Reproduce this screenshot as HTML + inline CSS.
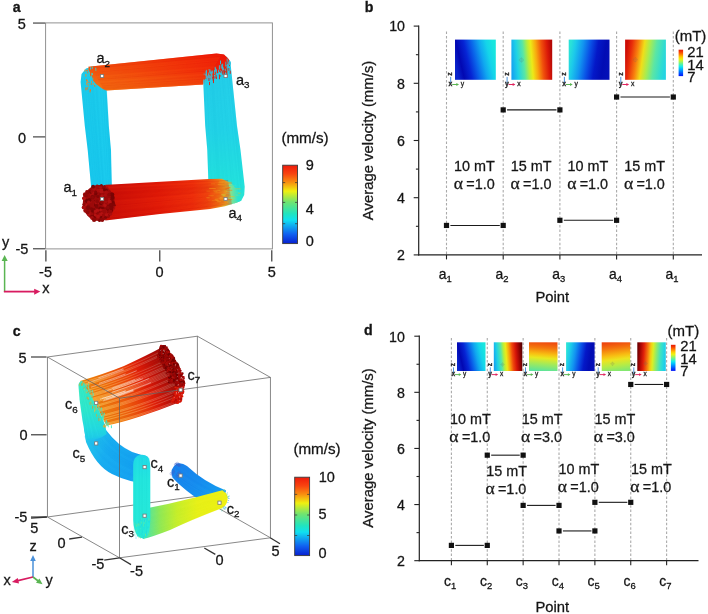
<!DOCTYPE html>
<html><head><meta charset="utf-8"><title>figure</title>
<style>
html,body{margin:0;padding:0;background:#fff;}
body{width:708px;height:614px;overflow:hidden;font-family:"Liberation Sans",sans-serif;}
svg{display:block;will-change:transform;}
svg text{font-family:"Liberation Sans",sans-serif;stroke:#141414;stroke-width:0.28px;}
</style></head><body>
<svg width="708" height="614" viewBox="0 0 708 614">
<defs><linearGradient id="g1" x1="0" y1="0" x2="0" y2="1" gradientUnits="objectBoundingBox"><stop offset="0.000" stop-color="#1ccaea"/><stop offset="1.000" stop-color="#18c6ec"/></linearGradient><linearGradient id="g2" x1="0" y1="0" x2="0" y2="1" gradientUnits="objectBoundingBox"><stop offset="0.000" stop-color="#24c8e8"/><stop offset="0.500" stop-color="#22d0e6"/><stop offset="0.850" stop-color="#22e0da"/><stop offset="1.000" stop-color="#2ae4d2"/></linearGradient><linearGradient id="g3" x1="89" y1="0" x2="228" y2="0" gradientUnits="userSpaceOnUse"><stop offset="0.000" stop-color="#f07414"/><stop offset="0.300" stop-color="#f05c0e"/><stop offset="0.600" stop-color="#f03c0a"/><stop offset="0.850" stop-color="#ee1e08"/><stop offset="1.000" stop-color="#e81408"/></linearGradient><linearGradient id="g4" x1="0" y1="0" x2="0" y2="1" gradientUnits="objectBoundingBox"><stop offset="0.000" stop-color="#ee1206"/><stop offset="0.450" stop-color="#f02808"/><stop offset="1.000" stop-color="#f68416"/></linearGradient><linearGradient id="g5" x1="89" y1="0" x2="228" y2="0" gradientUnits="userSpaceOnUse"><stop offset="0.000" stop-color="#666"/><stop offset="0.500" stop-color="#777"/><stop offset="1.000" stop-color="#888"/></linearGradient><mask id="mtop"><rect x="80" y="45" width="160" height="60" fill="url(#g5)"/></mask><linearGradient id="g6" x1="105" y1="0" x2="238" y2="0" gradientUnits="userSpaceOnUse"><stop offset="0.000" stop-color="#c00e08"/><stop offset="0.120" stop-color="#cc1008"/><stop offset="0.400" stop-color="#e01a08"/><stop offset="0.660" stop-color="#ee300c"/><stop offset="0.770" stop-color="#f04a10"/><stop offset="0.850" stop-color="#f07c16"/><stop offset="0.905" stop-color="#e4b82c"/><stop offset="0.950" stop-color="#80e090"/><stop offset="1.000" stop-color="#2ae4d2"/></linearGradient><linearGradient id="g7" x1="0" y1="0" x2="0" y2="1" gradientUnits="objectBoundingBox"><stop offset="0.000" stop-color="#ee1a0a"/><stop offset="0.110" stop-color="#f84410"/><stop offset="0.220" stop-color="#f89010"/><stop offset="0.330" stop-color="#f0f010"/><stop offset="0.470" stop-color="#70e470"/><stop offset="0.620" stop-color="#20e4c0"/><stop offset="0.700" stop-color="#10e0f0"/><stop offset="0.760" stop-color="#10b4f0"/><stop offset="0.880" stop-color="#1060f0"/><stop offset="1.000" stop-color="#0820d0"/></linearGradient><linearGradient id="g8" x1="0" y1="0.615" x2="1" y2="0.385" gradientUnits="objectBoundingBox"><stop offset="0.000" stop-color="#0a24cc"/><stop offset="0.140" stop-color="#0208b2"/><stop offset="0.320" stop-color="#0624d4"/><stop offset="0.500" stop-color="#0a64ea"/><stop offset="0.680" stop-color="#10a8f0"/><stop offset="0.840" stop-color="#14d4ea"/><stop offset="1.000" stop-color="#18e6de"/></linearGradient><linearGradient id="g9" x1="0" y1="0.54" x2="1" y2="0.46" gradientUnits="objectBoundingBox"><stop offset="0.000" stop-color="#16a4f0"/><stop offset="0.140" stop-color="#1ed2e6"/><stop offset="0.300" stop-color="#58e6a6"/><stop offset="0.420" stop-color="#b8ee3c"/><stop offset="0.500" stop-color="#ecea18"/><stop offset="0.620" stop-color="#f8a80e"/><stop offset="0.760" stop-color="#f0500c"/><stop offset="0.900" stop-color="#da1808"/><stop offset="1.000" stop-color="#b40806"/></linearGradient><linearGradient id="g10" x1="0" y1="0.42" x2="1" y2="0.58" gradientUnits="objectBoundingBox"><stop offset="0.000" stop-color="#2ae2d8"/><stop offset="0.120" stop-color="#1ccaea"/><stop offset="0.300" stop-color="#1294f0"/><stop offset="0.480" stop-color="#0a50e6"/><stop offset="0.660" stop-color="#0418c8"/><stop offset="0.850" stop-color="#020cb4"/><stop offset="1.000" stop-color="#0410b8"/></linearGradient><linearGradient id="g11" x1="0" y1="0.43" x2="1" y2="0.57" gradientUnits="objectBoundingBox"><stop offset="0.000" stop-color="#cc0c06"/><stop offset="0.120" stop-color="#e82c0a"/><stop offset="0.280" stop-color="#f8800e"/><stop offset="0.420" stop-color="#f0de18"/><stop offset="0.560" stop-color="#a8ec50"/><stop offset="0.720" stop-color="#5ce6a4"/><stop offset="0.900" stop-color="#30dcd0"/><stop offset="1.000" stop-color="#24d4e2"/></linearGradient><linearGradient id="g12" x1="0" y1="1" x2="0" y2="0" gradientUnits="objectBoundingBox"><stop offset="0.000" stop-color="#0012f7"/><stop offset="0.091" stop-color="#0047ff"/><stop offset="0.182" stop-color="#0082ff"/><stop offset="0.273" stop-color="#00bdff"/><stop offset="0.364" stop-color="#16ebe9"/><stop offset="0.455" stop-color="#5af3a2"/><stop offset="0.545" stop-color="#a5f557"/><stop offset="0.636" stop-color="#eef211"/><stop offset="0.727" stop-color="#ffca00"/><stop offset="0.818" stop-color="#ff8200"/><stop offset="0.909" stop-color="#f74203"/><stop offset="1.000" stop-color="#e41805"/></linearGradient><linearGradient id="g13" x1="172" y1="465" x2="224" y2="500" gradientUnits="userSpaceOnUse"><stop offset="0.000" stop-color="#1a7eea"/><stop offset="0.500" stop-color="#168cee"/><stop offset="1.000" stop-color="#14a4f0"/></linearGradient><linearGradient id="g14" x1="222" y1="0" x2="140" y2="0" gradientUnits="userSpaceOnUse"><stop offset="0.000" stop-color="#eef012"/><stop offset="0.300" stop-color="#e8f018"/><stop offset="0.550" stop-color="#c4ee2c"/><stop offset="0.750" stop-color="#8ce858"/><stop offset="0.900" stop-color="#50e4a0"/><stop offset="1.000" stop-color="#2ae4d4"/></linearGradient><linearGradient id="g15" x1="85" y1="440" x2="148" y2="470" gradientUnits="userSpaceOnUse"><stop offset="0.000" stop-color="#24c8ea"/><stop offset="0.350" stop-color="#18acf0"/><stop offset="0.800" stop-color="#14a0f0"/><stop offset="1.000" stop-color="#1cb4ee"/></linearGradient><linearGradient id="g16" x1="0" y1="0" x2="0" y2="1" gradientUnits="objectBoundingBox"><stop offset="0.000" stop-color="#20d6e8"/><stop offset="0.300" stop-color="#22e4dc"/><stop offset="1.000" stop-color="#26e8d4"/></linearGradient><linearGradient id="g17" x1="80" y1="418" x2="188" y2="366" gradientUnits="userSpaceOnUse"><stop offset="0.000" stop-color="#f4b01c"/><stop offset="0.120" stop-color="#f29c16"/><stop offset="0.260" stop-color="#f08410"/><stop offset="0.400" stop-color="#f0640e"/><stop offset="0.520" stop-color="#ea3e0a"/><stop offset="0.620" stop-color="#de1a08"/><stop offset="0.720" stop-color="#bc0e08"/><stop offset="0.810" stop-color="#9e0a08"/><stop offset="0.900" stop-color="#860606"/><stop offset="1.000" stop-color="#740404"/></linearGradient><linearGradient id="g18" x1="0" y1="0" x2="0" y2="1" gradientUnits="objectBoundingBox"><stop offset="0.000" stop-color="#3cecc0"/><stop offset="0.500" stop-color="#2ee6cc"/><stop offset="0.800" stop-color="#22d8e2"/><stop offset="1.000" stop-color="#1cc4ec"/></linearGradient><linearGradient id="g19" x1="0" y1="0" x2="0" y2="1" gradientUnits="objectBoundingBox"><stop offset="0.000" stop-color="#ee1a0a"/><stop offset="0.110" stop-color="#f84410"/><stop offset="0.220" stop-color="#f89010"/><stop offset="0.330" stop-color="#f0f010"/><stop offset="0.470" stop-color="#70e470"/><stop offset="0.620" stop-color="#20e4c0"/><stop offset="0.700" stop-color="#10e0f0"/><stop offset="0.760" stop-color="#10b4f0"/><stop offset="0.880" stop-color="#1060f0"/><stop offset="1.000" stop-color="#0820d0"/></linearGradient><linearGradient id="g20" x1="0" y1="0.615" x2="1" y2="0.385" gradientUnits="objectBoundingBox"><stop offset="0.000" stop-color="#0a24cc"/><stop offset="0.140" stop-color="#0208b2"/><stop offset="0.320" stop-color="#0624d4"/><stop offset="0.500" stop-color="#0a64ea"/><stop offset="0.680" stop-color="#10a8f0"/><stop offset="0.840" stop-color="#14d4ea"/><stop offset="1.000" stop-color="#18e6de"/></linearGradient><linearGradient id="g21" x1="0" y1="0.54" x2="1" y2="0.46" gradientUnits="objectBoundingBox"><stop offset="0.000" stop-color="#16a4f0"/><stop offset="0.120" stop-color="#1ed2e6"/><stop offset="0.260" stop-color="#58e6a6"/><stop offset="0.360" stop-color="#b8ee3c"/><stop offset="0.440" stop-color="#ecea18"/><stop offset="0.550" stop-color="#f8a00e"/><stop offset="0.660" stop-color="#f0480c"/><stop offset="0.780" stop-color="#d41408"/><stop offset="0.900" stop-color="#980404"/><stop offset="1.000" stop-color="#5c0000"/></linearGradient><linearGradient id="g22" x1="0.54" y1="0" x2="0.46" y2="1" gradientUnits="objectBoundingBox"><stop offset="0.000" stop-color="#ee4a0e"/><stop offset="0.200" stop-color="#f4780e"/><stop offset="0.420" stop-color="#f8c012"/><stop offset="0.550" stop-color="#e8e820"/><stop offset="0.750" stop-color="#a4ea58"/><stop offset="1.000" stop-color="#5ce49c"/></linearGradient><linearGradient id="g23" x1="0" y1="0.42" x2="1" y2="0.58" gradientUnits="objectBoundingBox"><stop offset="0.000" stop-color="#2ae2d8"/><stop offset="0.120" stop-color="#1ccaea"/><stop offset="0.300" stop-color="#1294f0"/><stop offset="0.480" stop-color="#0a50e6"/><stop offset="0.660" stop-color="#0418c8"/><stop offset="0.850" stop-color="#020cb4"/><stop offset="1.000" stop-color="#0410b8"/></linearGradient><linearGradient id="g24" x1="0.44" y1="0" x2="0.56" y2="1" gradientUnits="objectBoundingBox"><stop offset="0.000" stop-color="#ee460e"/><stop offset="0.200" stop-color="#f4740e"/><stop offset="0.450" stop-color="#f8bc12"/><stop offset="0.600" stop-color="#ece420"/><stop offset="0.800" stop-color="#b8ec44"/><stop offset="1.000" stop-color="#84e870"/></linearGradient><linearGradient id="g25" x1="0" y1="0.47" x2="1" y2="0.53" gradientUnits="objectBoundingBox"><stop offset="0.000" stop-color="#6c0000"/><stop offset="0.100" stop-color="#a80604"/><stop offset="0.220" stop-color="#e0200a"/><stop offset="0.360" stop-color="#f6780e"/><stop offset="0.460" stop-color="#f6c812"/><stop offset="0.540" stop-color="#dcee24"/><stop offset="0.660" stop-color="#90ea6c"/><stop offset="0.800" stop-color="#44e2bc"/><stop offset="0.920" stop-color="#24d6e2"/><stop offset="1.000" stop-color="#1ec8ec"/></linearGradient><linearGradient id="g26" x1="0" y1="1" x2="0" y2="0" gradientUnits="objectBoundingBox"><stop offset="0.000" stop-color="#0012f7"/><stop offset="0.091" stop-color="#0047ff"/><stop offset="0.182" stop-color="#0082ff"/><stop offset="0.273" stop-color="#00bdff"/><stop offset="0.364" stop-color="#16ebe9"/><stop offset="0.455" stop-color="#5af3a2"/><stop offset="0.545" stop-color="#a5f557"/><stop offset="0.636" stop-color="#eef211"/><stop offset="0.727" stop-color="#ffca00"/><stop offset="0.818" stop-color="#ff8200"/><stop offset="0.909" stop-color="#f74203"/><stop offset="1.000" stop-color="#e41805"/></linearGradient></defs>
<rect width="708" height="614" fill="#fff"/>
<g id="panelA">
<rect x="45.6" y="22.9" width="226.8" height="226" fill="none" stroke="#8c8c8c" stroke-width="0.95"/>
<line x1="33.00" y1="23.05" x2="45.20" y2="23.05" stroke="#2a2a2a" stroke-width="1.05" />
<line x1="33.00" y1="136.90" x2="45.20" y2="136.90" stroke="#2a2a2a" stroke-width="1.05" />
<line x1="33.00" y1="248.80" x2="45.20" y2="248.80" stroke="#2a2a2a" stroke-width="1.05" />
<line x1="45.90" y1="250.20" x2="45.90" y2="261.50" stroke="#262626" stroke-width="1.1" />
<line x1="159.80" y1="250.20" x2="159.80" y2="261.50" stroke="#262626" stroke-width="1.1" />
<line x1="271.80" y1="250.20" x2="271.80" y2="261.50" stroke="#262626" stroke-width="1.1" />
<text x="21.80" y="29.39" font-size="14.5" text-anchor="middle" fill="#141414" >5</text>
<text x="22.10" y="142.69" font-size="14.5" text-anchor="middle" fill="#141414" >0</text>
<text x="21.90" y="253.79" font-size="14.5" text-anchor="middle" fill="#141414" >-5</text>
<text x="45.50" y="276.79" font-size="14.5" text-anchor="middle" fill="#141414" >-5</text>
<text x="159.60" y="276.79" font-size="14.5" text-anchor="middle" fill="#141414" >0</text>
<text x="271.80" y="276.79" font-size="14.5" text-anchor="middle" fill="#141414" >5</text>
<text x="16.70" y="11.98" font-size="14.2" text-anchor="middle" font-weight="bold" fill="#141414" >a</text>
<polygon points="80.6,82.0 81.5,74.0 86.0,68.5 95.0,66.0 106.0,70.0 106.7,90.8 108.8,126.0 111.0,150.0 111.8,186.0 91.2,188.0 87.7,150.0 84.8,126.0" fill="url(#g1)" />
<line x1="81.5" y1="78.0" x2="91.9" y2="188.0" stroke="#18c9eb" stroke-width="0.6" opacity="0.28"/>
<line x1="82.5" y1="78.0" x2="92.7" y2="188.0" stroke="#13c3e7" stroke-width="0.6" opacity="0.28"/>
<line x1="83.5" y1="78.0" x2="93.5" y2="188.0" stroke="#22d4f2" stroke-width="0.6" opacity="0.28"/>
<line x1="84.4" y1="78.0" x2="94.3" y2="188.0" stroke="#11c0e5" stroke-width="0.6" opacity="0.28"/>
<line x1="85.4" y1="78.0" x2="95.1" y2="188.0" stroke="#1fd0ef" stroke-width="0.6" opacity="0.28"/>
<line x1="86.4" y1="78.0" x2="95.9" y2="188.0" stroke="#19caec" stroke-width="0.6" opacity="0.28"/>
<line x1="87.4" y1="78.0" x2="96.7" y2="188.0" stroke="#10c0e5" stroke-width="0.6" opacity="0.28"/>
<line x1="88.4" y1="78.0" x2="97.5" y2="188.0" stroke="#1ecfef" stroke-width="0.6" opacity="0.28"/>
<line x1="89.3" y1="78.0" x2="98.3" y2="188.0" stroke="#10bfe4" stroke-width="0.6" opacity="0.28"/>
<line x1="90.3" y1="78.0" x2="99.1" y2="188.0" stroke="#1ccded" stroke-width="0.6" opacity="0.28"/>
<line x1="91.3" y1="78.0" x2="99.9" y2="188.0" stroke="#11c0e5" stroke-width="0.6" opacity="0.28"/>
<line x1="92.3" y1="78.0" x2="100.7" y2="188.0" stroke="#11c1e5" stroke-width="0.6" opacity="0.28"/>
<line x1="93.3" y1="78.0" x2="101.5" y2="188.0" stroke="#1bcced" stroke-width="0.6" opacity="0.28"/>
<line x1="94.2" y1="78.0" x2="102.2" y2="188.0" stroke="#27daf6" stroke-width="0.6" opacity="0.28"/>
<line x1="95.2" y1="78.0" x2="103.0" y2="188.0" stroke="#12c2e6" stroke-width="0.6" opacity="0.28"/>
<line x1="96.2" y1="78.0" x2="103.8" y2="188.0" stroke="#15c5e8" stroke-width="0.6" opacity="0.28"/>
<line x1="97.2" y1="78.0" x2="104.6" y2="188.0" stroke="#21d3f1" stroke-width="0.6" opacity="0.28"/>
<line x1="98.2" y1="78.0" x2="105.4" y2="188.0" stroke="#2bdff8" stroke-width="0.6" opacity="0.28"/>
<line x1="99.1" y1="78.0" x2="106.2" y2="188.0" stroke="#20d2f0" stroke-width="0.6" opacity="0.28"/>
<line x1="100.1" y1="78.0" x2="107.0" y2="188.0" stroke="#1acbec" stroke-width="0.6" opacity="0.28"/>
<line x1="101.1" y1="78.0" x2="107.8" y2="188.0" stroke="#2ce0f9" stroke-width="0.6" opacity="0.28"/>
<line x1="102.1" y1="78.0" x2="108.6" y2="188.0" stroke="#10bfe5" stroke-width="0.6" opacity="0.28"/>
<line x1="103.1" y1="78.0" x2="109.4" y2="188.0" stroke="#28dcf6" stroke-width="0.6" opacity="0.28"/>
<line x1="104.0" y1="78.0" x2="110.2" y2="188.0" stroke="#17c8ea" stroke-width="0.6" opacity="0.28"/>
<line x1="105.0" y1="78.0" x2="111.0" y2="188.0" stroke="#13c3e7" stroke-width="0.6" opacity="0.28"/>
<line x1="106.0" y1="78.0" x2="111.8" y2="188.0" stroke="#12c2e6" stroke-width="0.6" opacity="0.28"/>
<polygon points="203.1,79.5 203.1,66.0 212.0,57.0 222.0,54.5 227.0,57.0 230.6,64.0 237.0,126.0 240.5,150.0 244.7,186.7 244.2,195.0 241.2,200.8 234.9,203.2 222.0,201.0 208.7,190.0 207.3,150.0 205.2,126.0" fill="url(#g2)" />
<line x1="204.0" y1="66.0" x2="209.6" y2="199.9" stroke="#1bd1e5" stroke-width="0.6" opacity="0.28"/>
<line x1="204.9" y1="66.0" x2="210.9" y2="199.6" stroke="#2ae3f2" stroke-width="0.6" opacity="0.28"/>
<line x1="205.9" y1="66.0" x2="212.2" y2="199.3" stroke="#17cce2" stroke-width="0.6" opacity="0.28"/>
<line x1="206.9" y1="66.0" x2="213.4" y2="199.0" stroke="#23daec" stroke-width="0.6" opacity="0.28"/>
<line x1="207.8" y1="66.0" x2="214.7" y2="198.7" stroke="#25dded" stroke-width="0.6" opacity="0.28"/>
<line x1="208.8" y1="66.0" x2="216.0" y2="198.4" stroke="#1dd3e7" stroke-width="0.6" opacity="0.28"/>
<line x1="209.8" y1="66.0" x2="217.2" y2="198.1" stroke="#22d9eb" stroke-width="0.6" opacity="0.28"/>
<line x1="210.7" y1="66.0" x2="218.5" y2="197.9" stroke="#13c8df" stroke-width="0.6" opacity="0.28"/>
<line x1="211.7" y1="66.0" x2="219.8" y2="197.6" stroke="#13c8df" stroke-width="0.6" opacity="0.28"/>
<line x1="212.7" y1="66.0" x2="221.0" y2="197.3" stroke="#18cde3" stroke-width="0.6" opacity="0.28"/>
<line x1="213.6" y1="66.0" x2="222.3" y2="197.0" stroke="#26deef" stroke-width="0.6" opacity="0.28"/>
<line x1="214.6" y1="66.0" x2="223.6" y2="196.7" stroke="#1ed5e8" stroke-width="0.6" opacity="0.28"/>
<line x1="215.6" y1="66.0" x2="224.8" y2="196.4" stroke="#1bd1e5" stroke-width="0.6" opacity="0.28"/>
<line x1="216.5" y1="66.0" x2="226.1" y2="196.1" stroke="#23dbec" stroke-width="0.6" opacity="0.28"/>
<line x1="217.5" y1="66.0" x2="227.4" y2="195.9" stroke="#1fd6e9" stroke-width="0.6" opacity="0.28"/>
<line x1="218.4" y1="66.0" x2="228.7" y2="195.6" stroke="#1ad0e5" stroke-width="0.6" opacity="0.28"/>
<line x1="219.4" y1="66.0" x2="229.9" y2="195.3" stroke="#29e2f1" stroke-width="0.6" opacity="0.28"/>
<line x1="220.4" y1="66.0" x2="231.2" y2="195.0" stroke="#26dfef" stroke-width="0.6" opacity="0.28"/>
<line x1="221.3" y1="66.0" x2="232.5" y2="194.7" stroke="#19cee4" stroke-width="0.6" opacity="0.28"/>
<line x1="222.3" y1="66.0" x2="233.7" y2="194.4" stroke="#23daec" stroke-width="0.6" opacity="0.28"/>
<line x1="223.3" y1="66.0" x2="235.0" y2="194.1" stroke="#21d8eb" stroke-width="0.6" opacity="0.28"/>
<line x1="224.2" y1="66.0" x2="236.3" y2="193.9" stroke="#2ce5f3" stroke-width="0.6" opacity="0.28"/>
<line x1="225.2" y1="66.0" x2="237.5" y2="193.6" stroke="#27e0f0" stroke-width="0.6" opacity="0.28"/>
<line x1="226.2" y1="66.0" x2="238.8" y2="193.3" stroke="#1ad0e5" stroke-width="0.6" opacity="0.28"/>
<line x1="227.1" y1="66.0" x2="240.1" y2="193.0" stroke="#2fe9f6" stroke-width="0.6" opacity="0.28"/>
<line x1="228.1" y1="66.0" x2="241.3" y2="192.7" stroke="#15cae0" stroke-width="0.6" opacity="0.28"/>
<line x1="229.1" y1="66.0" x2="242.6" y2="192.4" stroke="#1ed5e8" stroke-width="0.6" opacity="0.28"/>
<line x1="230.0" y1="66.0" x2="243.9" y2="192.1" stroke="#28e1f0" stroke-width="0.6" opacity="0.28"/>
<polygon points="88.4,66.7 216.5,53.4 224.0,54.6 228.6,59.0 230.0,65.8 224.0,69.5 214.0,75.0 203.1,80.5 203.1,84.6 106.7,90.4 102.0,88.6 95.5,83.5 90.4,77.0" fill="url(#g3)" />
<polygon points="88.4,66.7 216.5,53.4 224.0,54.6 228.6,59.0 230.0,65.8 224.0,69.5 214.0,75.0 203.1,80.5 203.1,84.6 106.7,90.4 102.0,88.6 95.5,83.5 90.4,77.0" fill="url(#g4)" mask="url(#mtop)"/>
<line x1="91.2" y1="66.8" x2="221.7" y2="54.3" stroke="#e53107" stroke-width="0.6" opacity="0.35"/>
<line x1="91.7" y1="67.6" x2="221.1" y2="55.3" stroke="#ef450c" stroke-width="0.6" opacity="0.35"/>
<line x1="92.1" y1="68.4" x2="220.5" y2="56.4" stroke="#e22a05" stroke-width="0.6" opacity="0.35"/>
<line x1="92.5" y1="69.2" x2="219.8" y2="57.4" stroke="#f5500f" stroke-width="0.6" opacity="0.35"/>
<line x1="93.0" y1="70.0" x2="219.2" y2="58.4" stroke="#f75510" stroke-width="0.6" opacity="0.35"/>
<line x1="93.4" y1="70.8" x2="218.6" y2="59.4" stroke="#f24a0d" stroke-width="0.6" opacity="0.35"/>
<line x1="93.8" y1="71.6" x2="218.0" y2="60.5" stroke="#fb5c12" stroke-width="0.6" opacity="0.35"/>
<line x1="94.2" y1="72.4" x2="217.4" y2="61.5" stroke="#ea3a09" stroke-width="0.6" opacity="0.35"/>
<line x1="94.7" y1="73.2" x2="216.8" y2="62.5" stroke="#f5510f" stroke-width="0.6" opacity="0.35"/>
<line x1="95.1" y1="74.0" x2="216.1" y2="63.5" stroke="#f24b0d" stroke-width="0.6" opacity="0.35"/>
<line x1="95.5" y1="74.8" x2="215.5" y2="64.5" stroke="#f24a0d" stroke-width="0.6" opacity="0.35"/>
<line x1="96.0" y1="75.6" x2="214.9" y2="65.6" stroke="#ee430b" stroke-width="0.6" opacity="0.35"/>
<line x1="96.4" y1="76.4" x2="214.3" y2="66.6" stroke="#fa5a11" stroke-width="0.6" opacity="0.35"/>
<line x1="96.8" y1="77.2" x2="213.7" y2="67.6" stroke="#fd6013" stroke-width="0.6" opacity="0.35"/>
<line x1="97.3" y1="78.0" x2="213.1" y2="68.6" stroke="#ef440c" stroke-width="0.6" opacity="0.35"/>
<line x1="97.7" y1="78.8" x2="212.4" y2="69.7" stroke="#f44f0e" stroke-width="0.6" opacity="0.35"/>
<line x1="98.2" y1="79.6" x2="211.8" y2="70.7" stroke="#e22b05" stroke-width="0.6" opacity="0.35"/>
<line x1="98.6" y1="80.4" x2="211.2" y2="71.7" stroke="#f6520f" stroke-width="0.6" opacity="0.35"/>
<line x1="99.0" y1="81.2" x2="210.6" y2="72.7" stroke="#f44e0e" stroke-width="0.6" opacity="0.35"/>
<line x1="99.5" y1="82.0" x2="210.0" y2="73.8" stroke="#fe6313" stroke-width="0.6" opacity="0.35"/>
<line x1="99.9" y1="82.8" x2="209.4" y2="74.8" stroke="#f95911" stroke-width="0.6" opacity="0.35"/>
<line x1="100.3" y1="83.6" x2="208.7" y2="75.8" stroke="#e93909" stroke-width="0.6" opacity="0.35"/>
<line x1="100.8" y1="84.4" x2="208.1" y2="76.8" stroke="#ec3f0a" stroke-width="0.6" opacity="0.35"/>
<line x1="101.2" y1="85.2" x2="207.5" y2="77.8" stroke="#f5500f" stroke-width="0.6" opacity="0.35"/>
<line x1="101.6" y1="86.0" x2="206.9" y2="78.9" stroke="#e12905" stroke-width="0.6" opacity="0.35"/>
<line x1="102.0" y1="86.8" x2="206.3" y2="79.9" stroke="#ee430b" stroke-width="0.6" opacity="0.35"/>
<line x1="102.5" y1="87.6" x2="205.7" y2="80.9" stroke="#e63207" stroke-width="0.6" opacity="0.35"/>
<line x1="102.9" y1="88.4" x2="205.0" y2="81.9" stroke="#e42f06" stroke-width="0.6" opacity="0.35"/>
<line x1="103.3" y1="89.2" x2="204.4" y2="83.0" stroke="#e22b05" stroke-width="0.6" opacity="0.35"/>
<line x1="103.8" y1="90.0" x2="203.8" y2="84.0" stroke="#f85610" stroke-width="0.6" opacity="0.35"/>
<rect x="86.0" y="70.2" width="0.9" height="1.0" fill="#f0781a"/>
<rect x="90.9" y="77.6" width="0.9" height="1.1" fill="#22cbe6"/>
<rect x="87.2" y="69.9" width="0.9" height="1.2" fill="#f0781a"/>
<rect x="95.3" y="67.7" width="0.9" height="1.3" fill="#30cfd8"/>
<rect x="92.3" y="77.6" width="0.9" height="2.5" fill="#22cbe6"/>
<rect x="90.0" y="89.4" width="0.9" height="1.5" fill="#f0781a"/>
<rect x="96.1" y="85.2" width="0.9" height="1.2" fill="#58c8a0"/>
<rect x="90.8" y="83.1" width="0.9" height="1.9" fill="#f0781a"/>
<rect x="86.1" y="79.2" width="0.9" height="2.1" fill="#f0781a"/>
<rect x="88.9" y="71.8" width="0.9" height="2.1" fill="#30cfd8"/>
<rect x="95.4" y="68.9" width="0.9" height="2.0" fill="#58c8a0"/>
<rect x="94.1" y="84.8" width="0.9" height="1.5" fill="#f0781a"/>
<rect x="91.8" y="67.7" width="0.9" height="1.4" fill="#22cbe6"/>
<rect x="86.3" y="82.0" width="0.9" height="3.0" fill="#e89030"/>
<rect x="91.1" y="76.1" width="0.9" height="2.4" fill="#22cbe6"/>
<rect x="91.8" y="66.4" width="0.9" height="1.6" fill="#58c8a0"/>
<rect x="87.6" y="87.0" width="0.9" height="1.1" fill="#e89030"/>
<rect x="94.4" y="82.8" width="0.9" height="2.6" fill="#22cbe6"/>
<rect x="86.7" y="87.5" width="0.9" height="2.3" fill="#f0781a"/>
<rect x="87.8" y="68.6" width="0.9" height="1.4" fill="#f0781a"/>
<rect x="87.3" y="71.5" width="0.9" height="1.8" fill="#f0781a"/>
<rect x="90.0" y="67.3" width="0.9" height="2.3" fill="#22cbe6"/>
<rect x="89.6" y="89.6" width="0.9" height="2.9" fill="#f0781a"/>
<rect x="89.2" y="74.6" width="0.9" height="1.2" fill="#30cfd8"/>
<rect x="88.6" y="81.7" width="0.9" height="1.2" fill="#f0781a"/>
<rect x="94.4" y="85.5" width="0.9" height="1.2" fill="#f0781a"/>
<rect x="87.7" y="84.2" width="0.9" height="2.0" fill="#e89030"/>
<rect x="84.5" y="69.5" width="0.9" height="2.2" fill="#e89030"/>
<rect x="92.8" y="83.0" width="0.9" height="1.9" fill="#e89030"/>
<rect x="85.4" y="87.4" width="0.9" height="2.9" fill="#f0781a"/>
<rect x="87.2" y="80.0" width="0.9" height="2.9" fill="#e89030"/>
<rect x="92.0" y="73.2" width="0.9" height="1.8" fill="#30cfd8"/>
<rect x="85.4" y="74.0" width="0.9" height="2.7" fill="#e89030"/>
<rect x="90.2" y="76.3" width="0.9" height="1.6" fill="#22cbe6"/>
<rect x="91.2" y="80.8" width="0.9" height="2.0" fill="#e89030"/>
<rect x="91.3" y="72.8" width="0.9" height="3.0" fill="#58c8a0"/>
<rect x="218.0" y="70.7" width="0.9" height="1.3" fill="#24c8e8"/>
<rect x="214.5" y="76.3" width="0.9" height="2.4" fill="#e81a08"/>
<rect x="205.5" y="73.9" width="0.9" height="1.8" fill="#58b0c0"/>
<rect x="229.9" y="61.4" width="0.9" height="2.9" fill="#24c8e8"/>
<rect x="222.0" y="66.4" width="0.9" height="4.5" fill="#30b8d8"/>
<rect x="205.9" y="69.8" width="0.9" height="4.8" fill="#30b8d8"/>
<rect x="227.3" y="64.3" width="0.9" height="1.2" fill="#58b0c0"/>
<rect x="207.3" y="77.4" width="0.9" height="2.1" fill="#24c8e8"/>
<rect x="222.2" y="69.7" width="0.9" height="2.8" fill="#30b8d8"/>
<rect x="210.9" y="71.8" width="0.9" height="4.0" fill="#30b8d8"/>
<rect x="208.4" y="72.5" width="0.9" height="2.1" fill="#24c8e8"/>
<rect x="227.5" y="60.5" width="0.9" height="5.0" fill="#30b8d8"/>
<rect x="226.4" y="67.4" width="0.9" height="4.8" fill="#58b0c0"/>
<rect x="208.9" y="75.1" width="0.9" height="5.0" fill="#24c8e8"/>
<rect x="213.0" y="78.9" width="0.9" height="4.2" fill="#e81a08"/>
<rect x="214.1" y="70.2" width="0.9" height="2.2" fill="#24c8e8"/>
<rect x="218.3" y="69.7" width="0.9" height="3.6" fill="#30b8d8"/>
<rect x="214.7" y="66.8" width="0.9" height="2.6" fill="#24c8e8"/>
<rect x="226.8" y="67.5" width="0.9" height="1.2" fill="#e81a08"/>
<rect x="207.6" y="75.3" width="0.9" height="4.7" fill="#24c8e8"/>
<rect x="229.1" y="59.9" width="0.9" height="4.9" fill="#24c8e8"/>
<rect x="225.4" y="61.6" width="0.9" height="4.8" fill="#30b8d8"/>
<rect x="207.2" y="75.8" width="0.9" height="4.3" fill="#58b0c0"/>
<rect x="209.7" y="75.1" width="0.9" height="2.8" fill="#58b0c0"/>
<rect x="205.5" y="78.7" width="0.9" height="1.2" fill="#24c8e8"/>
<rect x="227.4" y="67.0" width="0.9" height="1.8" fill="#30b8d8"/>
<rect x="210.1" y="77.7" width="0.9" height="1.8" fill="#e81a08"/>
<rect x="222.9" y="67.5" width="0.9" height="3.3" fill="#30b8d8"/>
<rect x="209.1" y="81.8" width="0.9" height="3.3" fill="#e81a08"/>
<rect x="214.2" y="70.6" width="0.9" height="3.5" fill="#30b8d8"/>
<rect x="209.6" y="69.5" width="0.9" height="1.6" fill="#58b0c0"/>
<rect x="203.7" y="73.6" width="0.9" height="1.0" fill="#24c8e8"/>
<rect x="211.4" y="72.1" width="0.9" height="4.1" fill="#58b0c0"/>
<rect x="215.2" y="68.2" width="0.9" height="3.6" fill="#24c8e8"/>
<rect x="228.5" y="61.8" width="0.9" height="3.2" fill="#58b0c0"/>
<rect x="226.8" y="64.3" width="0.9" height="4.7" fill="#58b0c0"/>
<rect x="215.7" y="75.2" width="0.9" height="2.7" fill="#e81a08"/>
<rect x="222.6" y="72.4" width="0.9" height="2.6" fill="#e81a08"/>
<rect x="218.8" y="74.4" width="0.9" height="1.1" fill="#e81a08"/>
<rect x="208.6" y="69.1" width="0.9" height="1.3" fill="#58b0c0"/>
<rect x="211.0" y="73.2" width="0.9" height="2.0" fill="#30b8d8"/>
<rect x="226.0" y="71.7" width="0.9" height="1.1" fill="#d82010"/>
<rect x="225.4" y="71.0" width="0.9" height="1.0" fill="#d82010"/>
<rect x="228.5" y="62.3" width="0.9" height="1.9" fill="#58b0c0"/>
<rect x="205.8" y="75.8" width="0.9" height="4.6" fill="#30b8d8"/>
<rect x="220.8" y="64.4" width="0.9" height="4.2" fill="#24c8e8"/>
<rect x="222.8" y="69.0" width="0.9" height="4.6" fill="#58b0c0"/>
<rect x="209.2" y="70.5" width="0.9" height="2.3" fill="#30b8d8"/>
<rect x="209.8" y="76.0" width="0.9" height="4.4" fill="#58b0c0"/>
<rect x="227.2" y="64.1" width="0.9" height="4.6" fill="#30b8d8"/>
<rect x="205.9" y="73.9" width="0.9" height="4.1" fill="#58b0c0"/>
<rect x="228.4" y="68.0" width="0.9" height="2.8" fill="#c83828"/>
<rect x="208.5" y="77.9" width="0.9" height="3.1" fill="#d82010"/>
<rect x="203.4" y="79.3" width="0.9" height="3.7" fill="#58b0c0"/>
<rect x="216.1" y="77.3" width="0.9" height="1.6" fill="#d82010"/>
<rect x="211.2" y="74.2" width="0.9" height="4.6" fill="#58b0c0"/>
<rect x="220.1" y="60.5" width="0.9" height="3.6" fill="#24c8e8"/>
<rect x="210.1" y="71.2" width="0.9" height="3.2" fill="#30b8d8"/>
<rect x="221.8" y="71.1" width="0.9" height="2.5" fill="#d82010"/>
<rect x="220.2" y="75.3" width="0.9" height="1.2" fill="#c83828"/>
<rect x="212.6" y="76.1" width="0.9" height="4.5" fill="#d82010"/>
<rect x="226.7" y="58.5" width="0.9" height="2.8" fill="#58b0c0"/>
<rect x="224.2" y="71.3" width="0.9" height="1.7" fill="#d82010"/>
<rect x="229.8" y="70.6" width="0.9" height="3.2" fill="#d82010"/>
<rect x="219.9" y="70.4" width="0.9" height="1.5" fill="#58b0c0"/>
<rect x="226.2" y="68.4" width="0.9" height="4.8" fill="#d82010"/>
<rect x="222.6" y="70.0" width="0.9" height="2.5" fill="#e81a08"/>
<rect x="224.2" y="71.5" width="0.9" height="3.5" fill="#e81a08"/>
<rect x="226.5" y="74.0" width="0.9" height="3.4" fill="#e81a08"/>
<rect x="226.4" y="70.3" width="0.9" height="3.7" fill="#c83828"/>
<rect x="227.7" y="64.3" width="0.9" height="2.9" fill="#58b0c0"/>
<rect x="229.5" y="62.3" width="0.9" height="2.9" fill="#30b8d8"/>
<rect x="224.4" y="68.8" width="0.9" height="4.1" fill="#d82010"/>
<rect x="218.9" y="65.3" width="0.9" height="4.2" fill="#24c8e8"/>
<rect x="213.0" y="75.1" width="0.9" height="3.4" fill="#d82010"/>
<rect x="212.3" y="76.8" width="0.9" height="1.8" fill="#e81a08"/>
<rect x="211.6" y="70.4" width="0.9" height="3.0" fill="#58b0c0"/>
<rect x="223.6" y="69.8" width="0.9" height="4.0" fill="#d82010"/>
<rect x="211.7" y="70.9" width="0.9" height="2.5" fill="#30b8d8"/>
<rect x="228.0" y="65.0" width="0.9" height="2.8" fill="#24c8e8"/>
<rect x="225.7" y="65.1" width="0.9" height="1.4" fill="#30b8d8"/>
<rect x="215.3" y="74.3" width="0.9" height="1.2" fill="#c83828"/>
<rect x="215.9" y="69.3" width="0.9" height="4.9" fill="#24c8e8"/>
<rect x="214.7" y="69.4" width="0.9" height="1.4" fill="#24c8e8"/>
<rect x="222.2" y="63.7" width="0.9" height="4.6" fill="#24c8e8"/>
<rect x="208.2" y="74.0" width="0.9" height="3.9" fill="#58b0c0"/>
<rect x="226.3" y="68.5" width="0.9" height="1.5" fill="#d82010"/>
<rect x="220.2" y="71.2" width="0.9" height="1.4" fill="#d82010"/>
<rect x="226.5" y="73.8" width="0.9" height="2.9" fill="#e81a08"/>
<rect x="219.1" y="75.1" width="0.9" height="4.1" fill="#e81a08"/>
<rect x="204.9" y="78.9" width="0.9" height="1.9" fill="#24c8e8"/>
<rect x="205.7" y="70.9" width="0.9" height="4.8" fill="#24c8e8"/>
<polygon points="105.3,184.8 112.4,184.4 208.7,179.0 222.0,178.8 232.0,184.0 240.0,193.0 241.2,200.8 234.9,203.2 225.0,206.2 210.0,208.9 160.0,213.9 105.3,220.4" fill="url(#g6)" />
<line x1="108.0" y1="185.5" x2="228.1" y2="180.4" stroke="#ce1006" stroke-width="0.6" opacity="0.35"/>
<line x1="108.0" y1="186.5" x2="228.2" y2="181.1" stroke="#e8270a" stroke-width="0.6" opacity="0.35"/>
<line x1="108.0" y1="187.6" x2="228.3" y2="181.8" stroke="#fc390e" stroke-width="0.6" opacity="0.35"/>
<line x1="108.0" y1="188.6" x2="228.4" y2="182.5" stroke="#e4230a" stroke-width="0.6" opacity="0.35"/>
<line x1="108.0" y1="189.6" x2="228.5" y2="183.2" stroke="#d61707" stroke-width="0.6" opacity="0.35"/>
<line x1="108.0" y1="190.7" x2="228.6" y2="184.0" stroke="#e12109" stroke-width="0.6" opacity="0.35"/>
<line x1="108.0" y1="191.7" x2="228.8" y2="184.7" stroke="#e5240a" stroke-width="0.6" opacity="0.35"/>
<line x1="108.0" y1="192.7" x2="228.9" y2="185.4" stroke="#d01106" stroke-width="0.6" opacity="0.35"/>
<line x1="108.0" y1="193.8" x2="229.0" y2="186.1" stroke="#ce1006" stroke-width="0.6" opacity="0.35"/>
<line x1="108.0" y1="194.8" x2="229.1" y2="186.8" stroke="#cf1006" stroke-width="0.6" opacity="0.35"/>
<line x1="108.0" y1="195.8" x2="229.2" y2="187.6" stroke="#d81807" stroke-width="0.6" opacity="0.35"/>
<line x1="108.0" y1="196.8" x2="229.4" y2="188.3" stroke="#de1e09" stroke-width="0.6" opacity="0.35"/>
<line x1="108.0" y1="197.9" x2="229.5" y2="189.0" stroke="#d71807" stroke-width="0.6" opacity="0.35"/>
<line x1="108.0" y1="198.9" x2="229.6" y2="189.7" stroke="#d51607" stroke-width="0.6" opacity="0.35"/>
<line x1="108.0" y1="199.9" x2="229.7" y2="190.4" stroke="#cc0e05" stroke-width="0.6" opacity="0.35"/>
<line x1="108.0" y1="201.0" x2="229.8" y2="191.2" stroke="#e6250a" stroke-width="0.6" opacity="0.35"/>
<line x1="108.0" y1="202.0" x2="229.9" y2="191.9" stroke="#f6330d" stroke-width="0.6" opacity="0.35"/>
<line x1="108.0" y1="203.0" x2="230.1" y2="192.6" stroke="#e9280b" stroke-width="0.6" opacity="0.35"/>
<line x1="108.0" y1="204.0" x2="230.2" y2="193.3" stroke="#e7260a" stroke-width="0.6" opacity="0.35"/>
<line x1="108.0" y1="205.1" x2="230.3" y2="194.1" stroke="#eb2a0b" stroke-width="0.6" opacity="0.35"/>
<line x1="108.0" y1="206.1" x2="230.4" y2="194.8" stroke="#d31407" stroke-width="0.6" opacity="0.35"/>
<line x1="108.0" y1="207.1" x2="230.5" y2="195.5" stroke="#ef2d0c" stroke-width="0.6" opacity="0.35"/>
<line x1="108.0" y1="208.2" x2="230.6" y2="196.2" stroke="#e12109" stroke-width="0.6" opacity="0.35"/>
<line x1="108.0" y1="209.2" x2="230.8" y2="196.9" stroke="#e6250a" stroke-width="0.6" opacity="0.35"/>
<line x1="108.0" y1="210.2" x2="230.9" y2="197.7" stroke="#e9280b" stroke-width="0.6" opacity="0.35"/>
<line x1="108.0" y1="211.2" x2="231.0" y2="198.4" stroke="#e12109" stroke-width="0.6" opacity="0.35"/>
<line x1="108.0" y1="212.3" x2="231.1" y2="199.1" stroke="#d91908" stroke-width="0.6" opacity="0.35"/>
<line x1="108.0" y1="213.3" x2="231.2" y2="199.8" stroke="#d51607" stroke-width="0.6" opacity="0.35"/>
<line x1="108.0" y1="214.3" x2="231.4" y2="200.5" stroke="#d41507" stroke-width="0.6" opacity="0.35"/>
<line x1="108.0" y1="215.4" x2="231.5" y2="201.3" stroke="#e4230a" stroke-width="0.6" opacity="0.35"/>
<line x1="108.0" y1="216.4" x2="231.6" y2="202.0" stroke="#dd1d08" stroke-width="0.6" opacity="0.35"/>
<line x1="108.0" y1="217.4" x2="231.7" y2="202.7" stroke="#e8270a" stroke-width="0.6" opacity="0.35"/>
<line x1="108.0" y1="218.5" x2="231.8" y2="203.4" stroke="#c80a05" stroke-width="0.6" opacity="0.35"/>
<line x1="108.0" y1="219.5" x2="231.9" y2="204.1" stroke="#db1b08" stroke-width="0.6" opacity="0.35"/>
<rect x="223.8" y="190.8" width="3.5" height="0.7" fill="#e8c020" opacity="0.75"/>
<rect x="208.1" y="199.9" width="4.6" height="0.7" fill="#f05a10" opacity="0.75"/>
<rect x="214.9" y="199.1" width="6.6" height="0.7" fill="#f09a1c" opacity="0.75"/>
<rect x="219.2" y="181.5" width="4.9" height="0.7" fill="#f09a1c" opacity="0.75"/>
<rect x="225.4" y="188.1" width="3.4" height="0.7" fill="#f06012" opacity="0.75"/>
<rect x="225.1" y="194.6" width="3.9" height="0.7" fill="#f06012" opacity="0.75"/>
<rect x="219.9" y="188.0" width="3.6" height="0.7" fill="#f07814" opacity="0.75"/>
<rect x="222.6" y="195.4" width="2.2" height="0.7" fill="#c8d838" opacity="0.75"/>
<rect x="227.6" y="189.9" width="4.6" height="0.7" fill="#f08018" opacity="0.75"/>
<rect x="209.2" y="188.0" width="6.6" height="0.7" fill="#f09a1c" opacity="0.75"/>
<rect x="210.9" y="183.5" width="4.2" height="0.7" fill="#f07814" opacity="0.75"/>
<rect x="226.0" y="202.9" width="2.9" height="0.7" fill="#f08018" opacity="0.75"/>
<rect x="234.4" y="189.1" width="6.1" height="0.7" fill="#50e4b0" opacity="0.75"/>
<rect x="212.6" y="200.4" width="5.2" height="0.7" fill="#f05a10" opacity="0.75"/>
<rect x="219.2" y="197.9" width="4.8" height="0.7" fill="#f09a1c" opacity="0.75"/>
<rect x="235.3" y="188.5" width="5.3" height="0.7" fill="#e8c020" opacity="0.75"/>
<rect x="237.9" y="192.8" width="2.7" height="0.7" fill="#e8c020" opacity="0.75"/>
<rect x="222.6" y="191.2" width="2.9" height="0.7" fill="#f08018" opacity="0.75"/>
<rect x="206.4" y="197.5" width="3.2" height="0.7" fill="#f09a1c" opacity="0.75"/>
<rect x="233.5" y="201.7" width="4.2" height="0.7" fill="#90e080" opacity="0.75"/>
<rect x="224.6" y="202.0" width="3.2" height="0.7" fill="#e8c020" opacity="0.75"/>
<rect x="221.9" y="201.8" width="5.4" height="0.7" fill="#f06012" opacity="0.75"/>
<rect x="224.7" y="188.9" width="2.1" height="0.7" fill="#f06012" opacity="0.75"/>
<rect x="211.4" y="188.1" width="4.0" height="0.7" fill="#f07814" opacity="0.75"/>
<rect x="218.4" y="190.2" width="2.2" height="0.7" fill="#f07814" opacity="0.75"/>
<rect x="227.3" y="187.2" width="2.5" height="0.7" fill="#e8c020" opacity="0.75"/>
<rect x="214.6" y="199.0" width="4.3" height="0.7" fill="#f07814" opacity="0.75"/>
<rect x="217.8" y="184.2" width="6.8" height="0.7" fill="#f09a1c" opacity="0.75"/>
<rect x="213.3" y="189.9" width="7.0" height="0.7" fill="#f09a1c" opacity="0.75"/>
<rect x="212.0" y="200.4" width="6.0" height="0.7" fill="#f07814" opacity="0.75"/>
<rect x="215.2" y="198.6" width="4.0" height="0.7" fill="#f07814" opacity="0.75"/>
<rect x="227.2" y="187.4" width="3.2" height="0.7" fill="#f06012" opacity="0.75"/>
<rect x="229.5" y="196.1" width="5.0" height="0.7" fill="#e8c020" opacity="0.75"/>
<rect x="219.8" y="197.2" width="2.2" height="0.7" fill="#f09a1c" opacity="0.75"/>
<rect x="215.9" y="194.3" width="4.9" height="0.7" fill="#f05a10" opacity="0.75"/>
<rect x="228.9" y="185.1" width="6.7" height="0.7" fill="#50e4b0" opacity="0.75"/>
<rect x="217.1" y="200.9" width="4.0" height="0.7" fill="#f09a1c" opacity="0.75"/>
<rect x="229.9" y="198.9" width="3.7" height="0.7" fill="#e8c020" opacity="0.75"/>
<rect x="236.4" y="189.6" width="4.5" height="0.7" fill="#2ae4d2" opacity="0.75"/>
<rect x="233.1" y="197.7" width="2.2" height="0.7" fill="#90e080" opacity="0.75"/>
<rect x="228.5" y="198.3" width="6.8" height="0.7" fill="#90e080" opacity="0.75"/>
<rect x="226.4" y="192.1" width="2.8" height="0.7" fill="#f08018" opacity="0.75"/>
<rect x="210.4" y="195.5" width="3.2" height="0.7" fill="#f07814" opacity="0.75"/>
<rect x="213.7" y="191.4" width="3.8" height="0.7" fill="#f09a1c" opacity="0.75"/>
<rect x="215.6" y="200.2" width="3.2" height="0.7" fill="#f09a1c" opacity="0.75"/>
<rect x="226.1" y="181.8" width="5.4" height="0.7" fill="#e8c020" opacity="0.75"/>
<rect x="206.4" y="190.7" width="3.5" height="0.7" fill="#f07814" opacity="0.75"/>
<rect x="215.3" y="192.4" width="7.0" height="0.7" fill="#f07814" opacity="0.75"/>
<rect x="209.5" y="190.7" width="5.9" height="0.7" fill="#f05a10" opacity="0.75"/>
<rect x="216.3" y="187.6" width="5.1" height="0.7" fill="#f07814" opacity="0.75"/>
<rect x="235.9" y="194.7" width="2.4" height="0.7" fill="#90e080" opacity="0.75"/>
<rect x="218.6" y="182.5" width="4.6" height="0.7" fill="#f09a1c" opacity="0.75"/>
<rect x="234.7" y="195.4" width="5.7" height="0.7" fill="#50e4b0" opacity="0.75"/>
<rect x="217.8" y="199.0" width="2.5" height="0.7" fill="#f05a10" opacity="0.75"/>
<rect x="218.9" y="180.2" width="4.5" height="0.7" fill="#f07814" opacity="0.75"/>
<rect x="208.6" y="195.5" width="5.2" height="0.7" fill="#f07814" opacity="0.75"/>
<rect x="221.3" y="184.2" width="6.2" height="0.7" fill="#f08018" opacity="0.75"/>
<rect x="233.4" y="197.9" width="2.4" height="0.7" fill="#50e4b0" opacity="0.75"/>
<rect x="211.6" y="196.4" width="4.2" height="0.7" fill="#f05a10" opacity="0.75"/>
<rect x="224.0" y="187.4" width="4.7" height="0.7" fill="#f08018" opacity="0.75"/>
<rect x="226.0" y="182.7" width="6.1" height="0.7" fill="#f08018" opacity="0.75"/>
<rect x="221.4" y="194.5" width="4.7" height="0.7" fill="#c8d838" opacity="0.75"/>
<rect x="226.3" y="199.4" width="5.5" height="0.7" fill="#f06012" opacity="0.75"/>
<rect x="213.7" y="189.6" width="2.9" height="0.7" fill="#f05a10" opacity="0.75"/>
<rect x="234.5" y="192.2" width="5.2" height="0.7" fill="#50e4b0" opacity="0.75"/>
<ellipse cx="98.8" cy="203" rx="16" ry="18" fill="#9c0a0a"/>
<circle cx="83.9" cy="198.2" r="1.8" fill="#900808"/>
<circle cx="99.7" cy="196.5" r="1.4" fill="#9c0a0a"/>
<circle cx="99.6" cy="213.8" r="1.9" fill="#aa0e0e"/>
<circle cx="109.1" cy="199.7" r="1.9" fill="#aa0e0e"/>
<circle cx="85.5" cy="210.5" r="2.2" fill="#9c0a0a"/>
<circle cx="100.4" cy="208.7" r="2.1" fill="#780404"/>
<circle cx="105.5" cy="216.3" r="2.0" fill="#b41212"/>
<circle cx="98.7" cy="201.1" r="1.4" fill="#b41212"/>
<circle cx="89.3" cy="213.9" r="1.9" fill="#b41212"/>
<circle cx="110.6" cy="206.7" r="1.6" fill="#aa0e0e"/>
<circle cx="93.1" cy="215.2" r="2.1" fill="#aa0e0e"/>
<circle cx="95.2" cy="195.0" r="1.9" fill="#900808"/>
<circle cx="114.4" cy="205.3" r="1.4" fill="#820606"/>
<circle cx="104.0" cy="203.8" r="1.5" fill="#b41212"/>
<circle cx="90.8" cy="199.8" r="1.9" fill="#780404"/>
<circle cx="105.0" cy="191.4" r="1.8" fill="#b41212"/>
<circle cx="93.5" cy="188.2" r="1.3" fill="#820606"/>
<circle cx="95.4" cy="208.7" r="1.7" fill="#9c0a0a"/>
<circle cx="113.0" cy="206.2" r="1.5" fill="#aa0e0e"/>
<circle cx="104.2" cy="189.7" r="2.1" fill="#820606"/>
<circle cx="111.7" cy="200.0" r="1.7" fill="#820606"/>
<circle cx="107.4" cy="193.1" r="1.6" fill="#aa0e0e"/>
<circle cx="90.1" cy="201.3" r="1.8" fill="#900808"/>
<circle cx="105.1" cy="205.0" r="2.0" fill="#b41212"/>
<circle cx="93.5" cy="213.6" r="1.6" fill="#b41212"/>
<circle cx="93.2" cy="213.6" r="1.3" fill="#900808"/>
<circle cx="83.6" cy="207.4" r="1.9" fill="#aa0e0e"/>
<circle cx="97.9" cy="196.4" r="1.5" fill="#820606"/>
<circle cx="90.7" cy="203.0" r="1.8" fill="#9c0a0a"/>
<circle cx="93.7" cy="199.7" r="1.3" fill="#780404"/>
<circle cx="85.9" cy="197.2" r="2.0" fill="#900808"/>
<circle cx="90.4" cy="192.5" r="2.0" fill="#b41212"/>
<circle cx="100.9" cy="194.7" r="1.9" fill="#900808"/>
<circle cx="94.2" cy="217.6" r="1.6" fill="#780404"/>
<circle cx="103.5" cy="196.0" r="1.9" fill="#9c0a0a"/>
<circle cx="92.1" cy="215.8" r="1.6" fill="#780404"/>
<circle cx="109.7" cy="202.1" r="2.1" fill="#b41212"/>
<circle cx="104.5" cy="186.5" r="1.4" fill="#900808"/>
<circle cx="113.5" cy="203.8" r="1.7" fill="#820606"/>
<circle cx="87.8" cy="212.4" r="1.8" fill="#900808"/>
<circle cx="107.1" cy="214.8" r="2.0" fill="#b41212"/>
<circle cx="84.3" cy="197.6" r="1.4" fill="#b41212"/>
<circle cx="104.4" cy="218.8" r="1.5" fill="#9c0a0a"/>
<circle cx="85.1" cy="194.5" r="2.2" fill="#b41212"/>
<circle cx="93.9" cy="189.0" r="2.1" fill="#aa0e0e"/>
<circle cx="96.0" cy="209.7" r="1.8" fill="#b41212"/>
<circle cx="99.5" cy="189.0" r="1.9" fill="#900808"/>
<circle cx="100.8" cy="214.0" r="2.1" fill="#900808"/>
<circle cx="96.5" cy="215.3" r="1.5" fill="#aa0e0e"/>
<circle cx="97.2" cy="185.7" r="1.3" fill="#9c0a0a"/>
<circle cx="111.6" cy="210.1" r="1.6" fill="#9c0a0a"/>
<circle cx="103.3" cy="208.8" r="1.9" fill="#9c0a0a"/>
<circle cx="107.7" cy="203.9" r="1.5" fill="#aa0e0e"/>
<circle cx="92.5" cy="216.6" r="1.7" fill="#780404"/>
<circle cx="87.9" cy="192.9" r="1.4" fill="#900808"/>
<circle cx="95.9" cy="204.9" r="1.9" fill="#780404"/>
<circle cx="101.4" cy="185.6" r="1.5" fill="#820606"/>
<circle cx="97.0" cy="203.5" r="1.8" fill="#b41212"/>
<circle cx="102.5" cy="202.7" r="1.9" fill="#9c0a0a"/>
<circle cx="102.0" cy="197.0" r="1.4" fill="#aa0e0e"/>
<circle cx="107.4" cy="215.1" r="1.6" fill="#aa0e0e"/>
<circle cx="92.8" cy="210.9" r="1.8" fill="#780404"/>
<circle cx="86.7" cy="198.1" r="1.8" fill="#9c0a0a"/>
<circle cx="100.4" cy="216.8" r="1.7" fill="#780404"/>
<circle cx="111.3" cy="205.8" r="2.0" fill="#780404"/>
<circle cx="109.3" cy="201.3" r="1.6" fill="#b41212"/>
<circle cx="90.7" cy="201.3" r="1.3" fill="#b41212"/>
<circle cx="86.2" cy="205.2" r="1.4" fill="#b41212"/>
<circle cx="91.9" cy="194.9" r="2.1" fill="#aa0e0e"/>
<circle cx="94.9" cy="198.6" r="1.8" fill="#9c0a0a"/>
<circle cx="92.5" cy="200.4" r="1.6" fill="#9c0a0a"/>
<circle cx="102.7" cy="209.0" r="2.1" fill="#780404"/>
<circle cx="100.9" cy="190.3" r="2.0" fill="#b41212"/>
<circle cx="99.5" cy="220.5" r="1.5" fill="#820606"/>
<circle cx="111.6" cy="194.2" r="1.7" fill="#820606"/>
<circle cx="92.1" cy="218.0" r="1.9" fill="#aa0e0e"/>
<circle cx="112.9" cy="204.5" r="1.9" fill="#820606"/>
<circle cx="94.3" cy="209.8" r="1.7" fill="#820606"/>
<circle cx="112.2" cy="194.6" r="2.1" fill="#780404"/>
<circle cx="101.0" cy="203.5" r="1.7" fill="#780404"/>
<circle cx="99.6" cy="210.9" r="1.9" fill="#820606"/>
<circle cx="94.1" cy="219.8" r="2.2" fill="#900808"/>
<circle cx="101.6" cy="191.2" r="2.2" fill="#b41212"/>
<circle cx="104.5" cy="210.3" r="1.6" fill="#aa0e0e"/>
<circle cx="83.9" cy="204.5" r="1.6" fill="#900808"/>
<circle cx="86.9" cy="191.9" r="1.8" fill="#900808"/>
<circle cx="104.2" cy="197.6" r="1.6" fill="#780404"/>
<circle cx="101.5" cy="186.8" r="1.7" fill="#900808"/>
<circle cx="108.6" cy="216.2" r="1.3" fill="#780404"/>
<circle cx="110.7" cy="214.3" r="1.4" fill="#aa0e0e"/>
<circle cx="95.2" cy="214.9" r="1.4" fill="#b41212"/>
<circle cx="105.2" cy="215.8" r="1.7" fill="#aa0e0e"/>
<circle cx="90.7" cy="191.8" r="2.1" fill="#820606"/>
<circle cx="101.6" cy="202.6" r="1.5" fill="#900808"/>
<circle cx="97.4" cy="201.4" r="1.8" fill="#900808"/>
<circle cx="100.0" cy="214.5" r="2.0" fill="#aa0e0e"/>
<circle cx="113.1" cy="208.0" r="2.1" fill="#aa0e0e"/>
<circle cx="106.8" cy="211.5" r="1.8" fill="#900808"/>
<circle cx="106.3" cy="203.1" r="1.4" fill="#9c0a0a"/>
<circle cx="98.0" cy="190.5" r="1.8" fill="#aa0e0e"/>
<circle cx="107.0" cy="188.4" r="1.6" fill="#aa0e0e"/>
<circle cx="102.2" cy="220.0" r="2.0" fill="#900808"/>
<circle cx="97.8" cy="210.4" r="1.5" fill="#b41212"/>
<circle cx="105.6" cy="201.4" r="1.7" fill="#aa0e0e"/>
<circle cx="89.9" cy="199.3" r="1.6" fill="#aa0e0e"/>
<circle cx="109.1" cy="206.1" r="1.8" fill="#b41212"/>
<circle cx="93.1" cy="186.7" r="1.9" fill="#780404"/>
<circle cx="91.6" cy="208.9" r="1.6" fill="#820606"/>
<circle cx="106.8" cy="215.6" r="2.0" fill="#820606"/>
<circle cx="108.9" cy="194.6" r="1.8" fill="#900808"/>
<circle cx="105.9" cy="199.0" r="2.0" fill="#9c0a0a"/>
<circle cx="113.1" cy="202.1" r="1.4" fill="#780404"/>
<circle cx="106.5" cy="189.9" r="1.3" fill="#780404"/>
<circle cx="95.7" cy="193.5" r="1.7" fill="#780404"/>
<circle cx="93.5" cy="192.6" r="1.3" fill="#9c0a0a"/>
<circle cx="98.5" cy="186.7" r="1.6" fill="#9c0a0a"/>
<circle cx="89.5" cy="199.9" r="2.0" fill="#780404"/>
<circle cx="105.2" cy="195.3" r="1.7" fill="#aa0e0e"/>
<circle cx="86.6" cy="200.7" r="2.0" fill="#780404"/>
<circle cx="111.5" cy="209.9" r="1.5" fill="#780404"/>
<circle cx="92.6" cy="197.1" r="2.1" fill="#820606"/>
<circle cx="91.8" cy="214.1" r="1.5" fill="#9c0a0a"/>
<circle cx="108.3" cy="216.3" r="1.6" fill="#9c0a0a"/>
<circle cx="100.6" cy="210.0" r="1.5" fill="#b41212"/>
<circle cx="105.5" cy="217.2" r="1.5" fill="#820606"/>
<circle cx="112.6" cy="197.7" r="2.1" fill="#780404"/>
<circle cx="108.2" cy="205.9" r="1.4" fill="#820606"/>
<circle cx="103.3" cy="210.3" r="1.6" fill="#aa0e0e"/>
<circle cx="92.9" cy="192.1" r="1.7" fill="#b41212"/>
<circle cx="107.3" cy="208.8" r="1.9" fill="#820606"/>
<circle cx="88.4" cy="206.8" r="2.0" fill="#900808"/>
<circle cx="106.5" cy="214.8" r="1.7" fill="#b41212"/>
<circle cx="92.1" cy="191.2" r="1.6" fill="#9c0a0a"/>
<circle cx="97.3" cy="204.6" r="1.3" fill="#900808"/>
<circle cx="98.1" cy="216.6" r="1.9" fill="#b41212"/>
<circle cx="97.4" cy="213.0" r="1.5" fill="#900808"/>
<circle cx="88.2" cy="207.9" r="2.1" fill="#820606"/>
<circle cx="101.9" cy="214.0" r="1.9" fill="#b41212"/>
<circle cx="96.5" cy="205.7" r="1.6" fill="#820606"/>
<circle cx="112.0" cy="207.0" r="1.7" fill="#820606"/>
<circle cx="92.5" cy="197.4" r="1.6" fill="#900808"/>
<circle cx="85.4" cy="194.9" r="2.2" fill="#900808"/>
<circle cx="106.0" cy="192.2" r="1.9" fill="#aa0e0e"/>
<circle cx="96.8" cy="207.1" r="1.6" fill="#820606"/>
<circle cx="87.8" cy="201.0" r="2.0" fill="#780404"/>
<circle cx="110.8" cy="205.2" r="2.1" fill="#820606"/>
<circle cx="95.6" cy="191.9" r="1.5" fill="#820606"/>
<circle cx="107.9" cy="207.4" r="1.8" fill="#900808"/>
<circle cx="104.6" cy="190.1" r="1.5" fill="#780404"/>
<circle cx="84.1" cy="198.6" r="1.8" fill="#b41212"/>
<circle cx="100.5" cy="187.6" r="1.4" fill="#aa0e0e"/>
<circle cx="105.7" cy="192.1" r="1.4" fill="#aa0e0e"/>
<circle cx="110.5" cy="211.1" r="1.7" fill="#9c0a0a"/>
<circle cx="102.0" cy="195.9" r="1.7" fill="#b41212"/>
<circle cx="111.2" cy="208.0" r="2.1" fill="#820606"/>
<circle cx="105.2" cy="211.7" r="2.1" fill="#aa0e0e"/>
<circle cx="104.4" cy="211.1" r="2.2" fill="#9c0a0a"/>
<circle cx="103.3" cy="215.0" r="1.5" fill="#9c0a0a"/>
<circle cx="95.7" cy="211.2" r="1.8" fill="#b41212"/>
<circle cx="88.6" cy="202.2" r="1.6" fill="#aa0e0e"/>
<rect x="100.50" y="197.40" width="3.2" height="3.2" fill="#fff" stroke="#777" stroke-width="0.8"/>
<rect x="100.50" y="74.40" width="3.2" height="3.2" fill="#fff" stroke="#777" stroke-width="0.8"/>
<rect x="224.00" y="74.40" width="3.2" height="3.2" fill="#fff" stroke="#777" stroke-width="0.8"/>
<rect x="224.00" y="197.40" width="3.2" height="3.2" fill="#fff" stroke="#777" stroke-width="0.8"/>
<text x="63.50" y="192.00" font-size="14.5" text-anchor="start" fill="#141414">a<tspan font-size="9.86" dy="3.62">1</tspan></text>
<text x="96.50" y="63.00" font-size="14.5" text-anchor="start" fill="#141414">a<tspan font-size="9.86" dy="3.62">2</tspan></text>
<text x="236.00" y="84.50" font-size="14.5" text-anchor="start" fill="#141414">a<tspan font-size="9.86" dy="3.62">3</tspan></text>
<text x="228.50" y="217.50" font-size="14.5" text-anchor="start" fill="#141414">a<tspan font-size="9.86" dy="3.62">4</tspan></text>
<rect x="282.7" y="165.2" width="14.8" height="78.4" fill="url(#g7)" stroke="#3a3a3a" stroke-width="0.9"/>
<line x1="282.70" y1="182.60" x2="285.20" y2="182.60" stroke="#333" stroke-width="0.7" />
<line x1="295.00" y1="182.60" x2="297.50" y2="182.60" stroke="#333" stroke-width="0.7" />
<line x1="282.70" y1="202.40" x2="285.20" y2="202.40" stroke="#333" stroke-width="0.7" />
<line x1="295.00" y1="202.40" x2="297.50" y2="202.40" stroke="#333" stroke-width="0.7" />
<line x1="282.70" y1="223.70" x2="285.20" y2="223.70" stroke="#333" stroke-width="0.7" />
<line x1="295.00" y1="223.70" x2="297.50" y2="223.70" stroke="#333" stroke-width="0.7" />
<text x="305.80" y="170.49" font-size="14.5" text-anchor="start" fill="#141414" >9</text>
<text x="305.80" y="213.89" font-size="14.5" text-anchor="start" fill="#141414" >4</text>
<text x="305.80" y="246.39" font-size="14.5" text-anchor="start" fill="#141414" >0</text>
<text x="305.00" y="142.64" font-size="15.2" text-anchor="middle" fill="#141414" >(mm/s)</text>
<line x1="4.60" y1="292.00" x2="4.60" y2="260.00" stroke="#5ab552" stroke-width="1.5" />
<polygon points="4.6,255.0 1.6,261.0 7.7,261.0" fill="#5ab552" />
<line x1="3.90" y1="291.60" x2="35.00" y2="291.60" stroke="#d81b60" stroke-width="1.8" />
<polygon points="40.3,291.6 34.2,288.7 34.2,294.7" fill="#d81b60" />
<text x="5.7" y="247.2" font-size="14.5" text-anchor="middle" fill="#1a1a1a">y</text>
<text x="45.8" y="293" font-size="14.5" text-anchor="middle" fill="#1a1a1a">x</text>
</g>
<g id="panelB">
<line x1="446.50" y1="31.50" x2="446.50" y2="254.90" stroke="#aaaaaa" stroke-width="1.1" stroke-dasharray="2.5 1.9"/>
<line x1="503.20" y1="31.50" x2="503.20" y2="254.90" stroke="#aaaaaa" stroke-width="1.1" stroke-dasharray="2.5 1.9"/>
<line x1="559.90" y1="31.50" x2="559.90" y2="254.90" stroke="#aaaaaa" stroke-width="1.1" stroke-dasharray="2.5 1.9"/>
<line x1="616.60" y1="31.50" x2="616.60" y2="254.90" stroke="#aaaaaa" stroke-width="1.1" stroke-dasharray="2.5 1.9"/>
<line x1="673.30" y1="31.50" x2="673.30" y2="254.90" stroke="#aaaaaa" stroke-width="1.1" stroke-dasharray="2.5 1.9"/>
<line x1="418.70" y1="25.50" x2="418.70" y2="255.50" stroke="#222" stroke-width="1.2" />
<line x1="418.10" y1="254.90" x2="702.00" y2="254.90" stroke="#222" stroke-width="1.2" />
<line x1="413.70" y1="254.90" x2="418.70" y2="254.90" stroke="#222" stroke-width="1.1" />
<line x1="415.90" y1="226.30" x2="418.70" y2="226.30" stroke="#222" stroke-width="1.1" />
<line x1="413.70" y1="197.70" x2="418.70" y2="197.70" stroke="#222" stroke-width="1.1" />
<line x1="415.90" y1="169.10" x2="418.70" y2="169.10" stroke="#222" stroke-width="1.1" />
<line x1="413.70" y1="140.50" x2="418.70" y2="140.50" stroke="#222" stroke-width="1.1" />
<line x1="415.90" y1="111.90" x2="418.70" y2="111.90" stroke="#222" stroke-width="1.1" />
<line x1="413.70" y1="83.30" x2="418.70" y2="83.30" stroke="#222" stroke-width="1.1" />
<line x1="415.90" y1="54.70" x2="418.70" y2="54.70" stroke="#222" stroke-width="1.1" />
<line x1="413.70" y1="26.10" x2="418.70" y2="26.10" stroke="#222" stroke-width="1.1" />
<line x1="446.50" y1="254.90" x2="446.50" y2="259.40" stroke="#222" stroke-width="1.1" />
<line x1="503.20" y1="254.90" x2="503.20" y2="259.40" stroke="#222" stroke-width="1.1" />
<line x1="559.90" y1="254.90" x2="559.90" y2="259.40" stroke="#222" stroke-width="1.1" />
<line x1="616.60" y1="254.90" x2="616.60" y2="259.40" stroke="#222" stroke-width="1.1" />
<line x1="673.30" y1="254.90" x2="673.30" y2="259.40" stroke="#222" stroke-width="1.1" />
<text x="405.00" y="260.28" font-size="14.2" text-anchor="end" fill="#141414" >2</text>
<text x="405.00" y="203.08" font-size="14.2" text-anchor="end" fill="#141414" >4</text>
<text x="405.00" y="145.88" font-size="14.2" text-anchor="end" fill="#141414" >6</text>
<text x="405.00" y="88.68" font-size="14.2" text-anchor="end" fill="#141414" >8</text>
<text x="405.00" y="31.48" font-size="14.2" text-anchor="end" fill="#141414" >10</text>
<text x="445.30" y="278.60" font-size="13.9" text-anchor="middle" fill="#141414">a<tspan font-size="9.45" dy="3.48">1</tspan></text>
<text x="502.00" y="278.60" font-size="13.9" text-anchor="middle" fill="#141414">a<tspan font-size="9.45" dy="3.48">2</tspan></text>
<text x="558.70" y="278.60" font-size="13.9" text-anchor="middle" fill="#141414">a<tspan font-size="9.45" dy="3.48">3</tspan></text>
<text x="615.40" y="278.60" font-size="13.9" text-anchor="middle" fill="#141414">a<tspan font-size="9.45" dy="3.48">4</tspan></text>
<text x="672.10" y="278.60" font-size="13.9" text-anchor="middle" fill="#141414">a<tspan font-size="9.45" dy="3.48">1</tspan></text>
<text x="552.30" y="302.20" font-size="14.8" text-anchor="middle" fill="#141414" >Point</text>
<text transform="translate(373.2,140.5) rotate(-90)" font-size="14.9" text-anchor="middle" fill="#1a1a1a">Average velocity (mm/s)</text>
<text x="369.10" y="11.78" font-size="14.2" text-anchor="middle" font-weight="bold" fill="#141414" >b</text>
<line x1="450.40" y1="225.44" x2="499.80" y2="225.44" stroke="#1a1a1a" stroke-width="1.1" />
<rect x="443.90" y="222.84" width="5.2" height="5.2" fill="#111"/>
<rect x="500.60" y="222.84" width="5.2" height="5.2" fill="#111"/>
<line x1="507.10" y1="109.90" x2="556.50" y2="109.90" stroke="#1a1a1a" stroke-width="1.1" />
<rect x="500.60" y="107.30" width="5.2" height="5.2" fill="#111"/>
<rect x="557.30" y="107.30" width="5.2" height="5.2" fill="#111"/>
<line x1="563.80" y1="220.29" x2="613.20" y2="220.29" stroke="#1a1a1a" stroke-width="1.1" />
<rect x="557.30" y="217.69" width="5.2" height="5.2" fill="#111"/>
<rect x="614.00" y="217.69" width="5.2" height="5.2" fill="#111"/>
<line x1="620.50" y1="97.03" x2="669.90" y2="97.03" stroke="#1a1a1a" stroke-width="1.1" />
<rect x="614.00" y="94.43" width="5.2" height="5.2" fill="#111"/>
<rect x="670.70" y="94.43" width="5.2" height="5.2" fill="#111"/>
<text x="474.45" y="170.96" font-size="14.4" text-anchor="middle" fill="#141414" >10 mT</text>
<text x="453.85" y="188.76" font-size="17.6" font-family="Liberation Serif, serif" fill="#1a1a1a" style="font-family:'Liberation Serif',serif">α</text>
<text x="494.75" y="188.76" font-size="14.4" text-anchor="end" fill="#1a1a1a">=1.0</text>
<text x="531.15" y="170.96" font-size="14.4" text-anchor="middle" fill="#141414" >15 mT</text>
<text x="510.55" y="188.76" font-size="17.6" font-family="Liberation Serif, serif" fill="#1a1a1a" style="font-family:'Liberation Serif',serif">α</text>
<text x="551.45" y="188.76" font-size="14.4" text-anchor="end" fill="#1a1a1a">=1.0</text>
<text x="587.85" y="170.96" font-size="14.4" text-anchor="middle" fill="#141414" >10 mT</text>
<text x="567.25" y="188.76" font-size="17.6" font-family="Liberation Serif, serif" fill="#1a1a1a" style="font-family:'Liberation Serif',serif">α</text>
<text x="608.15" y="188.76" font-size="14.4" text-anchor="end" fill="#1a1a1a">=1.0</text>
<text x="644.55" y="170.96" font-size="14.4" text-anchor="middle" fill="#141414" >15 mT</text>
<text x="623.95" y="188.76" font-size="17.6" font-family="Liberation Serif, serif" fill="#1a1a1a" style="font-family:'Liberation Serif',serif">α</text>
<text x="664.85" y="188.76" font-size="14.4" text-anchor="end" fill="#1a1a1a">=1.0</text>
<rect x="455.00" y="39.60" width="40.80" height="40.20" fill="url(#g8)"/>
<line x1="450.70" y1="83.70" x2="450.70" y2="76.90" stroke="#4a90d9" stroke-width="1.0" />
<line x1="452.20" y1="84.50" x2="457.20" y2="84.50" stroke="#5ab552" stroke-width="1.0" />
<polygon points="459.0,84.5 456.3,83.1 456.3,85.9" fill="#5ab552"/>
<text transform="translate(452.4,74.0) rotate(-90)" font-size="6.8" text-anchor="middle" font-weight="bold" fill="#333">z</text>
<text x="450.5" y="86.4" font-size="6.8" text-anchor="middle" font-weight="bold" fill="#333">x</text>
<text x="462.5" y="86.2" font-size="6.8" text-anchor="middle" fill="#333">y</text>
<rect x="511.40" y="39.60" width="40.80" height="40.20" fill="url(#g9)"/>
<line x1="507.10" y1="83.70" x2="507.10" y2="76.90" stroke="#4a90d9" stroke-width="1.0" />
<line x1="508.60" y1="84.50" x2="513.60" y2="84.50" stroke="#e0245e" stroke-width="1.0" />
<polygon points="515.4,84.5 512.7,83.1 512.7,85.9" fill="#e0245e"/>
<text transform="translate(508.8,74.0) rotate(-90)" font-size="6.8" text-anchor="middle" font-weight="bold" fill="#333">z</text>
<text x="506.9" y="86.4" font-size="6.8" text-anchor="middle" font-weight="bold" fill="#333">y</text>
<text x="518.9" y="86.2" font-size="6.8" text-anchor="middle" fill="#333">x</text>
<rect x="568.70" y="39.60" width="40.80" height="40.20" fill="url(#g10)"/>
<line x1="564.40" y1="83.70" x2="564.40" y2="76.90" stroke="#4a90d9" stroke-width="1.0" />
<line x1="565.90" y1="84.50" x2="570.90" y2="84.50" stroke="#5ab552" stroke-width="1.0" />
<polygon points="572.7,84.5 570.0,83.1 570.0,85.9" fill="#5ab552"/>
<text transform="translate(566.1,74.0) rotate(-90)" font-size="6.8" text-anchor="middle" font-weight="bold" fill="#333">z</text>
<text x="564.2" y="86.4" font-size="6.8" text-anchor="middle" font-weight="bold" fill="#333">x</text>
<text x="576.2" y="86.2" font-size="6.8" text-anchor="middle" fill="#333">y</text>
<rect x="625.10" y="39.60" width="40.80" height="40.20" fill="url(#g11)"/>
<line x1="620.80" y1="83.70" x2="620.80" y2="76.90" stroke="#4a90d9" stroke-width="1.0" />
<line x1="622.30" y1="84.50" x2="627.30" y2="84.50" stroke="#e0245e" stroke-width="1.0" />
<polygon points="629.1,84.5 626.4,83.1 626.4,85.9" fill="#e0245e"/>
<text transform="translate(622.5,74.0) rotate(-90)" font-size="6.8" text-anchor="middle" font-weight="bold" fill="#333">z</text>
<text x="620.6" y="86.4" font-size="6.8" text-anchor="middle" font-weight="bold" fill="#333">y</text>
<text x="632.6" y="86.2" font-size="6.8" text-anchor="middle" fill="#333">x</text>
<circle cx="521.4" cy="60" r="1.8" fill="none" stroke="#666" stroke-width="0.5" opacity="0.3"/>
<line x1="518.80" y1="60.00" x2="524.00" y2="60.00" stroke="#666" stroke-width="0.4" opacity="0.3"/>
<line x1="521.40" y1="57.40" x2="521.40" y2="62.60" stroke="#666" stroke-width="0.4" opacity="0.3"/>
<circle cx="635.3" cy="59.7" r="1.8" fill="none" stroke="#666" stroke-width="0.5" opacity="0.3"/>
<line x1="632.70" y1="59.70" x2="637.90" y2="59.70" stroke="#666" stroke-width="0.4" opacity="0.3"/>
<line x1="635.30" y1="57.10" x2="635.30" y2="62.30" stroke="#666" stroke-width="0.4" opacity="0.3"/>
<rect x="678.6" y="49.7" width="4.5" height="26.4" fill="url(#g12)"/>
<text x="687.20" y="57.10" font-size="14.8" text-anchor="start" fill="#141414" >21</text>
<text x="687.20" y="69.60" font-size="14.8" text-anchor="start" fill="#141414" >14</text>
<text x="687.20" y="82.20" font-size="14.8" text-anchor="start" fill="#141414" >7</text>
<text x="690.50" y="41.37" font-size="15" text-anchor="middle" fill="#141414" >(mT)</text>
</g>
<g id="panelC">
<line x1="47.45" y1="517.00" x2="197.40" y2="496.20" stroke="#606060" stroke-width="0.75" />
<line x1="197.40" y1="336.20" x2="197.40" y2="496.20" stroke="#606060" stroke-width="0.75" />
<line x1="197.40" y1="496.20" x2="270.45" y2="537.80" stroke="#606060" stroke-width="0.75" />
<line x1="47.45" y1="357.00" x2="197.40" y2="336.20" stroke="#606060" stroke-width="0.75" />
<line x1="47.45" y1="357.00" x2="47.45" y2="517.00" stroke="#606060" stroke-width="0.75" />
<line x1="47.45" y1="517.00" x2="119.50" y2="557.80" stroke="#606060" stroke-width="0.75" />
<line x1="197.40" y1="336.20" x2="270.45" y2="377.40" stroke="#606060" stroke-width="0.75" />
<path d="M176.8,463.6 Q182,462.4 187,466 Q204,482 226,490.5 L221,508 Q204,503 193,495.5 Q180,486 172.5,477.5 Q169,469 176.8,463.6 Z" fill="url(#g13)" />
<path d="M177.8,463.9 L181.0,466.2 L184.1,468.5 L187.4,470.7 L190.7,472.9 L194.0,475.0 L197.3,477.1 L200.8,479.1 L204.2,481.1 L207.7,483.1 L211.2,484.9 L214.8,486.8 L218.5,488.5 L222.1,490.3 L225.9,491.9" fill="none" stroke="#1386ec" stroke-width="0.6" opacity="0.3"/>
<path d="M177.4,464.6 L180.5,467.0 L183.7,469.3 L186.9,471.5 L190.2,473.7 L193.5,475.8 L196.8,477.9 L200.2,479.9 L203.7,481.9 L207.2,483.9 L210.8,485.7 L214.4,487.6 L218.1,489.4 L221.8,491.1 L225.6,492.8" fill="none" stroke="#168cef" stroke-width="0.6" opacity="0.3"/>
<path d="M177.0,465.4 L180.1,467.7 L183.2,470.0 L186.4,472.3 L189.7,474.4 L193.0,476.6 L196.3,478.7 L199.8,480.7 L203.2,482.7 L206.8,484.7 L210.4,486.6 L214.0,488.4 L217.7,490.2 L221.5,492.0 L225.3,493.7" fill="none" stroke="#178ef0" stroke-width="0.6" opacity="0.3"/>
<path d="M176.6,466.1 L179.7,468.5 L182.8,470.8 L185.9,473.0 L189.2,475.2 L192.5,477.4 L195.8,479.5 L199.2,481.5 L202.7,483.5 L206.3,485.5 L209.9,487.4 L213.6,489.2 L217.3,491.0 L221.2,492.8 L225.0,494.5" fill="none" stroke="#1992f2" stroke-width="0.6" opacity="0.3"/>
<path d="M176.2,466.9 L179.2,469.2 L182.3,471.5 L185.5,473.8 L188.7,476.0 L192.0,478.1 L195.3,480.3 L198.8,482.3 L202.2,484.3 L205.8,486.3 L209.5,488.2 L213.2,490.1 L217.0,491.9 L220.8,493.7 L224.8,495.4" fill="none" stroke="#1589ee" stroke-width="0.6" opacity="0.3"/>
<path d="M175.9,467.6 L178.8,470.0 L181.9,472.3 L185.0,474.5 L188.2,476.8 L191.5,478.9 L194.8,481.0 L198.2,483.1 L201.8,485.1 L205.4,487.1 L209.0,489.0 L212.8,490.9 L216.6,492.7 L220.5,494.5 L224.5,496.2" fill="none" stroke="#1182ea" stroke-width="0.6" opacity="0.3"/>
<path d="M175.5,468.4 L178.4,470.7 L181.4,473.0 L184.5,475.3 L187.7,477.5 L191.0,479.7 L194.3,481.8 L197.8,483.9 L201.3,485.9 L204.9,487.9 L208.6,489.8 L212.4,491.7 L216.2,493.6 L220.2,495.4 L224.2,497.1" fill="none" stroke="#1385ec" stroke-width="0.6" opacity="0.3"/>
<path d="M175.1,469.1 L178.0,471.5 L181.0,473.8 L184.0,476.1 L187.2,478.3 L190.5,480.5 L193.8,482.6 L197.2,484.7 L200.8,486.7 L204.4,488.7 L208.1,490.7 L211.9,492.6 L215.8,494.4 L219.8,496.2 L223.9,498.0" fill="none" stroke="#1c97f5" stroke-width="0.6" opacity="0.3"/>
<path d="M174.7,469.9 L177.5,472.2 L180.5,474.6 L183.6,476.8 L186.7,479.1 L190.0,481.3 L193.3,483.4 L196.8,485.5 L200.3,487.5 L203.9,489.5 L207.7,491.5 L211.5,493.4 L215.5,495.2 L219.5,497.1 L223.6,498.8" fill="none" stroke="#21a2fa" stroke-width="0.6" opacity="0.3"/>
<path d="M174.3,470.6 L177.1,473.0 L180.0,475.3 L183.1,477.6 L186.2,479.8 L189.5,482.0 L192.8,484.2 L196.2,486.3 L199.8,488.3 L203.5,490.3 L207.2,492.3 L211.1,494.2 L215.1,496.1 L219.2,497.9 L223.4,499.7" fill="none" stroke="#1c97f5" stroke-width="0.6" opacity="0.3"/>
<path d="M173.9,471.4 L176.7,473.8 L179.6,476.1 L182.6,478.4 L185.7,480.6 L189.0,482.8 L192.3,485.0 L195.8,487.1 L199.3,489.1 L203.0,491.1 L206.8,493.1 L210.7,495.0 L214.7,496.9 L218.8,498.8 L223.1,500.5" fill="none" stroke="#1d99f6" stroke-width="0.6" opacity="0.3"/>
<path d="M173.5,472.1 L176.3,474.5 L179.1,476.8 L182.1,479.1 L185.2,481.4 L188.4,483.6 L191.8,485.7 L195.2,487.9 L198.8,489.9 L202.5,491.9 L206.3,493.9 L210.3,495.9 L214.3,497.8 L218.5,499.6 L222.8,501.4" fill="none" stroke="#1182ea" stroke-width="0.6" opacity="0.3"/>
<path d="M173.1,472.9 L175.8,475.3 L178.7,477.6 L181.6,479.9 L184.7,482.2 L187.9,484.4 L191.3,486.5 L194.8,488.6 L198.3,490.7 L202.1,492.8 L205.9,494.7 L209.9,496.7 L214.0,498.6 L218.2,500.5 L222.5,502.3" fill="none" stroke="#21a2fa" stroke-width="0.6" opacity="0.3"/>
<path d="M172.8,473.6 L175.4,476.0 L178.2,478.4 L181.2,480.7 L184.2,482.9 L187.4,485.1 L190.8,487.3 L194.2,489.4 L197.9,491.5 L201.6,493.6 L205.5,495.6 L209.5,497.5 L213.6,499.4 L217.9,501.3 L222.2,503.1" fill="none" stroke="#158aee" stroke-width="0.6" opacity="0.3"/>
<path d="M172.4,474.4 L175.0,476.8 L177.8,479.1 L180.7,481.4 L183.7,483.7 L186.9,485.9 L190.3,488.1 L193.8,490.2 L197.4,492.3 L201.1,494.4 L205.0,496.4 L209.0,498.3 L213.2,500.3 L217.5,502.1 L222.0,504.0" fill="none" stroke="#188ff1" stroke-width="0.6" opacity="0.3"/>
<path d="M172.0,475.1 L174.6,477.5 L177.3,479.9 L180.2,482.2 L183.3,484.5 L186.4,486.7 L189.8,488.9 L193.2,491.0 L196.9,493.1 L200.6,495.2 L204.6,497.2 L208.6,499.2 L212.8,501.1 L217.2,503.0 L221.7,504.8" fill="none" stroke="#1d99f6" stroke-width="0.6" opacity="0.3"/>
<path d="M171.6,475.9 L174.1,478.3 L176.9,480.6 L179.7,483.0 L182.8,485.2 L185.9,487.5 L189.3,489.7 L192.8,491.8 L196.4,493.9 L200.2,496.0 L204.1,498.0 L208.2,500.0 L212.5,501.9 L216.9,503.8 L221.4,505.7" fill="none" stroke="#1c97f5" stroke-width="0.6" opacity="0.3"/>
<path d="M171.2,476.6 L173.7,479.0 L176.4,481.4 L179.3,483.7 L182.3,486.0 L185.4,488.2 L188.8,490.4 L192.2,492.6 L195.9,494.7 L199.7,496.8 L203.7,498.8 L207.8,500.8 L212.1,502.8 L216.5,504.7 L221.1,506.6" fill="none" stroke="#1d9af6" stroke-width="0.6" opacity="0.3"/>
<circle cx="173.7" cy="472.0" r="1.0" fill="none" stroke="#4060c8" stroke-width="0.45" opacity="0.7"/>
<circle cx="172.3" cy="474.0" r="1.0" fill="none" stroke="#4060c8" stroke-width="0.45" opacity="0.7"/>
<circle cx="178.0" cy="474.1" r="1.4" fill="none" stroke="#4060c8" stroke-width="0.45" opacity="0.7"/>
<circle cx="179.3" cy="473.0" r="1.4" fill="none" stroke="#4060c8" stroke-width="0.45" opacity="0.7"/>
<circle cx="178.9" cy="465.7" r="0.9" fill="none" stroke="#4060c8" stroke-width="0.45" opacity="0.7"/>
<circle cx="176.0" cy="464.3" r="1.0" fill="none" stroke="#4060c8" stroke-width="0.45" opacity="0.7"/>
<circle cx="178.0" cy="476.6" r="1.3" fill="none" stroke="#4060c8" stroke-width="0.45" opacity="0.7"/>
<circle cx="178.6" cy="465.4" r="1.0" fill="none" stroke="#4060c8" stroke-width="0.45" opacity="0.7"/>
<circle cx="178.0" cy="464.4" r="1.2" fill="none" stroke="#4060c8" stroke-width="0.45" opacity="0.7"/>
<circle cx="173.6" cy="471.3" r="1.0" fill="none" stroke="#4060c8" stroke-width="0.45" opacity="0.7"/>
<circle cx="179.8" cy="465.2" r="1.2" fill="none" stroke="#4060c8" stroke-width="0.45" opacity="0.7"/>
<circle cx="171.5" cy="473.7" r="1.5" fill="none" stroke="#4060c8" stroke-width="0.45" opacity="0.7"/>
<circle cx="179.2" cy="473.3" r="1.2" fill="none" stroke="#4060c8" stroke-width="0.45" opacity="0.7"/>
<circle cx="177.3" cy="463.6" r="1.4" fill="none" stroke="#4060c8" stroke-width="0.45" opacity="0.7"/>
<circle cx="175.5" cy="464.5" r="1.1" fill="none" stroke="#4060c8" stroke-width="0.45" opacity="0.7"/>
<circle cx="176.8" cy="476.0" r="1.0" fill="none" stroke="#4060c8" stroke-width="0.45" opacity="0.7"/>
<path d="M222.5,490.8 Q226.6,492.4 227.7,497 Q227.9,502.5 224.8,506 Q222.5,508.3 219,509.2 Q192,519.5 170,530 Q152,537 143,539 L136,520 L143,509 Q170,504 197,497 Q212,493 223.5,490 Z" fill="url(#g14)" />
<path d="M223.0,490.9 L218.2,492.2 L213.3,493.4 L208.3,494.7 L203.2,495.9 L197.9,497.2 L192.6,498.5 L187.2,499.8 L181.6,501.1 L175.9,502.4 L170.2,503.8 L164.3,505.1 L158.3,506.5 L152.2,507.8 L145.9,509.2" fill="none" stroke="#d3ee1d" stroke-width="0.5" opacity="0.18"/>
<path d="M222.9,491.7 L218.1,493.0 L213.2,494.3 L208.1,495.6 L203.0,496.9 L197.8,498.2 L192.4,499.6 L187.0,500.9 L181.4,502.3 L175.8,503.6 L170.0,505.0 L164.1,506.4 L158.1,507.8 L152.0,509.1 L145.8,510.5" fill="none" stroke="#f8f93a" stroke-width="0.5" opacity="0.18"/>
<path d="M222.8,492.5 L218.0,493.9 L213.0,495.2 L208.0,496.6 L202.9,497.9 L197.6,499.3 L192.3,500.7 L186.8,502.0 L181.3,503.4 L175.6,504.8 L169.8,506.2 L163.9,507.6 L158.0,509.0 L151.9,510.5 L145.7,511.9" fill="none" stroke="#d8ef21" stroke-width="0.5" opacity="0.18"/>
<path d="M222.7,493.4 L217.8,494.7 L212.9,496.1 L207.9,497.5 L202.7,498.9 L197.5,500.3 L192.1,501.7 L186.7,503.1 L181.1,504.6 L175.4,506.0 L169.7,507.4 L163.8,508.9 L157.8,510.3 L151.7,511.8 L145.5,513.3" fill="none" stroke="#cfed1a" stroke-width="0.5" opacity="0.18"/>
<path d="M222.6,494.2 L217.7,495.6 L212.8,497.0 L207.7,498.5 L202.6,499.9 L197.3,501.4 L191.9,502.8 L186.5,504.3 L180.9,505.7 L175.3,507.2 L169.5,508.7 L163.6,510.2 L157.6,511.6 L151.6,513.1 L145.4,514.6" fill="none" stroke="#d6ef1f" stroke-width="0.5" opacity="0.18"/>
<path d="M222.5,495.0 L217.6,496.5 L212.7,497.9 L207.6,499.4 L202.4,500.9 L197.1,502.4 L191.8,503.9 L186.3,505.4 L180.7,506.9 L175.1,508.4 L169.3,509.9 L163.4,511.4 L157.5,512.9 L151.4,514.5 L145.2,516.0" fill="none" stroke="#e8f42e" stroke-width="0.5" opacity="0.18"/>
<path d="M222.4,495.8 L217.5,497.3 L212.5,498.8 L207.4,500.4 L202.3,501.9 L197.0,503.4 L191.6,505.0 L186.1,506.5 L180.6,508.0 L174.9,509.6 L169.1,511.1 L163.3,512.7 L157.3,514.2 L151.3,515.8 L145.1,517.4" fill="none" stroke="#eaf52f" stroke-width="0.5" opacity="0.18"/>
<path d="M222.3,496.6 L217.4,498.2 L212.4,499.8 L207.3,501.3 L202.1,502.9 L196.8,504.5 L191.4,506.0 L186.0,507.6 L180.4,509.2 L174.7,510.8 L169.0,512.4 L163.1,513.9 L157.2,515.5 L151.1,517.1 L145.0,518.7" fill="none" stroke="#d1ed1b" stroke-width="0.5" opacity="0.18"/>
<path d="M222.2,497.5 L217.3,499.1 L212.3,500.7 L207.2,502.3 L202.0,503.9 L196.7,505.5 L191.3,507.1 L185.8,508.7 L180.2,510.3 L174.6,512.0 L168.8,513.6 L163.0,515.2 L157.0,516.8 L151.0,518.5 L144.8,520.1" fill="none" stroke="#cfed19" stroke-width="0.5" opacity="0.18"/>
<path d="M222.1,498.3 L217.2,499.9 L212.2,501.6 L207.0,503.2 L201.8,504.9 L196.5,506.5 L191.1,508.2 L185.6,509.8 L180.1,511.5 L174.4,513.1 L168.6,514.8 L162.8,516.5 L156.8,518.1 L150.8,519.8 L144.7,521.5" fill="none" stroke="#d1ed1b" stroke-width="0.5" opacity="0.18"/>
<path d="M222.0,499.1 L217.1,500.8 L212.0,502.5 L206.9,504.2 L201.7,505.9 L196.4,507.6 L191.0,509.2 L185.5,510.9 L179.9,512.6 L174.2,514.3 L168.5,516.0 L162.6,517.7 L156.7,519.4 L150.7,521.1 L144.6,522.8" fill="none" stroke="#d8ef21" stroke-width="0.5" opacity="0.18"/>
<path d="M222.0,499.9 L217.0,501.6 L211.9,503.4 L206.8,505.1 L201.5,506.9 L196.2,508.6 L190.8,510.3 L185.3,512.1 L179.7,513.8 L174.0,515.5 L168.3,517.3 L162.5,519.0 L156.5,520.7 L150.5,522.5 L144.4,524.2" fill="none" stroke="#dcf124" stroke-width="0.5" opacity="0.18"/>
<path d="M221.9,500.7 L216.9,502.5 L211.8,504.3 L206.6,506.1 L201.4,507.8 L196.0,509.6 L190.6,511.4 L185.1,513.2 L179.5,514.9 L173.9,516.7 L168.1,518.5 L162.3,520.3 L156.4,522.0 L150.4,523.8 L144.3,525.5" fill="none" stroke="#c9eb15" stroke-width="0.5" opacity="0.18"/>
<path d="M221.8,501.5 L216.8,503.4 L211.7,505.2 L206.5,507.0 L201.2,508.8 L195.9,510.7 L190.5,512.5 L184.9,514.3 L179.4,516.1 L173.7,517.9 L168.0,519.7 L162.1,521.5 L156.2,523.3 L150.2,525.1 L144.2,526.9" fill="none" stroke="#d9f022" stroke-width="0.5" opacity="0.18"/>
<path d="M221.7,502.4 L216.6,504.2 L211.5,506.1 L206.3,508.0 L201.1,509.8 L195.7,511.7 L190.3,513.5 L184.8,515.4 L179.2,517.2 L173.5,519.1 L167.8,520.9 L162.0,522.8 L156.1,524.6 L150.1,526.4 L144.0,528.3" fill="none" stroke="#e8f42e" stroke-width="0.5" opacity="0.18"/>
<path d="M221.6,503.2 L216.5,505.1 L211.4,507.0 L206.2,508.9 L200.9,510.8 L195.6,512.7 L190.1,514.6 L184.6,516.5 L179.0,518.4 L173.4,520.3 L167.6,522.2 L161.8,524.0 L155.9,525.9 L149.9,527.8 L143.9,529.6" fill="none" stroke="#d2ee1c" stroke-width="0.5" opacity="0.18"/>
<path d="M221.5,504.0 L216.4,506.0 L211.3,507.9 L206.1,509.9 L200.8,511.8 L195.4,513.8 L190.0,515.7 L184.4,517.6 L178.8,519.6 L173.2,521.5 L167.4,523.4 L161.6,525.3 L155.7,527.2 L149.8,529.1 L143.8,531.0" fill="none" stroke="#e8f42e" stroke-width="0.5" opacity="0.18"/>
<path d="M221.4,504.8 L216.3,506.8 L211.2,508.8 L205.9,510.8 L200.6,512.8 L195.2,514.8 L189.8,516.8 L184.3,518.7 L178.7,520.7 L173.0,522.7 L167.3,524.6 L161.5,526.6 L155.6,528.5 L149.6,530.4 L143.6,532.4" fill="none" stroke="#e2f228" stroke-width="0.5" opacity="0.18"/>
<path d="M221.3,505.6 L216.2,507.7 L211.0,509.7 L205.8,511.8 L200.5,513.8 L195.1,515.8 L189.6,517.8 L184.1,519.9 L178.5,521.9 L172.8,523.9 L167.1,525.8 L161.3,527.8 L155.4,529.8 L149.5,531.8 L143.5,533.7" fill="none" stroke="#cbec16" stroke-width="0.5" opacity="0.18"/>
<path d="M221.2,506.5 L216.1,508.6 L210.9,510.6 L205.6,512.7 L200.3,514.8 L194.9,516.9 L189.5,518.9 L183.9,521.0 L178.3,523.0 L172.7,525.0 L166.9,527.1 L161.1,529.1 L155.3,531.1 L149.3,533.1 L143.3,535.1" fill="none" stroke="#e0f227" stroke-width="0.5" opacity="0.18"/>
<path d="M221.1,507.3 L216.0,509.4 L210.8,511.5 L205.5,513.7 L200.2,515.8 L194.8,517.9 L189.3,520.0 L183.8,522.1 L178.2,524.2 L172.5,526.2 L166.8,528.3 L161.0,530.3 L155.1,532.4 L149.2,534.4 L143.2,536.5" fill="none" stroke="#c8eb14" stroke-width="0.5" opacity="0.18"/>
<path d="M221.0,508.1 L215.9,510.3 L210.7,512.5 L205.4,514.6 L200.0,516.8 L194.6,518.9 L189.1,521.1 L183.6,523.2 L178.0,525.3 L172.3,527.4 L166.6,529.5 L160.8,531.6 L155.0,533.7 L149.0,535.8 L143.1,537.8" fill="none" stroke="#eff633" stroke-width="0.5" opacity="0.18"/>
<rect x="224.1" y="508.8" width="1.2" height="0.6" fill="#90e070" opacity="0.75" transform="rotate(64 224.1 508.8)"/>
<rect x="224.2" y="507.8" width="1.6" height="0.6" fill="#30a8e8" opacity="0.75" transform="rotate(60 224.2 507.8)"/>
<rect x="226.2" y="493.4" width="1.9" height="0.6" fill="#58cfc0" opacity="0.75" transform="rotate(-39 226.2 493.4)"/>
<rect x="227.1" y="502.0" width="1.7" height="0.6" fill="#30a8e8" opacity="0.75" transform="rotate(17 227.1 502.0)"/>
<rect x="222.1" y="508.1" width="2.1" height="0.6" fill="#90e070" opacity="0.75" transform="rotate(75 222.1 508.1)"/>
<rect x="223.8" y="491.4" width="1.5" height="0.6" fill="#58cfc0" opacity="0.75" transform="rotate(-61 223.8 491.4)"/>
<rect x="227.2" y="496.2" width="1.1" height="0.6" fill="#90e070" opacity="0.75" transform="rotate(-20 227.2 496.2)"/>
<rect x="225.3" y="507.2" width="1.5" height="0.6" fill="#30a8e8" opacity="0.75" transform="rotate(52 225.3 507.2)"/>
<rect x="225.5" y="506.6" width="1.6" height="0.6" fill="#30a8e8" opacity="0.75" transform="rotate(49 225.5 506.6)"/>
<rect x="223.8" y="490.7" width="1.5" height="0.6" fill="#58cfc0" opacity="0.75" transform="rotate(-63 223.8 490.7)"/>
<rect x="228.6" y="498.1" width="1.1" height="0.6" fill="#58cfc0" opacity="0.75" transform="rotate(-7 228.6 498.1)"/>
<rect x="228.0" y="496.7" width="1.1" height="0.6" fill="#30a8e8" opacity="0.75" transform="rotate(-15 228.0 496.7)"/>
<rect x="224.9" y="508.1" width="1.6" height="0.6" fill="#58cfc0" opacity="0.75" transform="rotate(57 224.9 508.1)"/>
<rect x="226.1" y="495.1" width="1.3" height="0.6" fill="#58cfc0" opacity="0.75" transform="rotate(-30 226.1 495.1)"/>
<rect x="227.9" y="500.2" width="1.1" height="0.6" fill="#2090ee" opacity="0.75" transform="rotate(5 227.9 500.2)"/>
<rect x="226.9" y="494.1" width="1.1" height="0.6" fill="#90e070" opacity="0.75" transform="rotate(-32 226.9 494.1)"/>
<rect x="227.0" y="497.2" width="1.5" height="0.6" fill="#58cfc0" opacity="0.75" transform="rotate(-14 227.0 497.2)"/>
<rect x="222.0" y="509.7" width="1.9" height="0.6" fill="#58cfc0" opacity="0.75" transform="rotate(78 222.0 509.7)"/>
<rect x="223.2" y="506.6" width="2.1" height="0.6" fill="#2090ee" opacity="0.75" transform="rotate(64 223.2 506.6)"/>
<rect x="225.6" y="506.9" width="1.3" height="0.6" fill="#58cfc0" opacity="0.75" transform="rotate(49 225.6 506.9)"/>
<rect x="224.2" y="492.2" width="2.0" height="0.6" fill="#30a8e8" opacity="0.75" transform="rotate(-56 224.2 492.2)"/>
<rect x="228.1" y="498.3" width="1.1" height="0.6" fill="#30a8e8" opacity="0.75" transform="rotate(-6 228.1 498.3)"/>
<rect x="224.6" y="491.2" width="1.3" height="0.6" fill="#30a8e8" opacity="0.75" transform="rotate(-56 224.6 491.2)"/>
<rect x="224.3" y="506.0" width="1.4" height="0.6" fill="#30a8e8" opacity="0.75" transform="rotate(54 224.3 506.0)"/>
<rect x="223.9" y="490.6" width="1.8" height="0.6" fill="#90e070" opacity="0.75" transform="rotate(-63 223.9 490.6)"/>
<rect x="228.2" y="496.1" width="1.6" height="0.6" fill="#58cfc0" opacity="0.75" transform="rotate(-18 228.2 496.1)"/>
<path d="M84,428 Q96,424 106,430 Q118,446 132,452 Q142,455 148,457 L148,484 Q128,482 112,474 Q96,466 86,442 Z" fill="url(#g15)" />
<path d="M103.5,428.2 L105.9,431.3 L108.3,434.2 L110.9,437.0 L113.7,439.7 L116.5,442.2 L119.5,444.5 L122.6,446.7 L125.8,448.7 L129.1,450.6 L132.6,452.3 L136.2,453.8 L140.0,455.2 L143.8,456.5 L147.8,457.6" fill="none" stroke="#0a96e6" stroke-width="0.6" opacity="0.3"/>
<path d="M102.6,428.5 L105.0,431.7 L107.4,434.8 L110.0,437.6 L112.7,440.3 L115.6,442.9 L118.6,445.3 L121.7,447.5 L125.0,449.6 L128.4,451.5 L131.9,453.3 L135.6,454.9 L139.4,456.3 L143.4,457.6 L147.5,458.8" fill="none" stroke="#21bbf8" stroke-width="0.6" opacity="0.3"/>
<path d="M101.7,428.9 L104.0,432.2 L106.5,435.3 L109.0,438.2 L111.8,441.0 L114.7,443.6 L117.7,446.1 L120.8,448.4 L124.2,450.5 L127.6,452.5 L131.2,454.3 L135.0,455.9 L138.9,457.4 L142.9,458.8 L147.1,460.0" fill="none" stroke="#14a6ee" stroke-width="0.6" opacity="0.3"/>
<path d="M100.8,429.3 L103.1,432.6 L105.5,435.8 L108.1,438.8 L110.8,441.6 L113.7,444.3 L116.8,446.8 L120.0,449.2 L123.3,451.4 L126.8,453.4 L130.5,455.3 L134.3,457.0 L138.3,458.5 L142.4,459.9 L146.7,461.1" fill="none" stroke="#14a6ee" stroke-width="0.6" opacity="0.3"/>
<path d="M99.9,429.6 L102.2,433.0 L104.6,436.3 L107.2,439.4 L109.9,442.3 L112.8,445.0 L115.9,447.6 L119.1,450.0 L122.5,452.3 L126.1,454.4 L129.8,456.3 L133.7,458.0 L137.8,459.6 L142.0,461.1 L146.4,462.3" fill="none" stroke="#0c99e7" stroke-width="0.6" opacity="0.3"/>
<path d="M99.0,430.0 L101.2,433.5 L103.6,436.8 L106.2,440.0 L109.0,442.9 L111.9,445.8 L115.0,448.4 L118.2,450.9 L121.7,453.2 L125.3,455.3 L129.1,457.3 L133.1,459.1 L137.2,460.7 L141.5,462.2 L146.0,463.5" fill="none" stroke="#109fea" stroke-width="0.6" opacity="0.3"/>
<path d="M98.1,430.4 L100.3,433.9 L102.7,437.3 L105.3,440.5 L108.0,443.6 L111.0,446.5 L114.1,449.2 L117.4,451.7 L120.9,454.1 L124.5,456.3 L128.4,458.3 L132.4,460.2 L136.7,461.8 L141.1,463.3 L145.6,464.7" fill="none" stroke="#1cb3f4" stroke-width="0.6" opacity="0.3"/>
<path d="M97.2,430.7 L99.4,434.4 L101.7,437.8 L104.3,441.1 L107.1,444.2 L110.0,447.2 L113.2,450.0 L116.5,452.6 L120.1,455.0 L123.8,457.2 L127.7,459.3 L131.8,461.2 L136.1,462.9 L140.6,464.5 L145.3,465.9" fill="none" stroke="#1ab1f3" stroke-width="0.6" opacity="0.3"/>
<path d="M96.3,431.1 L98.4,434.8 L100.8,438.3 L103.4,441.7 L106.1,444.9 L109.1,447.9 L112.3,450.7 L115.7,453.4 L119.2,455.9 L123.0,458.2 L127.0,460.3 L131.2,462.3 L135.5,464.0 L140.1,465.6 L144.9,467.0" fill="none" stroke="#0d9ce9" stroke-width="0.6" opacity="0.3"/>
<path d="M95.4,431.5 L97.5,435.2 L99.9,438.9 L102.4,442.3 L105.2,445.6 L108.2,448.6 L111.4,451.5 L114.8,454.2 L118.4,456.8 L122.2,459.1 L126.3,461.3 L130.5,463.3 L135.0,465.1 L139.7,466.8 L144.5,468.2" fill="none" stroke="#12a3ec" stroke-width="0.6" opacity="0.3"/>
<path d="M94.5,431.8 L96.6,435.7 L98.9,439.4 L101.5,442.9 L104.3,446.2 L107.3,449.3 L110.5,452.3 L113.9,455.1 L117.6,457.7 L121.5,460.1 L125.6,462.3 L129.9,464.4 L134.4,466.2 L139.2,467.9 L144.2,469.4" fill="none" stroke="#0d9be8" stroke-width="0.6" opacity="0.3"/>
<path d="M93.5,432.2 L95.6,436.1 L98.0,439.9 L100.5,443.5 L103.3,446.9 L106.3,450.1 L109.6,453.1 L113.1,455.9 L116.8,458.6 L120.7,461.0 L124.9,463.3 L129.3,465.4 L133.9,467.3 L138.7,469.1 L143.8,470.6" fill="none" stroke="#0e9de9" stroke-width="0.6" opacity="0.3"/>
<path d="M92.6,432.5 L94.7,436.6 L97.0,440.4 L99.6,444.1 L102.4,447.5 L105.4,450.8 L108.7,453.9 L112.2,456.8 L116.0,459.5 L119.9,462.0 L124.2,464.3 L128.6,466.5 L133.3,468.4 L138.3,470.2 L143.5,471.8" fill="none" stroke="#0f9eea" stroke-width="0.6" opacity="0.3"/>
<path d="M91.7,432.9 L93.8,437.0 L96.1,440.9 L98.6,444.6 L101.4,448.2 L104.5,451.5 L107.8,454.6 L111.3,457.6 L115.1,460.4 L119.2,462.9 L123.5,465.3 L128.0,467.5 L132.8,469.5 L137.8,471.3 L143.1,473.0" fill="none" stroke="#12a3ec" stroke-width="0.6" opacity="0.3"/>
<path d="M90.8,433.3 L92.9,437.4 L95.2,441.4 L97.7,445.2 L100.5,448.8 L103.6,452.2 L106.9,455.4 L110.5,458.4 L114.3,461.3 L118.4,463.9 L122.8,466.3 L127.4,468.6 L132.2,470.6 L137.3,472.5 L142.7,474.1" fill="none" stroke="#22bdf9" stroke-width="0.6" opacity="0.3"/>
<path d="M89.9,433.6 L91.9,437.9 L94.2,441.9 L96.8,445.8 L99.6,449.5 L102.7,452.9 L106.0,456.2 L109.6,459.3 L113.5,462.2 L117.6,464.8 L122.1,467.3 L126.7,469.6 L131.7,471.7 L136.9,473.6 L142.4,475.3" fill="none" stroke="#22bdf9" stroke-width="0.6" opacity="0.3"/>
<path d="M89.0,434.0 L91.0,438.3 L93.3,442.5 L95.8,446.4 L98.6,450.1 L101.7,453.7 L105.1,457.0 L108.8,460.1 L112.7,463.1 L116.9,465.8 L121.3,468.3 L126.1,470.7 L131.1,472.8 L136.4,474.8 L142.0,476.5" fill="none" stroke="#1db5f5" stroke-width="0.6" opacity="0.3"/>
<path d="M88.1,434.4 L90.1,438.8 L92.3,443.0 L94.9,447.0 L97.7,450.8 L100.8,454.4 L104.2,457.8 L107.9,461.0 L111.9,464.0 L116.1,466.8 L120.6,469.3 L125.5,471.7 L130.6,473.9 L136.0,475.9 L141.6,477.7" fill="none" stroke="#15a9ef" stroke-width="0.6" opacity="0.3"/>
<path d="M87.2,434.7 L89.1,439.2 L91.4,443.5 L93.9,447.6 L96.8,451.4 L99.9,455.1 L103.3,458.6 L107.0,461.8 L111.0,464.9 L115.3,467.7 L119.9,470.3 L124.8,472.8 L130.0,475.0 L135.5,477.0 L141.3,478.9" fill="none" stroke="#16a9ef" stroke-width="0.6" opacity="0.3"/>
<path d="M86.3,435.1 L88.2,439.6 L90.4,444.0 L93.0,448.1 L95.8,452.1 L99.0,455.8 L102.4,459.3 L106.2,462.6 L110.2,465.8 L114.6,468.7 L119.2,471.3 L124.2,473.8 L129.5,476.1 L135.0,478.2 L140.9,480.0" fill="none" stroke="#1db5f5" stroke-width="0.6" opacity="0.3"/>
<path d="M85.4,435.5 L87.3,440.1 L89.5,444.5 L92.0,448.7 L94.9,452.7 L98.0,456.5 L101.5,460.1 L105.3,463.5 L109.4,466.7 L113.8,469.6 L118.5,472.4 L123.6,474.9 L128.9,477.2 L134.6,479.3 L140.5,481.2" fill="none" stroke="#20baf8" stroke-width="0.6" opacity="0.3"/>
<path d="M84.5,435.8 L86.3,440.5 L88.6,445.0 L91.1,449.3 L93.9,453.4 L97.1,457.2 L100.6,460.9 L104.4,464.3 L108.6,467.6 L113.0,470.6 L117.8,473.4 L122.9,475.9 L128.4,478.3 L134.1,480.5 L140.2,482.4" fill="none" stroke="#1cb4f5" stroke-width="0.6" opacity="0.3"/>
<path d="M133.2,466 Q133,458 138,455.5 Q144,453.5 148,457 Q150.3,460 150.3,468 L150.3,520 Q150,534 146,537.5 Q141,539.5 137.5,536 Q133.4,530 133.2,520 Z" fill="url(#g16)" />
<line x1="134.1" y1="458.0" x2="134.1" y2="536.0" stroke="#27eae0" stroke-width="0.5" opacity="0.35"/>
<line x1="135.1" y1="458.0" x2="135.1" y2="536.0" stroke="#19dcd2" stroke-width="0.5" opacity="0.35"/>
<line x1="136.2" y1="458.0" x2="136.2" y2="536.0" stroke="#26e9df" stroke-width="0.5" opacity="0.35"/>
<line x1="137.2" y1="458.0" x2="137.2" y2="536.0" stroke="#2df0e6" stroke-width="0.5" opacity="0.35"/>
<line x1="138.2" y1="458.0" x2="138.2" y2="536.0" stroke="#2beee4" stroke-width="0.5" opacity="0.35"/>
<line x1="139.2" y1="458.0" x2="139.2" y2="536.0" stroke="#16d9cf" stroke-width="0.5" opacity="0.35"/>
<line x1="140.3" y1="458.0" x2="140.3" y2="536.0" stroke="#29ece2" stroke-width="0.5" opacity="0.35"/>
<line x1="141.3" y1="458.0" x2="141.3" y2="536.0" stroke="#1ee1d7" stroke-width="0.5" opacity="0.35"/>
<line x1="142.3" y1="458.0" x2="142.3" y2="536.0" stroke="#18dbd1" stroke-width="0.5" opacity="0.35"/>
<line x1="143.3" y1="458.0" x2="143.3" y2="536.0" stroke="#30f3e9" stroke-width="0.5" opacity="0.35"/>
<line x1="144.4" y1="458.0" x2="144.4" y2="536.0" stroke="#28ebe1" stroke-width="0.5" opacity="0.35"/>
<line x1="145.4" y1="458.0" x2="145.4" y2="536.0" stroke="#2aede3" stroke-width="0.5" opacity="0.35"/>
<line x1="146.4" y1="458.0" x2="146.4" y2="536.0" stroke="#18dbd1" stroke-width="0.5" opacity="0.35"/>
<line x1="147.4" y1="458.0" x2="147.4" y2="536.0" stroke="#2cefe5" stroke-width="0.5" opacity="0.35"/>
<line x1="148.5" y1="458.0" x2="148.5" y2="536.0" stroke="#30f3e9" stroke-width="0.5" opacity="0.35"/>
<line x1="149.5" y1="458.0" x2="149.5" y2="536.0" stroke="#2ff2e8" stroke-width="0.5" opacity="0.35"/>
<rect x="145.2" y="533.6" width="0.6" height="2.6" fill="#90ec70" opacity="0.6"/>
<rect x="136.5" y="524.7" width="0.6" height="2.3" fill="#90ec70" opacity="0.6"/>
<rect x="138.5" y="536.2" width="0.6" height="2.1" fill="#90ec70" opacity="0.6"/>
<rect x="135.7" y="536.4" width="0.6" height="2.6" fill="#20d0e8" opacity="0.6"/>
<rect x="145.3" y="533.9" width="0.6" height="1.5" fill="#90ec70" opacity="0.6"/>
<rect x="140.9" y="521.7" width="0.6" height="2.0" fill="#90ec70" opacity="0.6"/>
<rect x="147.3" y="518.0" width="0.6" height="2.3" fill="#20d0e8" opacity="0.6"/>
<rect x="145.9" y="530.7" width="0.6" height="2.9" fill="#20d0e8" opacity="0.6"/>
<rect x="140.1" y="518.7" width="0.6" height="2.3" fill="#20d0e8" opacity="0.6"/>
<rect x="143.9" y="535.1" width="0.6" height="1.9" fill="#20d0e8" opacity="0.6"/>
<rect x="134.1" y="526.8" width="0.6" height="1.0" fill="#60e8b0" opacity="0.6"/>
<rect x="147.2" y="526.5" width="0.6" height="1.8" fill="#20d0e8" opacity="0.6"/>
<rect x="140.9" y="523.7" width="0.6" height="1.4" fill="#20d0e8" opacity="0.6"/>
<rect x="139.9" y="526.3" width="0.6" height="1.1" fill="#20d0e8" opacity="0.6"/>
<rect x="135.3" y="522.4" width="0.6" height="2.4" fill="#20d0e8" opacity="0.6"/>
<rect x="140.1" y="527.8" width="0.6" height="1.5" fill="#60e8b0" opacity="0.6"/>
<rect x="144.2" y="517.8" width="0.6" height="2.6" fill="#60e8b0" opacity="0.6"/>
<rect x="139.8" y="523.7" width="0.6" height="1.3" fill="#60e8b0" opacity="0.6"/>
<rect x="137.4" y="534.8" width="0.6" height="2.2" fill="#20d0e8" opacity="0.6"/>
<rect x="138.6" y="523.4" width="0.6" height="2.8" fill="#90ec70" opacity="0.6"/>
<rect x="136.8" y="533.6" width="0.6" height="1.3" fill="#90ec70" opacity="0.6"/>
<rect x="134.1" y="534.1" width="0.6" height="1.2" fill="#60e8b0" opacity="0.6"/>
<rect x="140.8" y="533.2" width="0.6" height="1.5" fill="#20d0e8" opacity="0.6"/>
<rect x="144.1" y="536.7" width="0.6" height="2.5" fill="#90ec70" opacity="0.6"/>
<rect x="144.0" y="519.7" width="0.6" height="2.5" fill="#20d0e8" opacity="0.6"/>
<rect x="144.0" y="518.5" width="0.6" height="2.2" fill="#20d0e8" opacity="0.6"/>
<rect x="138.0" y="522.9" width="0.6" height="1.6" fill="#90ec70" opacity="0.6"/>
<rect x="143.5" y="524.5" width="0.6" height="2.0" fill="#90ec70" opacity="0.6"/>
<rect x="134.9" y="530.1" width="0.6" height="2.0" fill="#90ec70" opacity="0.6"/>
<rect x="148.6" y="518.1" width="0.6" height="2.7" fill="#90ec70" opacity="0.6"/>
<rect x="135.8" y="524.5" width="0.6" height="1.6" fill="#90ec70" opacity="0.6"/>
<rect x="147.4" y="531.6" width="0.6" height="2.5" fill="#60e8b0" opacity="0.6"/>
<rect x="148.2" y="526.6" width="0.6" height="1.0" fill="#20d0e8" opacity="0.6"/>
<rect x="136.2" y="528.8" width="0.6" height="2.2" fill="#60e8b0" opacity="0.6"/>
<rect x="149.0" y="520.5" width="0.6" height="2.2" fill="#20d0e8" opacity="0.6"/>
<rect x="143.4" y="521.8" width="0.6" height="2.5" fill="#60e8b0" opacity="0.6"/>
<rect x="140.3" y="536.6" width="0.6" height="2.3" fill="#90ec70" opacity="0.6"/>
<rect x="143.6" y="526.9" width="0.6" height="2.9" fill="#20d0e8" opacity="0.6"/>
<rect x="144.4" y="522.5" width="0.6" height="1.3" fill="#90ec70" opacity="0.6"/>
<rect x="141.4" y="518.0" width="0.6" height="2.1" fill="#60e8b0" opacity="0.6"/>
<rect x="137.0" y="533.1" width="0.6" height="1.1" fill="#20d0e8" opacity="0.6"/>
<rect x="145.1" y="520.4" width="0.6" height="1.6" fill="#60e8b0" opacity="0.6"/>
<rect x="142.8" y="536.4" width="0.6" height="2.6" fill="#20d0e8" opacity="0.6"/>
<rect x="148.4" y="520.7" width="0.6" height="1.6" fill="#20d0e8" opacity="0.6"/>
<rect x="137.0" y="523.4" width="0.6" height="1.9" fill="#60e8b0" opacity="0.6"/>
<rect x="144.2" y="524.2" width="0.6" height="1.6" fill="#20d0e8" opacity="0.6"/>
<rect x="138.0" y="521.1" width="0.6" height="2.8" fill="#20d0e8" opacity="0.6"/>
<rect x="141.5" y="525.2" width="0.6" height="1.3" fill="#20d0e8" opacity="0.6"/>
<rect x="134.7" y="522.6" width="0.6" height="2.1" fill="#90ec70" opacity="0.6"/>
<rect x="142.4" y="530.4" width="0.6" height="2.5" fill="#20d0e8" opacity="0.6"/>
<path d="M80,381 Q104,374 124,366 Q146,356 161.5,347.6 Q170,351 176,360.5 Q180.8,370 181,381 Q180.6,393 177.5,403 Q160,410 140,416.5 Q120,423 106.5,425.5 L96,406 Z" fill="url(#g17)" />
<path d="M82.3,381.5 L88.4,379.6 L94.5,377.6 L100.7,375.5 L106.8,373.4 L113.0,371.1 L119.1,368.7 L125.2,366.3 L131.4,363.8 L137.5,361.1 L143.6,358.4 L149.8,355.6 L155.9,352.7 L162.0,349.7 L168.1,346.6" fill="none" stroke="#d72b08" stroke-width="0.55" opacity="0.42"/>
<path d="M82.8,382.5 L89.0,380.6 L95.1,378.6 L101.2,376.6 L107.3,374.4 L113.4,372.2 L119.5,369.8 L125.7,367.4 L131.8,364.9 L137.9,362.3 L144.0,359.6 L150.1,356.8 L156.2,353.9 L162.3,350.9 L168.4,347.9" fill="none" stroke="#fae4c1" stroke-width="0.55" opacity="0.42"/>
<path d="M83.4,383.5 L89.5,381.6 L95.6,379.7 L101.7,377.6 L107.8,375.5 L113.9,373.3 L120.0,370.9 L126.1,368.5 L132.2,366.0 L138.3,363.4 L144.4,360.7 L150.5,358.0 L156.6,355.1 L162.7,352.2 L168.7,349.1" fill="none" stroke="#d72b08" stroke-width="0.55" opacity="0.42"/>
<path d="M83.9,384.5 L90.0,382.6 L96.1,380.7 L102.2,378.7 L108.3,376.5 L114.4,374.3 L120.5,372.0 L126.5,369.6 L132.6,367.1 L138.7,364.6 L144.8,361.9 L150.8,359.2 L156.9,356.3 L163.0,353.4 L169.0,350.4" fill="none" stroke="#fae8c6" stroke-width="0.55" opacity="0.42"/>
<path d="M84.5,385.5 L90.6,383.7 L96.7,381.7 L102.7,379.7 L108.8,377.6 L114.9,375.4 L120.9,373.1 L127.0,370.7 L133.0,368.3 L139.1,365.7 L145.1,363.1 L151.2,360.3 L157.2,357.5 L163.3,354.6 L169.3,351.6" fill="none" stroke="#faeac9" stroke-width="0.55" opacity="0.42"/>
<path d="M85.1,386.5 L91.1,384.7 L97.2,382.8 L103.2,380.7 L109.3,378.7 L115.3,376.5 L121.4,374.2 L127.4,371.8 L133.5,369.4 L139.5,366.9 L145.5,364.2 L151.6,361.5 L157.6,358.7 L163.6,355.8 L169.6,352.9" fill="none" stroke="#cc1b06" stroke-width="0.55" opacity="0.42"/>
<path d="M85.6,387.5 L91.7,385.7 L97.7,383.8 L103.7,381.8 L109.8,379.7 L115.8,377.5 L121.8,375.3 L127.9,373.0 L133.9,370.5 L139.9,368.0 L145.9,365.4 L151.9,362.7 L157.9,359.9 L163.9,357.1 L169.9,354.1" fill="none" stroke="#d92e09" stroke-width="0.55" opacity="0.42"/>
<path d="M86.2,388.5 L92.2,386.7 L98.2,384.8 L104.3,382.8 L110.3,380.8 L116.3,378.6 L122.3,376.4 L128.3,374.1 L134.3,371.7 L140.3,369.2 L146.3,366.6 L152.3,363.9 L158.3,361.1 L164.2,358.3 L170.2,355.4" fill="none" stroke="#c81405" stroke-width="0.55" opacity="0.42"/>
<path d="M86.7,389.5 L92.7,387.7 L98.8,385.8 L104.8,383.9 L110.8,381.8 L116.8,379.7 L122.8,377.5 L128.7,375.2 L134.7,372.8 L140.7,370.3 L146.7,367.7 L152.6,365.1 L158.6,362.4 L164.6,359.5 L170.5,356.6" fill="none" stroke="#dd330a" stroke-width="0.55" opacity="0.42"/>
<path d="M87.3,390.5 L93.3,388.7 L99.3,386.9 L105.3,384.9 L111.3,382.9 L117.2,380.8 L123.2,378.6 L129.2,376.3 L135.1,373.9 L141.1,371.4 L147.1,368.9 L153.0,366.3 L158.9,363.6 L164.9,360.8 L170.8,357.9" fill="none" stroke="#fae3bf" stroke-width="0.55" opacity="0.42"/>
<path d="M87.8,391.5 L93.8,389.7 L99.8,387.9 L105.8,386.0 L111.8,383.9 L117.7,381.8 L123.7,379.7 L129.6,377.4 L135.6,375.0 L141.5,372.6 L147.4,370.1 L153.4,367.5 L159.3,364.8 L165.2,362.0 L171.1,359.1" fill="none" stroke="#d42608" stroke-width="0.55" opacity="0.42"/>
<path d="M88.4,392.5 L94.4,390.8 L100.3,388.9 L106.3,387.0 L112.2,385.0 L118.2,382.9 L124.1,380.7 L130.1,378.5 L136.0,376.2 L141.9,373.7 L147.8,371.2 L153.7,368.6 L159.6,366.0 L165.5,363.2 L171.4,360.4" fill="none" stroke="#fae0ba" stroke-width="0.55" opacity="0.42"/>
<path d="M89.0,393.5 L94.9,391.8 L100.9,389.9 L106.8,388.0 L112.7,386.1 L118.7,384.0 L124.6,381.8 L130.5,379.6 L136.4,377.3 L142.3,374.9 L148.2,372.4 L154.1,369.8 L160.0,367.2 L165.8,364.4 L171.7,361.6" fill="none" stroke="#d62908" stroke-width="0.55" opacity="0.42"/>
<path d="M89.5,394.5 L95.5,392.8 L101.4,391.0 L107.3,389.1 L113.2,387.1 L119.1,385.1 L125.0,382.9 L130.9,380.7 L136.8,378.4 L142.7,376.0 L148.6,373.6 L154.4,371.0 L160.3,368.4 L166.1,365.7 L172.0,362.9" fill="none" stroke="#faefd0" stroke-width="0.55" opacity="0.42"/>
<path d="M90.1,395.5 L96.0,393.8 L101.9,392.0 L107.8,390.1 L113.7,388.2 L119.6,386.1 L125.5,384.0 L131.4,381.8 L137.3,379.5 L143.1,377.2 L149.0,374.7 L154.8,372.2 L160.6,369.6 L166.5,366.9 L172.3,364.1" fill="none" stroke="#faebcb" stroke-width="0.55" opacity="0.42"/>
<path d="M90.6,396.5 L96.5,394.8 L102.4,393.0 L108.3,391.2 L114.2,389.2 L120.1,387.2 L126.0,385.1 L131.8,382.9 L137.7,380.7 L143.5,378.3 L149.3,375.9 L155.2,373.4 L161.0,370.8 L166.8,368.1 L172.6,365.4" fill="none" stroke="#faebca" stroke-width="0.55" opacity="0.42"/>
<path d="M91.2,397.5 L97.1,395.8 L103.0,394.1 L108.8,392.2 L114.7,390.3 L120.6,388.3 L126.4,386.2 L132.3,384.0 L138.1,381.8 L143.9,379.5 L149.7,377.1 L155.5,374.6 L161.3,372.0 L167.1,369.4 L172.9,366.6" fill="none" stroke="#cb1905" stroke-width="0.55" opacity="0.42"/>
<path d="M91.7,398.5 L97.6,396.8 L103.5,395.1 L109.4,393.3 L115.2,391.3 L121.1,389.4 L126.9,387.3 L132.7,385.1 L138.5,382.9 L144.3,380.6 L150.1,378.2 L155.9,375.8 L161.7,373.2 L167.4,370.6 L173.2,367.9" fill="none" stroke="#fae0ba" stroke-width="0.55" opacity="0.42"/>
<path d="M92.3,399.5 L98.2,397.8 L104.0,396.1 L109.9,394.3 L115.7,392.4 L121.5,390.4 L127.3,388.4 L133.1,386.2 L138.9,384.0 L144.7,381.7 L150.5,379.4 L156.3,376.9 L162.0,374.4 L167.7,371.8 L173.5,369.1" fill="none" stroke="#fae9c7" stroke-width="0.55" opacity="0.42"/>
<path d="M92.9,400.5 L98.7,398.9 L104.6,397.1 L110.4,395.3 L116.2,393.5 L122.0,391.5 L127.8,389.5 L133.6,387.4 L139.4,385.2 L145.1,382.9 L150.9,380.5 L156.6,378.1 L162.3,375.6 L168.1,373.0 L173.8,370.4" fill="none" stroke="#fae9c8" stroke-width="0.55" opacity="0.42"/>
<path d="M93.4,401.5 L99.3,399.9 L105.1,398.2 L110.9,396.4 L116.7,394.5 L122.5,392.6 L128.3,390.6 L134.0,388.5 L139.8,386.3 L145.5,384.0 L151.3,381.7 L157.0,379.3 L162.7,376.8 L168.4,374.3 L174.1,371.6" fill="none" stroke="#fae4c0" stroke-width="0.55" opacity="0.42"/>
<path d="M94.0,402.5 L99.8,400.9 L105.6,399.2 L111.4,397.4 L117.2,395.6 L123.0,393.6 L128.7,391.6 L134.5,389.6 L140.2,387.4 L145.9,385.2 L151.6,382.9 L157.3,380.5 L163.0,378.0 L168.7,375.5 L174.4,372.9" fill="none" stroke="#faedcd" stroke-width="0.55" opacity="0.42"/>
<path d="M94.5,403.5 L100.3,401.9 L106.1,400.2 L111.9,398.5 L117.7,396.6 L123.4,394.7 L129.2,392.7 L134.9,390.7 L140.6,388.5 L146.3,386.3 L152.0,384.0 L157.7,381.7 L163.4,379.2 L169.0,376.7 L174.6,374.1" fill="none" stroke="#ce1d06" stroke-width="0.55" opacity="0.42"/>
<path d="M95.1,404.5 L100.9,402.9 L106.7,401.2 L112.4,399.5 L118.2,397.7 L123.9,395.8 L129.6,393.8 L135.3,391.8 L141.0,389.7 L146.7,387.5 L152.4,385.2 L158.1,382.9 L163.7,380.4 L169.3,377.9 L174.9,375.4" fill="none" stroke="#cf1e06" stroke-width="0.55" opacity="0.42"/>
<path d="M95.6,405.5 L101.4,403.9 L107.2,402.3 L112.9,400.5 L118.7,398.7 L124.4,396.9 L130.1,394.9 L135.8,392.9 L141.5,390.8 L147.1,388.6 L152.8,386.4 L158.4,384.0 L164.0,381.6 L169.6,379.2 L175.2,376.6" fill="none" stroke="#fae4c1" stroke-width="0.55" opacity="0.42"/>
<path d="M96.2,406.5 L102.0,404.9 L107.7,403.3 L113.4,401.6 L119.2,399.8 L124.9,397.9 L130.6,396.0 L136.2,394.0 L141.9,391.9 L147.5,389.8 L153.2,387.5 L158.8,385.2 L164.4,382.9 L170.0,380.4 L175.5,377.9" fill="none" stroke="#fae5c2" stroke-width="0.55" opacity="0.42"/>
<path d="M96.8,407.5 L102.5,406.0 L108.2,404.3 L114.0,402.6 L119.7,400.9 L125.3,399.0 L131.0,397.1 L136.7,395.1 L142.3,393.0 L147.9,390.9 L153.5,388.7 L159.1,386.4 L164.7,384.1 L170.3,381.6 L175.8,379.1" fill="none" stroke="#cc1b06" stroke-width="0.55" opacity="0.42"/>
<path d="M97.3,408.5 L103.0,407.0 L108.8,405.4 L114.5,403.7 L120.1,401.9 L125.8,400.1 L131.5,398.2 L137.1,396.2 L142.7,394.2 L148.3,392.1 L153.9,389.9 L159.5,387.6 L165.1,385.3 L170.6,382.9 L176.1,380.4" fill="none" stroke="#d82c09" stroke-width="0.55" opacity="0.42"/>
<path d="M97.9,409.5 L103.6,408.0 L109.3,406.4 L115.0,404.7 L120.6,403.0 L126.3,401.2 L131.9,399.3 L137.5,397.3 L143.2,395.3 L148.7,393.2 L154.3,391.0 L159.9,388.8 L165.4,386.5 L170.9,384.1 L176.4,381.6" fill="none" stroke="#fae9c8" stroke-width="0.55" opacity="0.42"/>
<path d="M98.4,410.5 L104.1,409.0 L109.8,407.4 L115.5,405.8 L121.1,404.0 L126.8,402.2 L132.4,400.4 L138.0,398.4 L143.6,396.4 L149.1,394.3 L154.7,392.2 L160.2,390.0 L165.7,387.7 L171.2,385.3 L176.7,382.9" fill="none" stroke="#fae7c5" stroke-width="0.55" opacity="0.42"/>
<path d="M99.0,411.5 L104.7,410.0 L110.3,408.4 L116.0,406.8 L121.6,405.1 L127.2,403.3 L132.8,401.5 L138.4,399.5 L144.0,397.6 L149.5,395.5 L155.1,393.4 L160.6,391.2 L166.1,388.9 L171.6,386.5 L177.0,384.1" fill="none" stroke="#fae9c8" stroke-width="0.55" opacity="0.42"/>
<path d="M99.5,412.5 L105.2,411.0 L110.9,409.5 L116.5,407.8 L122.1,406.1 L127.7,404.4 L133.3,402.6 L138.9,400.7 L144.4,398.7 L149.9,396.6 L155.5,394.5 L160.9,392.3 L166.4,390.1 L171.9,387.8 L177.3,385.4" fill="none" stroke="#d72b08" stroke-width="0.55" opacity="0.42"/>
<path d="M100.1,413.5 L105.8,412.0 L111.4,410.5 L117.0,408.9 L122.6,407.2 L128.2,405.5 L133.8,403.6 L139.3,401.8 L144.8,399.8 L150.3,397.8 L155.8,395.7 L161.3,393.5 L166.8,391.3 L172.2,389.0 L177.6,386.6" fill="none" stroke="#db3109" stroke-width="0.55" opacity="0.42"/>
<path d="M100.7,414.5 L106.3,413.0 L111.9,411.5 L117.5,409.9 L123.1,408.3 L128.7,406.5 L134.2,404.7 L139.8,402.9 L145.3,400.9 L150.7,398.9 L156.2,396.9 L161.7,394.7 L167.1,392.5 L172.5,390.2 L177.9,387.9" fill="none" stroke="#d52808" stroke-width="0.55" opacity="0.42"/>
<path d="M101.2,415.5 L106.8,414.1 L112.4,412.5 L118.0,411.0 L123.6,409.3 L129.2,407.6 L134.7,405.8 L140.2,404.0 L145.7,402.1 L151.1,400.1 L156.6,398.0 L162.0,395.9 L167.4,393.7 L172.8,391.4 L178.2,389.1" fill="none" stroke="#faeac9" stroke-width="0.55" opacity="0.42"/>
<path d="M101.8,416.5 L107.4,415.1 L113.0,413.6 L118.5,412.0 L124.1,410.4 L129.6,408.7 L135.1,406.9 L140.6,405.1 L146.1,403.2 L151.6,401.2 L157.0,399.2 L162.4,397.1 L167.8,394.9 L173.1,392.7 L178.5,390.4" fill="none" stroke="#fae4c0" stroke-width="0.55" opacity="0.42"/>
<path d="M102.3,417.5 L107.9,416.1 L113.5,414.6 L119.1,413.1 L124.6,411.4 L130.1,409.8 L135.6,408.0 L141.1,406.2 L146.5,404.3 L152.0,402.4 L157.4,400.3 L162.7,398.3 L168.1,396.1 L173.5,393.9 L178.8,391.6" fill="none" stroke="#cd1c06" stroke-width="0.55" opacity="0.42"/>
<path d="M102.9,418.5 L108.5,417.1 L114.0,415.6 L119.6,414.1 L125.1,412.5 L130.6,410.8 L136.1,409.1 L141.5,407.3 L146.9,405.4 L152.4,403.5 L157.7,401.5 L163.1,399.5 L168.5,397.3 L173.8,395.1 L179.1,392.9" fill="none" stroke="#fae5c2" stroke-width="0.55" opacity="0.42"/>
<path d="M103.4,419.5 L109.0,418.1 L114.6,416.7 L120.1,415.1 L125.6,413.6 L131.1,411.9 L136.5,410.2 L142.0,408.4 L147.4,406.6 L152.8,404.7 L158.1,402.7 L163.5,400.6 L168.8,398.5 L174.1,396.4 L179.4,394.1" fill="none" stroke="#d82c09" stroke-width="0.55" opacity="0.42"/>
<path d="M104.0,420.5 L109.5,419.1 L115.1,417.7 L120.6,416.2 L126.1,414.6 L131.5,413.0 L137.0,411.3 L142.4,409.5 L147.8,407.7 L153.2,405.8 L158.5,403.8 L163.8,401.8 L169.1,399.7 L174.4,397.6 L179.7,395.4" fill="none" stroke="#faedcd" stroke-width="0.55" opacity="0.42"/>
<path d="M104.6,421.5 L110.1,420.1 L115.6,418.7 L121.1,417.2 L126.6,415.7 L132.0,414.0 L137.4,412.4 L142.8,410.6 L148.2,408.8 L153.6,406.9 L158.9,405.0 L164.2,403.0 L169.5,400.9 L174.7,398.8 L180.0,396.6" fill="none" stroke="#d32507" stroke-width="0.55" opacity="0.42"/>
<path d="M105.1,422.5 L110.6,421.2 L116.1,419.7 L121.6,418.3 L127.1,416.7 L132.5,415.1 L137.9,413.5 L143.3,411.7 L148.6,409.9 L154.0,408.1 L159.3,406.2 L164.6,404.2 L169.8,402.1 L175.0,400.0 L180.3,397.9" fill="none" stroke="#d02007" stroke-width="0.55" opacity="0.42"/>
<path d="M105.7,423.5 L111.2,422.2 L116.7,420.8 L122.1,419.3 L127.6,417.8 L133.0,416.2 L138.4,414.5 L143.7,412.8 L149.1,411.1 L154.4,409.2 L159.7,407.3 L164.9,405.4 L170.2,403.4 L175.4,401.3 L180.6,399.1" fill="none" stroke="#fae3be" stroke-width="0.55" opacity="0.42"/>
<path d="M106.2,424.5 L111.7,423.2 L117.2,421.8 L122.6,420.3 L128.0,418.8 L133.4,417.3 L138.8,415.6 L144.2,413.9 L149.5,412.2 L154.8,410.4 L160.0,408.5 L165.3,406.6 L170.5,404.6 L175.7,402.5 L180.9,400.4" fill="none" stroke="#faeccd" stroke-width="0.55" opacity="0.42"/>
<path d="M87.9,382.5 L92.4,381.1 L96.9,379.6 L101.4,378.1 L105.9,376.5 L110.4,374.9 L114.9,373.2 L119.4,371.5 L123.9,369.8" fill="none" stroke="#fff" stroke-width="0.6" opacity="0.7"/>
<path d="M99.0,383.4 L102.3,382.3 L105.6,381.1 L109.0,380.0 L112.3,378.8 L115.6,377.6 L118.9,376.4 L122.2,375.2 L125.5,373.9" fill="none" stroke="#fff" stroke-width="0.6" opacity="0.7"/>
<path d="M111.9,392.3 L116.6,390.7 L121.2,389.1 L125.8,387.5 L130.5,385.8 L135.1,384.1 L139.7,382.3 L144.3,380.4 L148.9,378.5" fill="none" stroke="#fff" stroke-width="0.6" opacity="0.7"/>
<path d="M100.0,399.2 L103.2,398.2 L106.4,397.3 L109.7,396.3 L112.9,395.2 L116.1,394.2 L119.3,393.1 L122.5,392.0 L125.7,390.9" fill="none" stroke="#fff" stroke-width="0.6" opacity="0.7"/>
<path d="M102.1,398.5 L105.0,397.6 L108.0,396.7 L110.9,395.8 L113.8,394.9 L116.7,393.9 L119.7,392.9 L122.6,391.9 L125.5,390.9" fill="none" stroke="#fff" stroke-width="0.6" opacity="0.7"/>
<path d="M91.1,387.1 L96.8,385.3 L102.5,383.5 L108.2,381.5 L113.9,379.5 L119.6,377.4 L125.3,375.3 L131.0,373.0 L136.7,370.7" fill="none" stroke="#fff" stroke-width="0.6" opacity="0.7"/>
<path d="M105.9,399.4 L109.4,398.4 L112.8,397.3 L116.2,396.3 L119.6,395.1 L123.0,394.0 L126.3,392.8 L129.7,391.6 L133.1,390.4" fill="none" stroke="#fff" stroke-width="0.6" opacity="0.7"/>
<path d="M112.9,389.8 L116.6,388.5 L120.4,387.2 L124.1,385.9 L127.9,384.5 L131.6,383.1 L135.4,381.6 L139.1,380.2 L142.8,378.7" fill="none" stroke="#fff" stroke-width="0.6" opacity="0.7"/>
<path d="M112.3,396.6 L117.2,395.0 L122.0,393.4 L126.9,391.7 L131.7,390.0 L136.6,388.2 L141.4,386.3 L146.3,384.5 L151.1,382.5" fill="none" stroke="#fff" stroke-width="0.6" opacity="0.7"/>
<path d="M104.8,391.2 L109.3,389.8 L113.8,388.3 L118.2,386.8 L122.7,385.2 L127.1,383.6 L131.6,381.9 L136.0,380.2 L140.4,378.4" fill="none" stroke="#fff" stroke-width="0.6" opacity="0.7"/>
<path d="M104.2,399.3 L107.8,398.2 L111.5,397.0 L115.1,395.9 L118.7,394.7 L122.3,393.5 L125.9,392.3 L129.5,391.0 L133.1,389.7" fill="none" stroke="#fff" stroke-width="0.6" opacity="0.7"/>
<path d="M112.3,387.9 L115.1,386.9 L117.9,385.9 L120.8,384.9 L123.6,383.9 L126.4,382.9 L129.2,381.8 L132.0,380.7 L134.9,379.6" fill="none" stroke="#fff" stroke-width="0.6" opacity="0.7"/>
<path d="M98.4,377.9 L101.4,376.9 L104.5,375.8 L107.6,374.7 L110.6,373.6 L113.7,372.5 L116.8,371.3 L119.8,370.2 L122.9,368.9" fill="none" stroke="#fff" stroke-width="0.6" opacity="0.7"/>
<path d="M102.9,400.9 L106.9,399.8 L110.8,398.6 L114.7,397.4 L118.6,396.1 L122.5,394.8 L126.4,393.5 L130.3,392.1 L134.2,390.7" fill="none" stroke="#fff" stroke-width="0.6" opacity="0.7"/>
<circle cx="180.0" cy="389.4" r="1.14" fill="#c81008"/>
<circle cx="175.0" cy="379.4" r="0.57" fill="#8c0606"/>
<circle cx="182.2" cy="393.1" r="0.73" fill="#dc180a"/>
<circle cx="173.0" cy="399.3" r="0.68" fill="#dc180a"/>
<circle cx="181.8" cy="391.1" r="0.68" fill="#c81008"/>
<circle cx="160.7" cy="355.4" r="0.80" fill="#780404"/>
<circle cx="162.7" cy="349.1" r="0.60" fill="#b40c08"/>
<circle cx="165.7" cy="352.0" r="0.80" fill="#6c0202"/>
<circle cx="176.7" cy="383.8" r="1.03" fill="#8c0606"/>
<circle cx="178.4" cy="400.8" r="0.59" fill="#b00c08"/>
<circle cx="180.1" cy="373.0" r="1.13" fill="#a80a08"/>
<circle cx="176.9" cy="396.1" r="0.76" fill="#dc180a"/>
<circle cx="166.9" cy="356.4" r="1.01" fill="#780404"/>
<circle cx="160.4" cy="349.9" r="0.81" fill="#8c0606"/>
<circle cx="162.2" cy="356.9" r="1.01" fill="#9c0808"/>
<circle cx="161.4" cy="357.1" r="1.00" fill="#780404"/>
<circle cx="173.2" cy="400.0" r="0.59" fill="#c81008"/>
<circle cx="173.5" cy="357.3" r="0.98" fill="#b40c08"/>
<circle cx="180.5" cy="381.7" r="0.93" fill="#780404"/>
<circle cx="179.1" cy="378.0" r="0.73" fill="#780404"/>
<circle cx="166.0" cy="348.0" r="0.80" fill="#780404"/>
<circle cx="162.0" cy="347.2" r="0.76" fill="#8c0606"/>
<circle cx="179.5" cy="394.8" r="0.84" fill="#e0200a"/>
<circle cx="165.6" cy="350.3" r="0.84" fill="#780404"/>
<circle cx="182.1" cy="392.8" r="0.87" fill="#c81008"/>
<circle cx="169.1" cy="359.9" r="0.70" fill="#780404"/>
<circle cx="160.8" cy="346.7" r="0.72" fill="#b40c08"/>
<circle cx="178.7" cy="392.4" r="0.65" fill="#e0200a"/>
<circle cx="178.3" cy="397.0" r="0.56" fill="#dc180a"/>
<circle cx="164.6" cy="357.8" r="0.57" fill="#a80a08"/>
<circle cx="174.6" cy="392.3" r="0.83" fill="#c81008"/>
<circle cx="160.7" cy="348.0" r="1.10" fill="#6c0202"/>
<circle cx="179.7" cy="394.9" r="0.84" fill="#e0200a"/>
<circle cx="181.4" cy="382.3" r="0.67" fill="#9c0808"/>
<circle cx="164.8" cy="365.9" r="0.90" fill="#8c0606"/>
<circle cx="168.2" cy="352.8" r="0.89" fill="#a80a08"/>
<circle cx="175.7" cy="398.4" r="1.01" fill="#e0200a"/>
<circle cx="172.7" cy="378.3" r="0.65" fill="#a80a08"/>
<circle cx="177.0" cy="383.0" r="0.98" fill="#9c0808"/>
<circle cx="168.0" cy="372.5" r="0.64" fill="#6c0202"/>
<circle cx="176.7" cy="397.8" r="0.97" fill="#c81008"/>
<circle cx="175.5" cy="391.5" r="0.79" fill="#c81008"/>
<circle cx="176.3" cy="390.8" r="0.70" fill="#c81008"/>
<circle cx="180.3" cy="397.7" r="0.57" fill="#c81008"/>
<circle cx="165.6" cy="348.3" r="1.02" fill="#9c0808"/>
<circle cx="163.2" cy="348.0" r="1.10" fill="#6c0202"/>
<circle cx="173.3" cy="360.6" r="0.84" fill="#8c0606"/>
<circle cx="174.6" cy="400.5" r="0.66" fill="#c81008"/>
<circle cx="182.0" cy="391.9" r="0.61" fill="#b00c08"/>
<circle cx="175.7" cy="390.7" r="0.59" fill="#c81008"/>
<circle cx="162.4" cy="347.2" r="0.85" fill="#8c0606"/>
<circle cx="175.2" cy="381.1" r="0.60" fill="#6c0202"/>
<circle cx="163.4" cy="348.6" r="0.82" fill="#780404"/>
<circle cx="179.6" cy="384.1" r="0.56" fill="#9c0808"/>
<circle cx="175.8" cy="393.2" r="0.68" fill="#e0200a"/>
<circle cx="177.9" cy="386.2" r="0.81" fill="#b40c08"/>
<circle cx="159.2" cy="351.8" r="0.86" fill="#6c0202"/>
<circle cx="183.8" cy="384.5" r="1.06" fill="#9c0808"/>
<circle cx="182.0" cy="394.3" r="0.71" fill="#b00c08"/>
<circle cx="172.6" cy="363.3" r="0.91" fill="#a80a08"/>
<circle cx="174.2" cy="401.8" r="0.60" fill="#c81008"/>
<circle cx="162.2" cy="348.0" r="0.68" fill="#6c0202"/>
<circle cx="164.0" cy="367.7" r="0.89" fill="#6c0202"/>
<circle cx="161.7" cy="357.6" r="1.10" fill="#8c0606"/>
<circle cx="176.6" cy="393.6" r="0.95" fill="#c81008"/>
<circle cx="159.6" cy="353.3" r="0.66" fill="#8c0606"/>
<circle cx="177.6" cy="399.7" r="0.70" fill="#dc180a"/>
<circle cx="171.5" cy="362.8" r="0.78" fill="#780404"/>
<circle cx="169.7" cy="354.8" r="0.94" fill="#b40c08"/>
<circle cx="172.2" cy="372.7" r="0.71" fill="#780404"/>
<circle cx="168.7" cy="359.9" r="0.75" fill="#8c0606"/>
<circle cx="178.0" cy="376.8" r="0.55" fill="#780404"/>
<circle cx="181.8" cy="389.8" r="1.03" fill="#b00c08"/>
<circle cx="181.8" cy="376.1" r="0.81" fill="#780404"/>
<circle cx="177.3" cy="364.9" r="1.13" fill="#8c0606"/>
<circle cx="164.6" cy="354.8" r="0.95" fill="#b40c08"/>
<circle cx="160.4" cy="359.6" r="0.96" fill="#6c0202"/>
<circle cx="180.4" cy="401.1" r="0.68" fill="#dc180a"/>
<circle cx="176.1" cy="388.9" r="0.81" fill="#b00c08"/>
<circle cx="159.4" cy="352.3" r="0.81" fill="#6c0202"/>
<circle cx="178.4" cy="385.0" r="0.72" fill="#b40c08"/>
<circle cx="174.5" cy="368.0" r="0.61" fill="#8c0606"/>
<circle cx="176.9" cy="395.3" r="0.94" fill="#dc180a"/>
<circle cx="173.6" cy="379.9" r="0.60" fill="#780404"/>
<circle cx="179.5" cy="387.5" r="0.77" fill="#c81008"/>
<circle cx="169.8" cy="353.7" r="0.94" fill="#a80a08"/>
<circle cx="169.0" cy="374.8" r="0.66" fill="#a80a08"/>
<circle cx="166.4" cy="351.3" r="0.97" fill="#a80a08"/>
<circle cx="158.1" cy="355.5" r="1.07" fill="#8c0606"/>
<circle cx="176.7" cy="372.0" r="0.57" fill="#9c0808"/>
<circle cx="181.1" cy="393.2" r="1.03" fill="#dc180a"/>
<circle cx="182.2" cy="384.1" r="1.06" fill="#8c0606"/>
<circle cx="167.7" cy="349.7" r="0.95" fill="#b40c08"/>
<circle cx="173.3" cy="363.4" r="0.64" fill="#8c0606"/>
<circle cx="159.3" cy="351.1" r="0.70" fill="#a80a08"/>
<circle cx="163.3" cy="350.6" r="0.59" fill="#8c0606"/>
<circle cx="161.1" cy="346.4" r="1.11" fill="#9c0808"/>
<circle cx="170.2" cy="365.9" r="0.63" fill="#9c0808"/>
<circle cx="181.4" cy="390.8" r="0.65" fill="#b00c08"/>
<circle cx="176.8" cy="383.6" r="0.72" fill="#9c0808"/>
<circle cx="167.4" cy="367.4" r="0.94" fill="#9c0808"/>
<circle cx="175.5" cy="396.5" r="0.69" fill="#b00c08"/>
<circle cx="179.9" cy="396.8" r="0.58" fill="#c81008"/>
<circle cx="177.2" cy="383.7" r="0.72" fill="#9c0808"/>
<circle cx="174.3" cy="372.7" r="0.83" fill="#8c0606"/>
<circle cx="183.6" cy="386.4" r="0.84" fill="#8c0606"/>
<circle cx="173.7" cy="398.6" r="0.81" fill="#e0200a"/>
<circle cx="169.5" cy="352.3" r="0.82" fill="#780404"/>
<circle cx="169.5" cy="359.2" r="0.59" fill="#8c0606"/>
<circle cx="162.4" cy="358.3" r="0.92" fill="#6c0202"/>
<circle cx="172.4" cy="403.0" r="0.62" fill="#e0200a"/>
<circle cx="176.9" cy="399.8" r="0.86" fill="#dc180a"/>
<circle cx="178.0" cy="374.9" r="0.60" fill="#8c0606"/>
<circle cx="161.1" cy="360.8" r="1.02" fill="#a80a08"/>
<circle cx="160.9" cy="353.1" r="0.74" fill="#b40c08"/>
<circle cx="163.1" cy="357.3" r="0.59" fill="#780404"/>
<circle cx="180.2" cy="385.9" r="0.66" fill="#780404"/>
<circle cx="162.3" cy="346.1" r="1.09" fill="#6c0202"/>
<circle cx="173.7" cy="382.5" r="0.87" fill="#8c0606"/>
<circle cx="166.7" cy="359.0" r="0.63" fill="#6c0202"/>
<circle cx="172.9" cy="366.5" r="0.99" fill="#780404"/>
<circle cx="179.5" cy="394.8" r="0.97" fill="#dc180a"/>
<circle cx="163.5" cy="346.4" r="0.60" fill="#b40c08"/>
<circle cx="173.5" cy="358.0" r="1.14" fill="#a80a08"/>
<circle cx="180.3" cy="393.8" r="0.90" fill="#b00c08"/>
<circle cx="178.0" cy="399.5" r="0.56" fill="#dc180a"/>
<circle cx="179.4" cy="400.0" r="0.77" fill="#e0200a"/>
<circle cx="176.1" cy="394.6" r="0.92" fill="#dc180a"/>
<circle cx="160.7" cy="357.9" r="0.74" fill="#9c0808"/>
<circle cx="181.3" cy="390.6" r="0.57" fill="#b00c08"/>
<circle cx="166.5" cy="355.7" r="0.56" fill="#b40c08"/>
<circle cx="176.8" cy="367.0" r="0.64" fill="#8c0606"/>
<circle cx="177.9" cy="392.2" r="0.89" fill="#e0200a"/>
<circle cx="183.2" cy="386.4" r="0.89" fill="#9c0808"/>
<circle cx="169.5" cy="361.2" r="1.15" fill="#9c0808"/>
<circle cx="167.0" cy="353.3" r="0.65" fill="#8c0606"/>
<circle cx="179.6" cy="369.8" r="1.02" fill="#a80a08"/>
<circle cx="166.3" cy="360.1" r="1.07" fill="#9c0808"/>
<circle cx="179.0" cy="400.5" r="0.61" fill="#e0200a"/>
<circle cx="168.1" cy="370.5" r="1.09" fill="#8c0606"/>
<circle cx="161.7" cy="349.6" r="1.07" fill="#9c0808"/>
<circle cx="172.3" cy="369.7" r="1.03" fill="#780404"/>
<circle cx="180.1" cy="383.1" r="0.82" fill="#8c0606"/>
<circle cx="174.3" cy="374.2" r="1.03" fill="#b40c08"/>
<circle cx="173.5" cy="397.2" r="0.81" fill="#dc180a"/>
<circle cx="180.5" cy="379.6" r="0.66" fill="#a80a08"/>
<circle cx="182.3" cy="385.3" r="0.80" fill="#9c0808"/>
<circle cx="179.1" cy="400.5" r="0.97" fill="#c81008"/>
<circle cx="162.3" cy="348.8" r="0.95" fill="#9c0808"/>
<circle cx="183.5" cy="391.5" r="0.75" fill="#e0200a"/>
<circle cx="175.4" cy="389.2" r="0.83" fill="#dc180a"/>
<circle cx="162.3" cy="364.1" r="0.60" fill="#a80a08"/>
<circle cx="176.3" cy="401.3" r="1.13" fill="#e0200a"/>
<circle cx="180.1" cy="397.3" r="0.78" fill="#b00c08"/>
<circle cx="176.8" cy="373.9" r="0.93" fill="#9c0808"/>
<circle cx="181.4" cy="396.0" r="1.08" fill="#dc180a"/>
<circle cx="174.4" cy="380.9" r="0.90" fill="#a80a08"/>
<circle cx="176.4" cy="399.7" r="0.76" fill="#b00c08"/>
<circle cx="181.2" cy="389.1" r="0.97" fill="#e0200a"/>
<circle cx="177.6" cy="384.4" r="0.77" fill="#a80a08"/>
<circle cx="174.4" cy="400.8" r="0.93" fill="#dc180a"/>
<circle cx="175.8" cy="386.0" r="0.77" fill="#9c0808"/>
<circle cx="177.0" cy="394.4" r="1.04" fill="#dc180a"/>
<circle cx="171.1" cy="380.1" r="0.58" fill="#6c0202"/>
<circle cx="176.9" cy="397.1" r="0.99" fill="#e0200a"/>
<circle cx="175.0" cy="361.2" r="1.05" fill="#8c0606"/>
<circle cx="166.6" cy="350.4" r="0.69" fill="#9c0808"/>
<circle cx="164.5" cy="360.7" r="0.56" fill="#9c0808"/>
<circle cx="159.6" cy="352.1" r="0.64" fill="#9c0808"/>
<circle cx="169.9" cy="364.8" r="0.73" fill="#780404"/>
<circle cx="176.3" cy="388.5" r="0.58" fill="#b00c08"/>
<circle cx="167.3" cy="350.3" r="0.59" fill="#8c0606"/>
<circle cx="160.0" cy="348.5" r="1.03" fill="#9c0808"/>
<circle cx="181.3" cy="387.4" r="0.63" fill="#e0200a"/>
<circle cx="168.9" cy="380.3" r="1.00" fill="#8c0606"/>
<circle cx="179.2" cy="393.7" r="0.98" fill="#b00c08"/>
<circle cx="161.8" cy="358.7" r="0.61" fill="#a80a08"/>
<circle cx="181.4" cy="379.2" r="0.82" fill="#b40c08"/>
<circle cx="169.0" cy="372.4" r="0.61" fill="#6c0202"/>
<circle cx="179.6" cy="383.6" r="0.56" fill="#9c0808"/>
<circle cx="179.8" cy="399.2" r="0.69" fill="#e0200a"/>
<circle cx="168.8" cy="360.4" r="0.75" fill="#6c0202"/>
<circle cx="166.0" cy="348.8" r="0.68" fill="#8c0606"/>
<circle cx="166.5" cy="362.2" r="0.82" fill="#b40c08"/>
<circle cx="170.3" cy="356.6" r="1.15" fill="#780404"/>
<circle cx="181.0" cy="397.2" r="0.69" fill="#c81008"/>
<circle cx="176.5" cy="389.9" r="0.79" fill="#b00c08"/>
<circle cx="178.4" cy="375.6" r="0.74" fill="#6c0202"/>
<circle cx="171.6" cy="362.4" r="0.64" fill="#9c0808"/>
<circle cx="173.8" cy="399.1" r="0.57" fill="#e0200a"/>
<circle cx="165.2" cy="363.9" r="0.86" fill="#b40c08"/>
<circle cx="167.6" cy="366.4" r="0.74" fill="#6c0202"/>
<circle cx="162.5" cy="349.8" r="0.78" fill="#6c0202"/>
<circle cx="178.4" cy="373.3" r="0.86" fill="#b40c08"/>
<circle cx="167.9" cy="371.4" r="0.80" fill="#b40c08"/>
<circle cx="179.7" cy="386.0" r="1.11" fill="#b40c08"/>
<circle cx="183.1" cy="381.1" r="0.60" fill="#a80a08"/>
<circle cx="180.7" cy="398.5" r="0.59" fill="#dc180a"/>
<circle cx="184.3" cy="384.8" r="0.59" fill="#b40c08"/>
<circle cx="177.2" cy="388.7" r="0.86" fill="#e0200a"/>
<circle cx="162.3" cy="353.8" r="1.13" fill="#b40c08"/>
<circle cx="165.3" cy="348.4" r="0.63" fill="#b40c08"/>
<circle cx="169.1" cy="351.6" r="1.04" fill="#9c0808"/>
<circle cx="178.2" cy="380.2" r="0.65" fill="#9c0808"/>
<circle cx="180.2" cy="389.5" r="0.77" fill="#b00c08"/>
<circle cx="178.2" cy="396.7" r="0.61" fill="#c81008"/>
<circle cx="173.1" cy="399.7" r="0.83" fill="#e0200a"/>
<circle cx="176.0" cy="400.5" r="1.01" fill="#b00c08"/>
<circle cx="176.8" cy="368.1" r="1.00" fill="#9c0808"/>
<circle cx="177.5" cy="398.1" r="1.03" fill="#b00c08"/>
<circle cx="163.3" cy="347.1" r="0.64" fill="#b40c08"/>
<circle cx="179.9" cy="394.6" r="0.99" fill="#dc180a"/>
<circle cx="176.7" cy="394.3" r="0.58" fill="#e0200a"/>
<circle cx="164.3" cy="345.5" r="0.56" fill="#780404"/>
<circle cx="178.5" cy="389.4" r="1.12" fill="#c81008"/>
<circle cx="164.4" cy="364.3" r="1.12" fill="#780404"/>
<circle cx="167.2" cy="362.8" r="0.78" fill="#a80a08"/>
<circle cx="167.5" cy="351.8" r="0.80" fill="#b40c08"/>
<circle cx="170.5" cy="382.1" r="1.04" fill="#9c0808"/>
<circle cx="183.9" cy="382.5" r="0.65" fill="#b40c08"/>
<circle cx="167.5" cy="354.2" r="0.94" fill="#6c0202"/>
<circle cx="166.2" cy="367.4" r="0.69" fill="#9c0808"/>
<circle cx="178.4" cy="386.5" r="0.76" fill="#8c0606"/>
<circle cx="175.3" cy="394.0" r="1.06" fill="#dc180a"/>
<circle cx="173.6" cy="400.4" r="1.03" fill="#c81008"/>
<circle cx="174.2" cy="394.0" r="0.83" fill="#b00c08"/>
<circle cx="169.9" cy="372.1" r="0.99" fill="#9c0808"/>
<circle cx="178.0" cy="366.3" r="0.75" fill="#8c0606"/>
<circle cx="161.4" cy="347.0" r="0.77" fill="#9c0808"/>
<circle cx="176.8" cy="380.9" r="0.67" fill="#8c0606"/>
<circle cx="175.5" cy="372.1" r="1.12" fill="#a80a08"/>
<circle cx="167.3" cy="363.3" r="0.83" fill="#6c0202"/>
<circle cx="175.6" cy="397.2" r="0.99" fill="#b00c08"/>
<circle cx="164.1" cy="365.8" r="0.90" fill="#6c0202"/>
<circle cx="178.5" cy="393.2" r="0.82" fill="#e0200a"/>
<circle cx="160.6" cy="346.2" r="0.67" fill="#9c0808"/>
<circle cx="173.3" cy="366.3" r="0.97" fill="#b40c08"/>
<circle cx="159.7" cy="352.7" r="0.83" fill="#8c0606"/>
<circle cx="183.8" cy="378.2" r="0.81" fill="#9c0808"/>
<circle cx="164.0" cy="350.8" r="1.02" fill="#6c0202"/>
<circle cx="175.3" cy="366.0" r="0.91" fill="#b40c08"/>
<circle cx="164.9" cy="348.8" r="0.81" fill="#b40c08"/>
<circle cx="168.3" cy="367.4" r="0.67" fill="#a80a08"/>
<circle cx="171.9" cy="362.9" r="1.13" fill="#b40c08"/>
<circle cx="170.6" cy="373.7" r="0.95" fill="#8c0606"/>
<circle cx="159.0" cy="353.7" r="1.09" fill="#6c0202"/>
<circle cx="171.8" cy="354.9" r="0.88" fill="#b40c08"/>
<circle cx="176.2" cy="389.2" r="0.58" fill="#b00c08"/>
<circle cx="163.7" cy="348.7" r="1.06" fill="#6c0202"/>
<circle cx="178.0" cy="386.6" r="0.86" fill="#9c0808"/>
<circle cx="176.7" cy="399.1" r="0.64" fill="#dc180a"/>
<circle cx="180.8" cy="370.7" r="0.91" fill="#9c0808"/>
<circle cx="171.2" cy="360.4" r="0.68" fill="#a80a08"/>
<circle cx="183.9" cy="381.6" r="1.03" fill="#8c0606"/>
<circle cx="180.6" cy="397.4" r="0.87" fill="#dc180a"/>
<circle cx="161.5" cy="358.8" r="0.91" fill="#9c0808"/>
<circle cx="180.3" cy="397.5" r="1.00" fill="#c81008"/>
<circle cx="178.1" cy="386.4" r="1.05" fill="#780404"/>
<circle cx="172.7" cy="369.9" r="1.12" fill="#a80a08"/>
<circle cx="180.0" cy="371.0" r="1.09" fill="#8c0606"/>
<circle cx="177.4" cy="377.7" r="0.83" fill="#780404"/>
<circle cx="168.8" cy="382.2" r="0.79" fill="#780404"/>
<circle cx="175.4" cy="387.0" r="0.65" fill="#dc180a"/>
<circle cx="170.6" cy="369.1" r="0.74" fill="#780404"/>
<circle cx="177.6" cy="382.0" r="0.67" fill="#9c0808"/>
<circle cx="169.5" cy="363.7" r="0.80" fill="#9c0808"/>
<circle cx="176.1" cy="393.8" r="0.83" fill="#e0200a"/>
<circle cx="168.0" cy="361.4" r="0.91" fill="#a80a08"/>
<circle cx="169.1" cy="353.8" r="0.76" fill="#8c0606"/>
<circle cx="178.6" cy="367.5" r="0.76" fill="#8c0606"/>
<circle cx="175.3" cy="369.9" r="1.05" fill="#b40c08"/>
<circle cx="177.3" cy="382.6" r="0.88" fill="#6c0202"/>
<circle cx="161.5" cy="347.9" r="0.76" fill="#a80a08"/>
<circle cx="170.0" cy="381.7" r="1.12" fill="#a80a08"/>
<circle cx="182.2" cy="381.1" r="0.95" fill="#b40c08"/>
<circle cx="175.7" cy="387.8" r="0.93" fill="#dc180a"/>
<circle cx="181.0" cy="384.5" r="0.90" fill="#780404"/>
<circle cx="181.6" cy="384.4" r="0.88" fill="#9c0808"/>
<circle cx="177.4" cy="368.6" r="0.63" fill="#8c0606"/>
<circle cx="173.3" cy="397.5" r="1.03" fill="#b00c08"/>
<circle cx="176.9" cy="370.8" r="1.09" fill="#6c0202"/>
<circle cx="170.2" cy="365.6" r="0.93" fill="#780404"/>
<circle cx="176.9" cy="372.9" r="0.92" fill="#a80a08"/>
<circle cx="170.4" cy="378.0" r="0.77" fill="#8c0606"/>
<circle cx="174.0" cy="367.8" r="0.87" fill="#b40c08"/>
<circle cx="170.9" cy="361.4" r="0.65" fill="#a80a08"/>
<circle cx="184.4" cy="385.2" r="0.68" fill="#9c0808"/>
<circle cx="183.0" cy="387.9" r="0.69" fill="#b00c08"/>
<circle cx="165.7" cy="348.8" r="1.13" fill="#b40c08"/>
<circle cx="181.1" cy="397.6" r="0.88" fill="#dc180a"/>
<circle cx="181.1" cy="398.5" r="0.81" fill="#dc180a"/>
<circle cx="161.5" cy="356.6" r="0.78" fill="#b40c08"/>
<circle cx="160.4" cy="350.9" r="0.91" fill="#9c0808"/>
<circle cx="180.8" cy="401.7" r="0.65" fill="#c81008"/>
<circle cx="164.7" cy="347.7" r="0.93" fill="#b40c08"/>
<circle cx="168.2" cy="352.0" r="0.67" fill="#9c0808"/>
<circle cx="163.9" cy="366.1" r="0.77" fill="#9c0808"/>
<circle cx="177.2" cy="401.8" r="0.80" fill="#e0200a"/>
<circle cx="173.7" cy="371.2" r="1.15" fill="#8c0606"/>
<circle cx="182.9" cy="386.1" r="1.09" fill="#9c0808"/>
<circle cx="178.0" cy="391.1" r="0.82" fill="#c81008"/>
<circle cx="170.3" cy="381.3" r="0.88" fill="#a80a08"/>
<circle cx="182.3" cy="396.4" r="1.08" fill="#e0200a"/>
<circle cx="179.3" cy="380.1" r="0.86" fill="#a80a08"/>
<circle cx="170.8" cy="354.0" r="0.86" fill="#6c0202"/>
<circle cx="171.7" cy="374.1" r="0.96" fill="#9c0808"/>
<circle cx="161.5" cy="345.8" r="0.86" fill="#b40c08"/>
<circle cx="161.5" cy="345.8" r="0.97" fill="#a80a08"/>
<circle cx="167.2" cy="356.4" r="0.80" fill="#b40c08"/>
<circle cx="172.8" cy="400.7" r="0.74" fill="#dc180a"/>
<circle cx="175.2" cy="367.2" r="1.03" fill="#9c0808"/>
<circle cx="176.3" cy="390.8" r="0.74" fill="#b00c08"/>
<circle cx="181.7" cy="389.1" r="0.65" fill="#b00c08"/>
<circle cx="178.4" cy="394.8" r="1.07" fill="#b00c08"/>
<circle cx="176.5" cy="402.4" r="0.64" fill="#c81008"/>
<circle cx="178.9" cy="389.3" r="0.90" fill="#b00c08"/>
<circle cx="166.0" cy="370.1" r="0.90" fill="#8c0606"/>
<circle cx="166.2" cy="353.2" r="0.91" fill="#8c0606"/>
<circle cx="167.1" cy="370.5" r="0.60" fill="#780404"/>
<circle cx="175.7" cy="371.3" r="0.85" fill="#8c0606"/>
<circle cx="182.4" cy="387.0" r="0.72" fill="#b00c08"/>
<circle cx="164.6" cy="366.8" r="1.15" fill="#6c0202"/>
<circle cx="171.8" cy="370.0" r="1.01" fill="#b40c08"/>
<circle cx="167.9" cy="371.7" r="0.96" fill="#a80a08"/>
<circle cx="175.9" cy="385.6" r="1.00" fill="#8c0606"/>
<circle cx="162.5" cy="353.8" r="0.91" fill="#8c0606"/>
<circle cx="176.0" cy="395.2" r="0.76" fill="#dc180a"/>
<circle cx="175.1" cy="394.5" r="1.04" fill="#b00c08"/>
<circle cx="163.6" cy="347.4" r="0.60" fill="#8c0606"/>
<circle cx="175.7" cy="391.0" r="0.83" fill="#dc180a"/>
<circle cx="170.6" cy="372.5" r="0.72" fill="#b40c08"/>
<circle cx="177.5" cy="393.8" r="0.94" fill="#dc180a"/>
<circle cx="178.3" cy="389.1" r="0.75" fill="#b00c08"/>
<circle cx="159.0" cy="354.9" r="1.06" fill="#a80a08"/>
<circle cx="170.2" cy="358.4" r="0.68" fill="#8c0606"/>
<circle cx="176.6" cy="397.6" r="0.93" fill="#c81008"/>
<circle cx="169.8" cy="376.1" r="0.68" fill="#a80a08"/>
<circle cx="173.2" cy="369.4" r="0.96" fill="#780404"/>
<circle cx="182.1" cy="388.3" r="0.84" fill="#e0200a"/>
<circle cx="180.3" cy="376.0" r="0.65" fill="#780404"/>
<circle cx="179.6" cy="384.8" r="1.08" fill="#a80a08"/>
<circle cx="173.9" cy="398.1" r="0.85" fill="#e0200a"/>
<circle cx="170.1" cy="360.9" r="0.85" fill="#6c0202"/>
<circle cx="178.2" cy="401.5" r="1.08" fill="#b00c08"/>
<circle cx="163.9" cy="366.6" r="0.85" fill="#9c0808"/>
<circle cx="171.2" cy="361.8" r="0.88" fill="#6c0202"/>
<circle cx="177.1" cy="363.5" r="0.82" fill="#9c0808"/>
<circle cx="177.3" cy="400.5" r="0.89" fill="#b00c08"/>
<circle cx="175.3" cy="400.0" r="0.84" fill="#b00c08"/>
<circle cx="180.0" cy="398.9" r="0.77" fill="#dc180a"/>
<circle cx="179.9" cy="380.3" r="0.70" fill="#b40c08"/>
<circle cx="180.6" cy="401.4" r="0.68" fill="#c81008"/>
<circle cx="163.8" cy="349.6" r="0.62" fill="#b40c08"/>
<circle cx="177.0" cy="393.6" r="1.11" fill="#b00c08"/>
<circle cx="174.8" cy="402.5" r="0.71" fill="#c81008"/>
<circle cx="180.4" cy="401.6" r="0.74" fill="#b00c08"/>
<circle cx="184.0" cy="378.2" r="0.76" fill="#a80a08"/>
<circle cx="179.7" cy="386.3" r="0.56" fill="#9c0808"/>
<circle cx="170.7" cy="357.2" r="0.61" fill="#9c0808"/>
<circle cx="179.3" cy="399.1" r="0.95" fill="#b00c08"/>
<circle cx="163.9" cy="367.6" r="0.59" fill="#8c0606"/>
<circle cx="174.3" cy="393.2" r="1.05" fill="#c81008"/>
<circle cx="177.7" cy="396.8" r="0.77" fill="#e0200a"/>
<circle cx="176.1" cy="383.6" r="1.15" fill="#8c0606"/>
<circle cx="174.3" cy="381.3" r="0.77" fill="#9c0808"/>
<circle cx="177.0" cy="366.5" r="0.70" fill="#780404"/>
<circle cx="169.2" cy="353.6" r="0.62" fill="#9c0808"/>
<circle cx="182.5" cy="391.3" r="0.85" fill="#b00c08"/>
<circle cx="175.3" cy="378.5" r="0.83" fill="#a80a08"/>
<circle cx="177.6" cy="388.6" r="0.80" fill="#dc180a"/>
<circle cx="162.7" cy="359.1" r="1.09" fill="#9c0808"/>
<circle cx="166.6" cy="366.1" r="0.90" fill="#a80a08"/>
<circle cx="173.4" cy="370.2" r="0.68" fill="#8c0606"/>
<circle cx="177.2" cy="384.0" r="1.14" fill="#a80a08"/>
<circle cx="174.3" cy="359.2" r="0.67" fill="#9c0808"/>
<circle cx="163.3" cy="360.4" r="0.75" fill="#8c0606"/>
<circle cx="161.7" cy="350.0" r="0.86" fill="#8c0606"/>
<circle cx="179.5" cy="399.4" r="0.65" fill="#dc180a"/>
<circle cx="166.2" cy="370.3" r="0.97" fill="#8c0606"/>
<circle cx="178.4" cy="370.2" r="0.85" fill="#8c0606"/>
<circle cx="174.3" cy="402.4" r="1.04" fill="#dc180a"/>
<circle cx="181.1" cy="390.9" r="0.75" fill="#c81008"/>
<circle cx="161.8" cy="351.4" r="0.66" fill="#b40c08"/>
<circle cx="176.7" cy="368.8" r="0.81" fill="#9c0808"/>
<circle cx="183.9" cy="383.5" r="0.55" fill="#a80a08"/>
<circle cx="167.9" cy="358.3" r="0.79" fill="#9c0808"/>
<circle cx="179.0" cy="376.3" r="0.75" fill="#780404"/>
<circle cx="165.2" cy="360.8" r="0.57" fill="#9c0808"/>
<circle cx="167.2" cy="369.5" r="0.64" fill="#8c0606"/>
<circle cx="163.5" cy="349.6" r="1.10" fill="#780404"/>
<circle cx="164.3" cy="351.2" r="0.70" fill="#a80a08"/>
<circle cx="159.9" cy="351.2" r="1.04" fill="#6c0202"/>
<circle cx="161.8" cy="362.3" r="0.63" fill="#a80a08"/>
<circle cx="164.4" cy="349.4" r="0.96" fill="#b40c08"/>
<circle cx="179.3" cy="385.6" r="0.58" fill="#b40c08"/>
<circle cx="177.2" cy="386.6" r="1.03" fill="#8c0606"/>
<circle cx="171.4" cy="359.3" r="0.71" fill="#b40c08"/>
<circle cx="160.4" cy="355.3" r="0.98" fill="#a80a08"/>
<circle cx="160.6" cy="361.4" r="0.66" fill="#a80a08"/>
<circle cx="164.2" cy="353.1" r="1.07" fill="#a80a08"/>
<circle cx="182.2" cy="382.1" r="0.98" fill="#780404"/>
<circle cx="165.9" cy="352.1" r="0.68" fill="#b40c08"/>
<circle cx="159.9" cy="354.3" r="1.07" fill="#8c0606"/>
<circle cx="178.0" cy="402.8" r="1.13" fill="#e0200a"/>
<circle cx="169.6" cy="382.5" r="0.87" fill="#6c0202"/>
<circle cx="174.2" cy="363.4" r="0.75" fill="#b40c08"/>
<circle cx="171.3" cy="367.0" r="1.14" fill="#6c0202"/>
<circle cx="174.2" cy="381.1" r="0.85" fill="#9c0808"/>
<circle cx="170.1" cy="369.6" r="0.58" fill="#9c0808"/>
<circle cx="174.9" cy="362.4" r="0.97" fill="#b40c08"/>
<circle cx="179.1" cy="390.4" r="0.97" fill="#dc180a"/>
<circle cx="177.7" cy="395.6" r="0.73" fill="#b00c08"/>
<circle cx="182.9" cy="393.2" r="0.84" fill="#b00c08"/>
<circle cx="182.4" cy="387.5" r="1.07" fill="#e0200a"/>
<circle cx="180.4" cy="386.3" r="1.00" fill="#8c0606"/>
<circle cx="182.4" cy="387.7" r="1.14" fill="#dc180a"/>
<circle cx="169.3" cy="370.3" r="0.93" fill="#780404"/>
<circle cx="182.1" cy="385.4" r="0.76" fill="#8c0606"/>
<circle cx="173.5" cy="369.1" r="0.86" fill="#6c0202"/>
<circle cx="176.0" cy="384.0" r="0.75" fill="#9c0808"/>
<circle cx="170.6" cy="372.7" r="0.99" fill="#b40c08"/>
<circle cx="176.6" cy="373.5" r="1.09" fill="#780404"/>
<circle cx="166.3" cy="348.0" r="1.06" fill="#780404"/>
<circle cx="178.7" cy="395.4" r="0.64" fill="#e0200a"/>
<circle cx="163.1" cy="354.4" r="0.64" fill="#b40c08"/>
<circle cx="161.6" cy="361.7" r="0.75" fill="#9c0808"/>
<circle cx="174.8" cy="394.5" r="0.80" fill="#e0200a"/>
<circle cx="161.1" cy="354.3" r="0.62" fill="#6c0202"/>
<circle cx="178.2" cy="397.4" r="1.15" fill="#e0200a"/>
<circle cx="172.1" cy="402.3" r="0.78" fill="#e0200a"/>
<circle cx="179.4" cy="367.3" r="0.62" fill="#780404"/>
<circle cx="175.7" cy="364.0" r="0.92" fill="#8c0606"/>
<circle cx="172.7" cy="356.3" r="0.89" fill="#b40c08"/>
<circle cx="173.1" cy="358.8" r="1.06" fill="#b40c08"/>
<circle cx="179.9" cy="397.8" r="0.62" fill="#b00c08"/>
<circle cx="176.0" cy="378.4" r="0.60" fill="#6c0202"/>
<circle cx="178.0" cy="372.0" r="0.74" fill="#a80a08"/>
<circle cx="174.9" cy="369.4" r="0.62" fill="#9c0808"/>
<circle cx="178.8" cy="402.2" r="0.70" fill="#e0200a"/>
<circle cx="178.5" cy="379.3" r="0.86" fill="#8c0606"/>
<circle cx="179.0" cy="377.1" r="1.02" fill="#a80a08"/>
<circle cx="166.5" cy="373.1" r="0.95" fill="#8c0606"/>
<circle cx="172.3" cy="372.1" r="1.02" fill="#9c0808"/>
<circle cx="178.0" cy="393.9" r="0.65" fill="#e0200a"/>
<circle cx="172.6" cy="400.5" r="1.11" fill="#e0200a"/>
<circle cx="179.7" cy="396.0" r="0.97" fill="#dc180a"/>
<circle cx="160.4" cy="349.4" r="0.77" fill="#9c0808"/>
<circle cx="173.0" cy="370.4" r="1.10" fill="#780404"/>
<circle cx="172.7" cy="365.5" r="0.65" fill="#b40c08"/>
<circle cx="175.1" cy="374.9" r="0.72" fill="#780404"/>
<circle cx="180.1" cy="376.6" r="0.76" fill="#a80a08"/>
<circle cx="168.4" cy="364.8" r="0.71" fill="#6c0202"/>
<circle cx="178.5" cy="389.3" r="1.06" fill="#b00c08"/>
<circle cx="163.4" cy="366.5" r="0.75" fill="#b40c08"/>
<circle cx="164.5" cy="364.4" r="0.65" fill="#780404"/>
<circle cx="160.8" cy="346.8" r="0.79" fill="#9c0808"/>
<circle cx="162.8" cy="354.8" r="0.87" fill="#b40c08"/>
<circle cx="174.9" cy="366.2" r="1.02" fill="#9c0808"/>
<circle cx="168.5" cy="371.8" r="1.04" fill="#780404"/>
<circle cx="164.8" cy="348.8" r="0.96" fill="#780404"/>
<circle cx="180.2" cy="384.4" r="1.03" fill="#a80a08"/>
<circle cx="182.6" cy="376.6" r="0.97" fill="#9c0808"/>
<circle cx="165.3" cy="360.4" r="0.97" fill="#9c0808"/>
<circle cx="178.0" cy="389.8" r="0.72" fill="#b00c08"/>
<circle cx="172.1" cy="376.2" r="0.92" fill="#b40c08"/>
<circle cx="167.1" cy="353.2" r="0.67" fill="#b40c08"/>
<circle cx="174.1" cy="401.5" r="0.95" fill="#dc180a"/>
<circle cx="181.3" cy="388.2" r="1.00" fill="#dc180a"/>
<circle cx="172.0" cy="366.4" r="1.04" fill="#9c0808"/>
<circle cx="183.8" cy="383.0" r="0.92" fill="#6c0202"/>
<circle cx="173.6" cy="379.5" r="0.99" fill="#6c0202"/>
<circle cx="162.4" cy="360.9" r="1.09" fill="#9c0808"/>
<circle cx="181.3" cy="400.1" r="0.81" fill="#dc180a"/>
<circle cx="176.9" cy="393.2" r="1.07" fill="#dc180a"/>
<circle cx="159.2" cy="357.2" r="0.91" fill="#780404"/>
<circle cx="166.3" cy="353.1" r="0.56" fill="#8c0606"/>
<circle cx="183.9" cy="386.9" r="0.73" fill="#b40c08"/>
<circle cx="161.6" cy="361.5" r="1.07" fill="#8c0606"/>
<circle cx="177.0" cy="402.4" r="0.88" fill="#b00c08"/>
<circle cx="165.4" cy="345.8" r="0.69" fill="#780404"/>
<circle cx="159.9" cy="350.8" r="0.84" fill="#6c0202"/>
<circle cx="170.6" cy="380.0" r="0.97" fill="#a80a08"/>
<circle cx="169.4" cy="372.2" r="1.05" fill="#a80a08"/>
<circle cx="179.6" cy="399.5" r="1.00" fill="#b00c08"/>
<circle cx="180.9" cy="393.3" r="0.79" fill="#b00c08"/>
<circle cx="170.9" cy="358.4" r="0.83" fill="#780404"/>
<circle cx="170.9" cy="365.5" r="1.00" fill="#6c0202"/>
<circle cx="176.3" cy="388.3" r="0.79" fill="#b00c08"/>
<circle cx="165.1" cy="354.7" r="1.11" fill="#b40c08"/>
<circle cx="161.4" cy="354.5" r="1.10" fill="#a80a08"/>
<circle cx="174.0" cy="372.6" r="0.94" fill="#9c0808"/>
<circle cx="166.1" cy="359.8" r="0.71" fill="#8c0606"/>
<circle cx="176.7" cy="365.5" r="0.78" fill="#780404"/>
<circle cx="180.9" cy="378.8" r="1.03" fill="#a80a08"/>
<circle cx="179.8" cy="395.7" r="0.88" fill="#dc180a"/>
<circle cx="174.7" cy="380.1" r="0.97" fill="#9c0808"/>
<circle cx="162.7" cy="355.3" r="1.02" fill="#8c0606"/>
<circle cx="177.3" cy="384.5" r="1.05" fill="#a80a08"/>
<circle cx="180.5" cy="386.5" r="0.64" fill="#8c0606"/>
<circle cx="159.4" cy="355.4" r="0.68" fill="#780404"/>
<circle cx="179.1" cy="395.3" r="0.61" fill="#dc180a"/>
<circle cx="176.8" cy="387.0" r="0.84" fill="#dc180a"/>
<circle cx="176.6" cy="376.4" r="0.84" fill="#6c0202"/>
<circle cx="159.3" cy="351.2" r="0.82" fill="#9c0808"/>
<circle cx="176.5" cy="396.6" r="0.87" fill="#c81008"/>
<circle cx="161.6" cy="358.0" r="0.93" fill="#780404"/>
<circle cx="169.6" cy="379.7" r="0.94" fill="#9c0808"/>
<circle cx="171.7" cy="366.9" r="1.14" fill="#8c0606"/>
<circle cx="167.6" cy="354.6" r="0.88" fill="#780404"/>
<circle cx="183.4" cy="387.7" r="0.67" fill="#c81008"/>
<circle cx="169.6" cy="357.3" r="0.71" fill="#8c0606"/>
<circle cx="172.8" cy="356.0" r="0.68" fill="#a80a08"/>
<circle cx="161.0" cy="359.5" r="0.62" fill="#a80a08"/>
<circle cx="174.2" cy="358.3" r="1.00" fill="#780404"/>
<circle cx="173.8" cy="371.5" r="1.15" fill="#8c0606"/>
<circle cx="173.2" cy="357.5" r="0.80" fill="#a80a08"/>
<circle cx="178.2" cy="399.0" r="0.80" fill="#b00c08"/>
<circle cx="171.8" cy="381.1" r="0.81" fill="#b40c08"/>
<circle cx="168.9" cy="370.6" r="0.71" fill="#a80a08"/>
<circle cx="175.0" cy="393.1" r="0.68" fill="#e0200a"/>
<circle cx="165.8" cy="348.3" r="1.09" fill="#6c0202"/>
<circle cx="176.3" cy="402.7" r="0.60" fill="#c81008"/>
<circle cx="165.2" cy="366.7" r="0.56" fill="#8c0606"/>
<circle cx="174.6" cy="381.6" r="0.83" fill="#9c0808"/>
<circle cx="167.1" cy="353.0" r="0.93" fill="#b40c08"/>
<circle cx="180.4" cy="399.2" r="0.94" fill="#e0200a"/>
<circle cx="184.5" cy="383.3" r="0.98" fill="#a80a08"/>
<circle cx="179.5" cy="375.4" r="0.63" fill="#8c0606"/>
<circle cx="182.1" cy="384.0" r="0.73" fill="#780404"/>
<circle cx="170.8" cy="376.9" r="0.61" fill="#8c0606"/>
<circle cx="168.8" cy="382.4" r="0.57" fill="#780404"/>
<circle cx="181.0" cy="387.1" r="0.92" fill="#dc180a"/>
<circle cx="172.9" cy="382.1" r="0.62" fill="#8c0606"/>
<circle cx="174.1" cy="372.2" r="0.78" fill="#a80a08"/>
<circle cx="177.5" cy="370.5" r="0.74" fill="#9c0808"/>
<circle cx="171.4" cy="382.7" r="0.86" fill="#a80a08"/>
<circle cx="170.6" cy="377.5" r="0.58" fill="#6c0202"/>
<circle cx="167.6" cy="371.3" r="0.64" fill="#9c0808"/>
<circle cx="170.2" cy="367.9" r="0.64" fill="#780404"/>
<circle cx="176.4" cy="375.4" r="1.09" fill="#780404"/>
<circle cx="165.9" cy="359.2" r="0.60" fill="#a80a08"/>
<circle cx="174.1" cy="380.8" r="1.10" fill="#780404"/>
<circle cx="169.1" cy="370.8" r="1.10" fill="#8c0606"/>
<circle cx="166.6" cy="351.8" r="1.04" fill="#b40c08"/>
<circle cx="180.1" cy="392.1" r="0.60" fill="#e0200a"/>
<circle cx="163.3" cy="347.1" r="0.60" fill="#b40c08"/>
<circle cx="167.2" cy="350.7" r="0.59" fill="#6c0202"/>
<circle cx="161.2" cy="362.2" r="0.70" fill="#a80a08"/>
<circle cx="161.5" cy="359.4" r="0.89" fill="#8c0606"/>
<circle cx="176.2" cy="401.6" r="0.73" fill="#e0200a"/>
<circle cx="167.0" cy="348.9" r="0.59" fill="#a80a08"/>
<circle cx="179.3" cy="385.4" r="1.07" fill="#b40c08"/>
<circle cx="182.0" cy="384.5" r="0.81" fill="#6c0202"/>
<circle cx="167.1" cy="361.7" r="0.88" fill="#780404"/>
<circle cx="176.6" cy="382.2" r="1.03" fill="#8c0606"/>
<circle cx="179.0" cy="374.0" r="0.74" fill="#8c0606"/>
<circle cx="180.5" cy="393.4" r="0.77" fill="#b00c08"/>
<circle cx="166.3" cy="369.2" r="0.91" fill="#780404"/>
<circle cx="180.8" cy="379.9" r="1.12" fill="#a80a08"/>
<circle cx="162.5" cy="360.3" r="1.03" fill="#6c0202"/>
<circle cx="164.1" cy="353.3" r="1.04" fill="#9c0808"/>
<circle cx="182.7" cy="377.6" r="0.66" fill="#b40c08"/>
<circle cx="165.8" cy="360.4" r="0.79" fill="#9c0808"/>
<circle cx="163.0" cy="355.5" r="0.95" fill="#780404"/>
<circle cx="164.6" cy="351.5" r="0.87" fill="#b40c08"/>
<circle cx="166.4" cy="369.6" r="0.78" fill="#a80a08"/>
<circle cx="174.9" cy="369.9" r="0.89" fill="#b40c08"/>
<circle cx="178.6" cy="401.6" r="0.86" fill="#e0200a"/>
<circle cx="158.4" cy="356.3" r="1.02" fill="#6c0202"/>
<circle cx="176.7" cy="402.6" r="0.69" fill="#c81008"/>
<circle cx="177.8" cy="388.2" r="1.05" fill="#dc180a"/>
<circle cx="180.1" cy="396.1" r="0.84" fill="#e0200a"/>
<circle cx="171.6" cy="363.5" r="1.06" fill="#9c0808"/>
<circle cx="183.1" cy="384.0" r="1.09" fill="#9c0808"/>
<circle cx="175.8" cy="376.0" r="0.86" fill="#8c0606"/>
<circle cx="164.2" cy="353.8" r="1.13" fill="#780404"/>
<circle cx="175.4" cy="362.1" r="0.79" fill="#9c0808"/>
<circle cx="163.5" cy="346.2" r="0.83" fill="#a80a08"/>
<circle cx="171.2" cy="370.8" r="0.61" fill="#8c0606"/>
<circle cx="177.9" cy="399.9" r="0.56" fill="#dc180a"/>
<circle cx="162.1" cy="351.2" r="0.95" fill="#6c0202"/>
<circle cx="164.7" cy="350.7" r="1.13" fill="#9c0808"/>
<circle cx="163.6" cy="366.9" r="1.01" fill="#8c0606"/>
<circle cx="174.5" cy="379.5" r="1.04" fill="#6c0202"/>
<circle cx="179.6" cy="385.5" r="0.64" fill="#a80a08"/>
<circle cx="179.4" cy="376.5" r="0.65" fill="#a80a08"/>
<circle cx="159.4" cy="350.7" r="0.93" fill="#b40c08"/>
<circle cx="170.0" cy="380.0" r="0.89" fill="#780404"/>
<circle cx="163.1" cy="364.3" r="0.85" fill="#780404"/>
<circle cx="165.3" cy="347.7" r="1.11" fill="#b40c08"/>
<circle cx="174.1" cy="382.6" r="1.02" fill="#a80a08"/>
<circle cx="174.1" cy="371.1" r="0.74" fill="#6c0202"/>
<circle cx="163.1" cy="351.8" r="0.70" fill="#8c0606"/>
<circle cx="176.6" cy="384.8" r="0.68" fill="#9c0808"/>
<circle cx="163.1" cy="357.5" r="1.12" fill="#9c0808"/>
<circle cx="176.8" cy="402.8" r="0.93" fill="#c81008"/>
<circle cx="158.3" cy="355.5" r="0.82" fill="#9c0808"/>
<circle cx="168.0" cy="349.4" r="1.00" fill="#a80a08"/>
<circle cx="181.5" cy="374.5" r="1.06" fill="#9c0808"/>
<circle cx="178.5" cy="390.3" r="0.75" fill="#dc180a"/>
<circle cx="178.1" cy="381.7" r="0.94" fill="#8c0606"/>
<circle cx="177.7" cy="374.6" r="1.02" fill="#6c0202"/>
<circle cx="177.5" cy="370.3" r="0.57" fill="#8c0606"/>
<circle cx="175.3" cy="393.9" r="0.97" fill="#e0200a"/>
<circle cx="173.7" cy="401.1" r="0.90" fill="#e0200a"/>
<circle cx="163.8" cy="346.2" r="0.80" fill="#780404"/>
<circle cx="176.9" cy="400.6" r="0.61" fill="#e0200a"/>
<circle cx="162.6" cy="351.1" r="0.99" fill="#a80a08"/>
<circle cx="178.2" cy="391.5" r="0.99" fill="#c81008"/>
<circle cx="169.8" cy="372.5" r="0.58" fill="#780404"/>
<circle cx="176.5" cy="396.0" r="0.95" fill="#b00c08"/>
<circle cx="163.2" cy="345.7" r="0.76" fill="#9c0808"/>
<circle cx="180.4" cy="372.4" r="1.01" fill="#b40c08"/>
<circle cx="179.4" cy="380.9" r="0.69" fill="#6c0202"/>
<circle cx="179.6" cy="393.0" r="0.81" fill="#c81008"/>
<circle cx="176.7" cy="396.3" r="0.92" fill="#dc180a"/>
<circle cx="172.1" cy="373.0" r="0.58" fill="#6c0202"/>
<circle cx="166.0" cy="362.1" r="0.74" fill="#9c0808"/>
<circle cx="182.0" cy="395.9" r="0.57" fill="#dc180a"/>
<circle cx="171.9" cy="382.8" r="0.99" fill="#9c0808"/>
<circle cx="176.3" cy="393.6" r="0.92" fill="#b00c08"/>
<circle cx="160.9" cy="353.7" r="0.70" fill="#8c0606"/>
<circle cx="177.0" cy="375.2" r="0.64" fill="#780404"/>
<circle cx="168.0" cy="371.3" r="1.11" fill="#780404"/>
<circle cx="164.6" cy="346.6" r="0.58" fill="#a80a08"/>
<circle cx="160.6" cy="352.5" r="0.79" fill="#8c0606"/>
<circle cx="169.0" cy="377.0" r="0.75" fill="#8c0606"/>
<circle cx="165.0" cy="349.6" r="0.88" fill="#780404"/>
<circle cx="160.8" cy="347.8" r="0.85" fill="#a80a08"/>
<circle cx="160.7" cy="353.7" r="0.68" fill="#8c0606"/>
<circle cx="174.3" cy="399.5" r="1.09" fill="#dc180a"/>
<circle cx="160.4" cy="348.6" r="0.61" fill="#780404"/>
<circle cx="177.0" cy="389.6" r="1.14" fill="#b00c08"/>
<circle cx="168.5" cy="352.9" r="0.96" fill="#b40c08"/>
<circle cx="177.0" cy="384.9" r="0.82" fill="#6c0202"/>
<circle cx="178.0" cy="391.8" r="0.63" fill="#dc180a"/>
<circle cx="174.7" cy="394.9" r="0.97" fill="#dc180a"/>
<circle cx="161.0" cy="346.7" r="1.02" fill="#9c0808"/>
<circle cx="181.2" cy="389.6" r="0.99" fill="#c81008"/>
<circle cx="175.8" cy="398.4" r="0.82" fill="#dc180a"/>
<circle cx="165.2" cy="350.8" r="0.65" fill="#9c0808"/>
<circle cx="161.7" cy="349.7" r="1.10" fill="#8c0606"/>
<circle cx="178.2" cy="368.6" r="0.95" fill="#a80a08"/>
<circle cx="178.9" cy="395.7" r="0.62" fill="#e0200a"/>
<circle cx="176.9" cy="368.3" r="1.02" fill="#6c0202"/>
<circle cx="177.4" cy="386.6" r="0.77" fill="#6c0202"/>
<circle cx="175.0" cy="394.4" r="0.73" fill="#c81008"/>
<circle cx="164.6" cy="361.7" r="0.81" fill="#9c0808"/>
<circle cx="178.4" cy="371.0" r="1.03" fill="#b40c08"/>
<circle cx="167.2" cy="363.0" r="1.11" fill="#8c0606"/>
<circle cx="172.5" cy="371.4" r="0.70" fill="#a80a08"/>
<circle cx="174.0" cy="360.4" r="0.97" fill="#6c0202"/>
<circle cx="176.6" cy="382.4" r="1.14" fill="#9c0808"/>
<circle cx="176.2" cy="373.2" r="0.78" fill="#780404"/>
<circle cx="163.0" cy="352.6" r="0.60" fill="#b40c08"/>
<circle cx="177.5" cy="368.1" r="0.86" fill="#a80a08"/>
<circle cx="169.5" cy="362.0" r="0.72" fill="#a80a08"/>
<circle cx="175.6" cy="395.6" r="0.92" fill="#e0200a"/>
<circle cx="182.0" cy="381.2" r="0.93" fill="#780404"/>
<circle cx="178.8" cy="395.7" r="0.71" fill="#c81008"/>
<circle cx="175.6" cy="376.3" r="0.81" fill="#9c0808"/>
<circle cx="160.2" cy="346.7" r="0.67" fill="#b40c08"/>
<circle cx="177.0" cy="391.5" r="0.93" fill="#c81008"/>
<circle cx="178.1" cy="402.6" r="0.80" fill="#dc180a"/>
<circle cx="170.1" cy="378.6" r="0.93" fill="#a80a08"/>
<circle cx="177.5" cy="366.5" r="0.74" fill="#8c0606"/>
<circle cx="161.7" cy="352.1" r="0.95" fill="#a80a08"/>
<circle cx="174.1" cy="378.3" r="1.11" fill="#9c0808"/>
<circle cx="175.9" cy="379.5" r="0.75" fill="#a80a08"/>
<circle cx="163.8" cy="367.7" r="0.82" fill="#b40c08"/>
<circle cx="176.0" cy="401.8" r="0.95" fill="#dc180a"/>
<circle cx="182.9" cy="392.3" r="1.02" fill="#b00c08"/>
<circle cx="180.2" cy="396.6" r="0.81" fill="#b00c08"/>
<circle cx="175.1" cy="376.4" r="0.99" fill="#8c0606"/>
<circle cx="169.4" cy="355.4" r="0.78" fill="#8c0606"/>
<circle cx="174.5" cy="398.3" r="0.77" fill="#b00c08"/>
<circle cx="167.1" cy="353.6" r="0.68" fill="#a80a08"/>
<circle cx="163.7" cy="348.0" r="1.07" fill="#8c0606"/>
<circle cx="168.7" cy="368.7" r="0.82" fill="#780404"/>
<circle cx="171.7" cy="358.9" r="0.65" fill="#9c0808"/>
<circle cx="175.5" cy="389.3" r="1.01" fill="#b00c08"/>
<circle cx="162.1" cy="353.2" r="1.01" fill="#a80a08"/>
<circle cx="165.5" cy="349.2" r="0.95" fill="#780404"/>
<circle cx="173.3" cy="376.1" r="0.88" fill="#8c0606"/>
<circle cx="169.8" cy="367.6" r="0.56" fill="#780404"/>
<circle cx="167.5" cy="371.1" r="0.98" fill="#b40c08"/>
<circle cx="173.4" cy="362.8" r="0.68" fill="#b40c08"/>
<circle cx="163.6" cy="357.5" r="1.01" fill="#6c0202"/>
<circle cx="171.2" cy="378.4" r="0.60" fill="#a80a08"/>
<circle cx="177.5" cy="395.3" r="0.90" fill="#c81008"/>
<circle cx="178.9" cy="385.3" r="0.74" fill="#b40c08"/>
<circle cx="161.2" cy="357.5" r="0.91" fill="#6c0202"/>
<circle cx="158.1" cy="357.5" r="1.01" fill="#a80a08"/>
<circle cx="166.6" cy="358.0" r="0.97" fill="#8c0606"/>
<circle cx="165.8" cy="362.3" r="0.93" fill="#9c0808"/>
<circle cx="169.7" cy="371.0" r="1.06" fill="#b40c08"/>
<circle cx="168.7" cy="361.9" r="0.99" fill="#9c0808"/>
<circle cx="168.4" cy="356.9" r="0.56" fill="#780404"/>
<circle cx="162.3" cy="362.6" r="0.90" fill="#9c0808"/>
<circle cx="161.8" cy="355.4" r="0.77" fill="#8c0606"/>
<circle cx="169.1" cy="379.4" r="0.70" fill="#780404"/>
<circle cx="178.8" cy="375.1" r="1.11" fill="#a80a08"/>
<circle cx="164.5" cy="361.8" r="1.10" fill="#b40c08"/>
<circle cx="168.0" cy="365.3" r="0.56" fill="#b40c08"/>
<circle cx="172.9" cy="364.5" r="1.03" fill="#9c0808"/>
<circle cx="170.3" cy="360.6" r="1.05" fill="#b40c08"/>
<circle cx="177.1" cy="363.3" r="0.63" fill="#780404"/>
<circle cx="169.0" cy="366.5" r="0.62" fill="#780404"/>
<circle cx="169.0" cy="355.8" r="1.10" fill="#6c0202"/>
<circle cx="176.9" cy="374.2" r="1.01" fill="#6c0202"/>
<circle cx="181.3" cy="387.1" r="0.89" fill="#b00c08"/>
<circle cx="176.9" cy="372.8" r="0.70" fill="#9c0808"/>
<circle cx="164.6" cy="360.3" r="1.11" fill="#9c0808"/>
<circle cx="182.1" cy="396.5" r="0.63" fill="#dc180a"/>
<circle cx="180.2" cy="384.6" r="0.77" fill="#a80a08"/>
<circle cx="162.4" cy="348.8" r="0.81" fill="#9c0808"/>
<circle cx="179.4" cy="402.0" r="0.57" fill="#b00c08"/>
<circle cx="174.3" cy="361.3" r="0.86" fill="#9c0808"/>
<circle cx="173.8" cy="396.6" r="0.86" fill="#c81008"/>
<circle cx="166.5" cy="354.0" r="0.68" fill="#780404"/>
<circle cx="179.8" cy="389.5" r="0.75" fill="#e0200a"/>
<circle cx="164.8" cy="368.4" r="0.56" fill="#780404"/>
<circle cx="174.8" cy="373.8" r="0.88" fill="#9c0808"/>
<circle cx="180.6" cy="399.6" r="1.01" fill="#e0200a"/>
<circle cx="178.7" cy="388.6" r="0.75" fill="#c81008"/>
<circle cx="169.0" cy="354.1" r="0.98" fill="#6c0202"/>
<circle cx="166.7" cy="363.8" r="0.61" fill="#a80a08"/>
<circle cx="178.9" cy="376.6" r="0.78" fill="#b40c08"/>
<circle cx="179.3" cy="391.7" r="0.73" fill="#b00c08"/>
<circle cx="183.3" cy="376.8" r="0.66" fill="#a80a08"/>
<circle cx="168.1" cy="357.2" r="0.81" fill="#6c0202"/>
<circle cx="172.6" cy="401.5" r="0.87" fill="#c81008"/>
<circle cx="182.5" cy="394.1" r="0.56" fill="#dc180a"/>
<circle cx="177.9" cy="398.6" r="0.72" fill="#b00c08"/>
<circle cx="160.6" cy="347.2" r="0.87" fill="#780404"/>
<circle cx="168.7" cy="361.1" r="0.99" fill="#9c0808"/>
<circle cx="171.5" cy="357.6" r="0.95" fill="#b40c08"/>
<circle cx="182.3" cy="379.0" r="0.77" fill="#a80a08"/>
<circle cx="178.3" cy="397.1" r="0.85" fill="#c81008"/>
<circle cx="176.5" cy="402.2" r="0.79" fill="#c81008"/>
<circle cx="161.4" cy="353.3" r="0.64" fill="#9c0808"/>
<circle cx="170.2" cy="375.0" r="0.85" fill="#9c0808"/>
<circle cx="179.2" cy="399.0" r="0.69" fill="#c81008"/>
<circle cx="171.5" cy="371.9" r="0.61" fill="#6c0202"/>
<circle cx="178.0" cy="394.4" r="1.14" fill="#dc180a"/>
<circle cx="173.8" cy="357.9" r="0.69" fill="#780404"/>
<circle cx="173.8" cy="358.6" r="0.57" fill="#9c0808"/>
<circle cx="177.5" cy="398.4" r="1.01" fill="#dc180a"/>
<circle cx="165.4" cy="362.8" r="0.64" fill="#9c0808"/>
<circle cx="180.4" cy="384.7" r="0.65" fill="#a80a08"/>
<circle cx="165.3" cy="365.3" r="1.14" fill="#780404"/>
<circle cx="167.9" cy="352.3" r="0.62" fill="#8c0606"/>
<circle cx="181.2" cy="388.5" r="1.10" fill="#dc180a"/>
<circle cx="174.2" cy="382.8" r="0.55" fill="#6c0202"/>
<circle cx="177.6" cy="378.7" r="0.63" fill="#8c0606"/>
<circle cx="174.2" cy="370.0" r="0.69" fill="#a80a08"/>
<circle cx="174.9" cy="375.4" r="0.81" fill="#9c0808"/>
<circle cx="163.8" cy="366.9" r="0.81" fill="#8c0606"/>
<circle cx="176.0" cy="364.1" r="0.82" fill="#a80a08"/>
<circle cx="178.7" cy="379.5" r="0.89" fill="#9c0808"/>
<circle cx="170.9" cy="354.2" r="0.72" fill="#b40c08"/>
<circle cx="176.8" cy="372.3" r="1.10" fill="#8c0606"/>
<circle cx="164.1" cy="359.0" r="0.70" fill="#a80a08"/>
<circle cx="177.4" cy="385.6" r="0.82" fill="#a80a08"/>
<circle cx="168.1" cy="352.2" r="0.62" fill="#780404"/>
<circle cx="168.9" cy="379.6" r="1.02" fill="#b40c08"/>
<circle cx="173.3" cy="398.1" r="0.99" fill="#e0200a"/>
<circle cx="161.2" cy="349.4" r="0.90" fill="#b40c08"/>
<circle cx="175.3" cy="390.8" r="0.61" fill="#dc180a"/>
<circle cx="177.8" cy="379.3" r="0.85" fill="#9c0808"/>
<circle cx="175.4" cy="386.8" r="0.69" fill="#6c0202"/>
<circle cx="169.3" cy="365.2" r="0.60" fill="#780404"/>
<circle cx="171.2" cy="380.7" r="0.98" fill="#b40c08"/>
<circle cx="163.0" cy="364.5" r="0.75" fill="#8c0606"/>
<circle cx="183.0" cy="380.3" r="1.11" fill="#a80a08"/>
<circle cx="165.2" cy="355.6" r="0.82" fill="#8c0606"/>
<circle cx="174.5" cy="364.0" r="0.87" fill="#780404"/>
<circle cx="158.6" cy="354.1" r="0.70" fill="#780404"/>
<circle cx="180.1" cy="379.2" r="0.64" fill="#b40c08"/>
<circle cx="168.7" cy="360.6" r="0.65" fill="#6c0202"/>
<circle cx="171.1" cy="356.6" r="0.99" fill="#9c0808"/>
<circle cx="160.5" cy="355.5" r="0.79" fill="#780404"/>
<circle cx="175.9" cy="372.8" r="1.09" fill="#780404"/>
<circle cx="166.2" cy="370.0" r="0.66" fill="#780404"/>
<circle cx="178.9" cy="398.2" r="0.78" fill="#dc180a"/>
<circle cx="173.9" cy="361.1" r="1.15" fill="#780404"/>
<circle cx="178.7" cy="392.6" r="0.63" fill="#dc180a"/>
<circle cx="169.0" cy="382.5" r="0.71" fill="#6c0202"/>
<circle cx="177.9" cy="384.2" r="0.59" fill="#9c0808"/>
<circle cx="172.3" cy="360.4" r="0.88" fill="#780404"/>
<circle cx="174.0" cy="364.3" r="1.04" fill="#780404"/>
<circle cx="177.6" cy="390.8" r="0.97" fill="#c81008"/>
<circle cx="176.5" cy="396.4" r="0.89" fill="#c81008"/>
<circle cx="162.9" cy="346.8" r="0.60" fill="#6c0202"/>
<circle cx="170.9" cy="381.7" r="0.70" fill="#9c0808"/>
<circle cx="174.3" cy="401.9" r="0.82" fill="#b00c08"/>
<circle cx="180.1" cy="394.3" r="0.79" fill="#c81008"/>
<circle cx="176.8" cy="390.3" r="0.98" fill="#b00c08"/>
<circle cx="175.6" cy="388.4" r="0.72" fill="#b00c08"/>
<circle cx="174.7" cy="361.2" r="0.60" fill="#8c0606"/>
<circle cx="170.5" cy="367.5" r="0.81" fill="#b40c08"/>
<circle cx="179.5" cy="399.0" r="1.07" fill="#dc180a"/>
<circle cx="176.7" cy="400.7" r="0.66" fill="#b00c08"/>
<circle cx="181.5" cy="395.8" r="0.57" fill="#dc180a"/>
<circle cx="171.0" cy="366.6" r="0.88" fill="#9c0808"/>
<circle cx="176.3" cy="387.3" r="0.65" fill="#e0200a"/>
<circle cx="178.0" cy="366.9" r="0.74" fill="#b40c08"/>
<circle cx="163.5" cy="353.7" r="0.63" fill="#9c0808"/>
<circle cx="163.2" cy="362.4" r="1.13" fill="#b40c08"/>
<circle cx="180.4" cy="374.6" r="0.94" fill="#a80a08"/>
<circle cx="179.0" cy="376.7" r="0.63" fill="#9c0808"/>
<circle cx="166.5" cy="355.0" r="0.73" fill="#9c0808"/>
<circle cx="166.9" cy="353.3" r="0.79" fill="#9c0808"/>
<circle cx="182.8" cy="391.5" r="0.91" fill="#b00c08"/>
<circle cx="169.8" cy="371.8" r="1.01" fill="#8c0606"/>
<circle cx="171.0" cy="376.3" r="1.07" fill="#6c0202"/>
<circle cx="174.4" cy="378.1" r="1.08" fill="#9c0808"/>
<circle cx="171.3" cy="364.0" r="0.61" fill="#6c0202"/>
<circle cx="158.7" cy="355.9" r="1.03" fill="#a80a08"/>
<circle cx="179.6" cy="396.2" r="1.00" fill="#dc180a"/>
<circle cx="174.1" cy="361.2" r="0.76" fill="#780404"/>
<circle cx="160.5" cy="354.3" r="0.94" fill="#a80a08"/>
<circle cx="165.0" cy="348.0" r="0.86" fill="#b40c08"/>
<circle cx="176.2" cy="388.4" r="0.98" fill="#b00c08"/>
<circle cx="172.5" cy="376.0" r="1.01" fill="#780404"/>
<circle cx="178.1" cy="377.4" r="0.63" fill="#780404"/>
<circle cx="160.7" cy="349.5" r="0.60" fill="#b40c08"/>
<circle cx="158.1" cy="356.7" r="0.57" fill="#8c0606"/>
<circle cx="179.3" cy="398.8" r="0.80" fill="#dc180a"/>
<circle cx="182.5" cy="377.5" r="0.61" fill="#9c0808"/>
<circle cx="162.6" cy="353.5" r="0.92" fill="#b40c08"/>
<circle cx="183.1" cy="393.2" r="0.58" fill="#dc180a"/>
<circle cx="164.6" cy="346.1" r="0.78" fill="#9c0808"/>
<circle cx="181.1" cy="396.1" r="1.13" fill="#e0200a"/>
<circle cx="183.4" cy="392.0" r="0.96" fill="#dc180a"/>
<circle cx="165.5" cy="363.0" r="1.10" fill="#a80a08"/>
<circle cx="163.9" cy="347.5" r="0.96" fill="#9c0808"/>
<circle cx="172.6" cy="371.4" r="0.87" fill="#b40c08"/>
<circle cx="181.3" cy="400.7" r="0.88" fill="#e0200a"/>
<circle cx="183.7" cy="377.1" r="0.98" fill="#a80a08"/>
<circle cx="179.9" cy="392.8" r="0.94" fill="#c81008"/>
<circle cx="166.4" cy="348.1" r="0.60" fill="#8c0606"/>
<circle cx="176.5" cy="368.5" r="0.82" fill="#b40c08"/>
<circle cx="160.2" cy="350.0" r="1.11" fill="#6c0202"/>
<circle cx="175.9" cy="378.9" r="0.76" fill="#6c0202"/>
<circle cx="172.5" cy="401.6" r="1.05" fill="#dc180a"/>
<circle cx="167.4" cy="349.8" r="0.98" fill="#780404"/>
<circle cx="169.0" cy="376.7" r="1.05" fill="#b40c08"/>
<circle cx="179.4" cy="400.6" r="0.75" fill="#dc180a"/>
<circle cx="175.7" cy="368.6" r="0.87" fill="#8c0606"/>
<circle cx="166.3" cy="362.8" r="0.78" fill="#6c0202"/>
<circle cx="177.5" cy="387.3" r="0.83" fill="#dc180a"/>
<circle cx="177.4" cy="372.2" r="0.61" fill="#8c0606"/>
<circle cx="178.6" cy="400.0" r="1.06" fill="#c81008"/>
<circle cx="178.9" cy="392.4" r="0.69" fill="#dc180a"/>
<circle cx="169.5" cy="366.7" r="0.62" fill="#6c0202"/>
<circle cx="163.9" cy="345.9" r="0.78" fill="#780404"/>
<circle cx="175.6" cy="388.7" r="0.75" fill="#b00c08"/>
<circle cx="177.1" cy="386.8" r="0.66" fill="#9c0808"/>
<circle cx="176.0" cy="401.0" r="0.83" fill="#c81008"/>
<circle cx="178.2" cy="402.0" r="1.11" fill="#dc180a"/>
<circle cx="165.7" cy="351.5" r="0.87" fill="#a80a08"/>
<circle cx="179.1" cy="400.5" r="0.60" fill="#c81008"/>
<circle cx="172.4" cy="376.2" r="0.77" fill="#b40c08"/>
<circle cx="169.4" cy="378.7" r="1.08" fill="#a80a08"/>
<circle cx="162.4" cy="360.3" r="0.76" fill="#8c0606"/>
<circle cx="164.6" cy="346.9" r="0.77" fill="#8c0606"/>
<circle cx="180.6" cy="379.0" r="0.87" fill="#b40c08"/>
<circle cx="172.3" cy="371.9" r="0.59" fill="#780404"/>
<circle cx="181.4" cy="385.6" r="1.12" fill="#9c0808"/>
<circle cx="177.2" cy="388.2" r="0.82" fill="#e0200a"/>
<circle cx="171.9" cy="359.1" r="0.87" fill="#b40c08"/>
<circle cx="167.9" cy="361.3" r="0.83" fill="#b40c08"/>
<circle cx="181.5" cy="390.4" r="0.60" fill="#dc180a"/>
<circle cx="176.2" cy="401.8" r="0.64" fill="#c81008"/>
<circle cx="177.9" cy="398.5" r="0.79" fill="#dc180a"/>
<circle cx="180.2" cy="394.2" r="0.55" fill="#dc180a"/>
<circle cx="162.1" cy="350.8" r="0.63" fill="#9c0808"/>
<circle cx="171.9" cy="371.0" r="1.08" fill="#b40c08"/>
<circle cx="172.4" cy="355.5" r="0.91" fill="#8c0606"/>
<circle cx="178.9" cy="366.5" r="0.71" fill="#a80a08"/>
<circle cx="173.3" cy="359.4" r="0.68" fill="#a80a08"/>
<circle cx="162.2" cy="349.8" r="0.69" fill="#8c0606"/>
<circle cx="163.4" cy="351.2" r="0.74" fill="#8c0606"/>
<circle cx="170.0" cy="363.7" r="1.03" fill="#9c0808"/>
<circle cx="179.6" cy="372.6" r="1.03" fill="#a80a08"/>
<circle cx="171.3" cy="356.1" r="0.61" fill="#b40c08"/>
<circle cx="176.1" cy="377.8" r="1.00" fill="#8c0606"/>
<circle cx="181.3" cy="384.0" r="0.60" fill="#9c0808"/>
<circle cx="180.9" cy="384.4" r="0.78" fill="#a80a08"/>
<circle cx="160.2" cy="353.4" r="0.66" fill="#a80a08"/>
<circle cx="173.1" cy="372.2" r="1.15" fill="#6c0202"/>
<circle cx="178.7" cy="377.5" r="0.91" fill="#9c0808"/>
<circle cx="181.2" cy="392.4" r="0.96" fill="#e0200a"/>
<circle cx="177.3" cy="403.0" r="0.81" fill="#e0200a"/>
<circle cx="176.9" cy="383.0" r="0.69" fill="#9c0808"/>
<circle cx="180.1" cy="393.5" r="0.73" fill="#c81008"/>
<circle cx="170.3" cy="372.9" r="1.13" fill="#b40c08"/>
<circle cx="178.2" cy="396.1" r="0.59" fill="#e0200a"/>
<circle cx="164.0" cy="347.6" r="1.14" fill="#8c0606"/>
<circle cx="180.5" cy="399.5" r="0.80" fill="#b00c08"/>
<circle cx="178.1" cy="400.7" r="0.88" fill="#dc180a"/>
<circle cx="163.3" cy="360.6" r="1.11" fill="#8c0606"/>
<circle cx="174.7" cy="400.5" r="0.57" fill="#c81008"/>
<circle cx="167.3" cy="362.7" r="0.56" fill="#8c0606"/>
<circle cx="172.6" cy="400.8" r="1.00" fill="#e0200a"/>
<circle cx="165.5" cy="366.0" r="1.10" fill="#8c0606"/>
<circle cx="178.0" cy="387.8" r="0.90" fill="#dc180a"/>
<circle cx="160.4" cy="354.6" r="0.93" fill="#b40c08"/>
<circle cx="173.2" cy="363.5" r="0.83" fill="#6c0202"/>
<circle cx="162.4" cy="362.0" r="0.59" fill="#8c0606"/>
<circle cx="173.0" cy="401.7" r="0.86" fill="#c81008"/>
<circle cx="175.7" cy="394.8" r="1.04" fill="#e0200a"/>
<circle cx="176.6" cy="390.9" r="0.71" fill="#c81008"/>
<circle cx="165.9" cy="367.9" r="1.05" fill="#6c0202"/>
<circle cx="179.4" cy="375.2" r="0.62" fill="#9c0808"/>
<circle cx="177.9" cy="364.2" r="0.80" fill="#6c0202"/>
<circle cx="176.7" cy="389.8" r="1.14" fill="#dc180a"/>
<circle cx="175.5" cy="390.0" r="0.60" fill="#c81008"/>
<circle cx="182.1" cy="388.7" r="1.15" fill="#b00c08"/>
<circle cx="166.2" cy="368.0" r="0.81" fill="#780404"/>
<circle cx="158.7" cy="352.9" r="0.67" fill="#a80a08"/>
<circle cx="177.1" cy="363.0" r="0.75" fill="#9c0808"/>
<circle cx="168.7" cy="369.3" r="1.11" fill="#b40c08"/>
<circle cx="174.0" cy="358.9" r="0.99" fill="#780404"/>
<circle cx="177.7" cy="378.5" r="0.78" fill="#6c0202"/>
<circle cx="168.1" cy="350.7" r="0.62" fill="#6c0202"/>
<circle cx="162.0" cy="348.3" r="0.97" fill="#b40c08"/>
<circle cx="166.6" cy="347.3" r="1.05" fill="#9c0808"/>
<circle cx="181.1" cy="381.1" r="0.80" fill="#6c0202"/>
<circle cx="169.4" cy="359.2" r="1.07" fill="#b40c08"/>
<circle cx="169.8" cy="381.9" r="0.82" fill="#9c0808"/>
<circle cx="177.1" cy="400.8" r="0.68" fill="#b00c08"/>
<circle cx="169.7" cy="358.6" r="0.95" fill="#6c0202"/>
<circle cx="171.7" cy="378.8" r="0.77" fill="#6c0202"/>
<circle cx="160.6" cy="345.5" r="0.63" fill="#b40c08"/>
<circle cx="167.6" cy="351.9" r="0.93" fill="#b40c08"/>
<circle cx="181.5" cy="394.1" r="0.55" fill="#dc180a"/>
<circle cx="169.5" cy="360.4" r="0.84" fill="#9c0808"/>
<circle cx="177.2" cy="392.3" r="0.63" fill="#b00c08"/>
<circle cx="170.6" cy="360.6" r="0.56" fill="#9c0808"/>
<circle cx="176.4" cy="393.6" r="0.95" fill="#e0200a"/>
<circle cx="184.0" cy="382.9" r="0.82" fill="#a80a08"/>
<circle cx="160.5" cy="357.3" r="0.62" fill="#9c0808"/>
<circle cx="173.8" cy="374.3" r="0.55" fill="#8c0606"/>
<circle cx="164.7" cy="356.1" r="0.93" fill="#9c0808"/>
<circle cx="178.7" cy="381.2" r="0.94" fill="#8c0606"/>
<circle cx="164.3" cy="356.8" r="0.60" fill="#780404"/>
<circle cx="182.4" cy="389.7" r="0.62" fill="#b00c08"/>
<circle cx="168.6" cy="377.9" r="0.72" fill="#a80a08"/>
<circle cx="166.9" cy="356.8" r="0.95" fill="#8c0606"/>
<circle cx="168.6" cy="358.9" r="0.80" fill="#8c0606"/>
<circle cx="180.8" cy="376.0" r="0.64" fill="#780404"/>
<circle cx="183.4" cy="383.6" r="1.00" fill="#b40c08"/>
<circle cx="165.3" cy="357.6" r="0.67" fill="#9c0808"/>
<circle cx="167.0" cy="356.1" r="0.76" fill="#a80a08"/>
<circle cx="176.5" cy="396.5" r="1.14" fill="#c81008"/>
<circle cx="160.2" cy="349.2" r="0.57" fill="#8c0606"/>
<circle cx="163.6" cy="350.9" r="1.00" fill="#6c0202"/>
<circle cx="165.8" cy="351.5" r="0.80" fill="#6c0202"/>
<circle cx="177.9" cy="400.9" r="0.89" fill="#e0200a"/>
<circle cx="168.1" cy="377.7" r="1.14" fill="#b40c08"/>
<circle cx="179.1" cy="389.7" r="1.13" fill="#c81008"/>
<circle cx="182.1" cy="389.2" r="0.81" fill="#e0200a"/>
<circle cx="162.1" cy="358.8" r="0.99" fill="#9c0808"/>
<circle cx="161.4" cy="349.6" r="0.97" fill="#a80a08"/>
<circle cx="175.5" cy="387.2" r="1.03" fill="#e0200a"/>
<circle cx="165.1" cy="360.7" r="0.97" fill="#a80a08"/>
<circle cx="163.6" cy="348.0" r="0.57" fill="#6c0202"/>
<circle cx="173.6" cy="372.5" r="0.73" fill="#780404"/>
<circle cx="181.4" cy="373.6" r="0.81" fill="#9c0808"/>
<circle cx="176.9" cy="401.3" r="0.87" fill="#b00c08"/>
<circle cx="177.7" cy="367.8" r="0.93" fill="#8c0606"/>
<circle cx="165.4" cy="350.4" r="0.76" fill="#9c0808"/>
<circle cx="165.8" cy="363.9" r="0.91" fill="#a80a08"/>
<circle cx="181.9" cy="392.7" r="1.09" fill="#dc180a"/>
<circle cx="169.1" cy="358.4" r="1.13" fill="#9c0808"/>
<circle cx="172.1" cy="370.8" r="0.94" fill="#8c0606"/>
<circle cx="171.4" cy="379.7" r="0.96" fill="#780404"/>
<circle cx="183.1" cy="386.9" r="1.09" fill="#c81008"/>
<circle cx="170.7" cy="363.2" r="0.72" fill="#a80a08"/>
<circle cx="178.6" cy="398.3" r="0.86" fill="#b00c08"/>
<circle cx="166.9" cy="358.9" r="0.84" fill="#9c0808"/>
<circle cx="180.0" cy="401.9" r="0.83" fill="#dc180a"/>
<circle cx="173.7" cy="395.3" r="1.03" fill="#b00c08"/>
<circle cx="160.1" cy="352.2" r="0.85" fill="#780404"/>
<circle cx="173.1" cy="358.4" r="0.77" fill="#a80a08"/>
<circle cx="174.6" cy="394.5" r="0.58" fill="#dc180a"/>
<circle cx="159.8" cy="354.9" r="0.85" fill="#6c0202"/>
<circle cx="181.1" cy="380.1" r="0.83" fill="#780404"/>
<circle cx="167.0" cy="351.7" r="0.98" fill="#b40c08"/>
<circle cx="173.2" cy="374.8" r="1.12" fill="#8c0606"/>
<circle cx="183.8" cy="379.7" r="0.65" fill="#b40c08"/>
<circle cx="172.8" cy="359.3" r="1.10" fill="#6c0202"/>
<circle cx="180.2" cy="400.3" r="0.63" fill="#c81008"/>
<circle cx="179.6" cy="386.8" r="0.72" fill="#780404"/>
<circle cx="181.3" cy="399.0" r="1.14" fill="#b00c08"/>
<circle cx="164.9" cy="349.5" r="0.64" fill="#a80a08"/>
<circle cx="176.0" cy="390.3" r="0.63" fill="#c81008"/>
<circle cx="167.5" cy="374.6" r="0.65" fill="#a80a08"/>
<circle cx="172.3" cy="363.6" r="1.02" fill="#a80a08"/>
<circle cx="168.7" cy="356.2" r="0.56" fill="#a80a08"/>
<circle cx="183.2" cy="380.6" r="0.80" fill="#8c0606"/>
<circle cx="179.8" cy="398.7" r="0.69" fill="#c81008"/>
<circle cx="166.8" cy="348.2" r="1.01" fill="#8c0606"/>
<circle cx="176.6" cy="401.0" r="0.98" fill="#c81008"/>
<circle cx="163.3" cy="347.5" r="0.86" fill="#6c0202"/>
<circle cx="170.2" cy="372.7" r="0.61" fill="#780404"/>
<circle cx="176.6" cy="364.3" r="0.61" fill="#a80a08"/>
<circle cx="165.6" cy="348.5" r="0.88" fill="#b40c08"/>
<circle cx="164.9" cy="348.2" r="0.62" fill="#780404"/>
<circle cx="176.8" cy="391.0" r="1.12" fill="#e0200a"/>
<circle cx="167.2" cy="359.5" r="0.68" fill="#9c0808"/>
<circle cx="163.3" cy="353.0" r="1.01" fill="#6c0202"/>
<circle cx="176.0" cy="385.2" r="1.13" fill="#8c0606"/>
<circle cx="171.5" cy="360.6" r="0.61" fill="#8c0606"/>
<circle cx="174.4" cy="364.8" r="1.05" fill="#6c0202"/>
<circle cx="169.8" cy="355.9" r="1.01" fill="#a80a08"/>
<circle cx="181.4" cy="375.2" r="0.66" fill="#9c0808"/>
<circle cx="161.8" cy="348.4" r="0.70" fill="#780404"/>
<circle cx="178.7" cy="391.3" r="0.84" fill="#b00c08"/>
<circle cx="160.6" cy="347.4" r="0.89" fill="#8c0606"/>
<circle cx="179.5" cy="394.7" r="0.83" fill="#e0200a"/>
<circle cx="170.0" cy="367.4" r="0.66" fill="#a80a08"/>
<circle cx="179.3" cy="379.0" r="0.56" fill="#a80a08"/>
<circle cx="160.0" cy="354.1" r="0.74" fill="#780404"/>
<circle cx="171.6" cy="379.9" r="1.10" fill="#a80a08"/>
<circle cx="168.1" cy="350.8" r="0.86" fill="#9c0808"/>
<circle cx="179.9" cy="376.1" r="0.69" fill="#a80a08"/>
<circle cx="175.9" cy="364.4" r="1.09" fill="#780404"/>
<circle cx="179.4" cy="399.4" r="0.90" fill="#c81008"/>
<circle cx="184.3" cy="381.3" r="0.73" fill="#b40c08"/>
<circle cx="180.5" cy="381.0" r="0.65" fill="#780404"/>
<circle cx="166.6" cy="366.5" r="0.83" fill="#b40c08"/>
<circle cx="182.7" cy="390.7" r="1.06" fill="#b00c08"/>
<circle cx="166.8" cy="362.9" r="1.10" fill="#a80a08"/>
<circle cx="169.2" cy="377.4" r="0.56" fill="#a80a08"/>
<circle cx="178.2" cy="365.7" r="1.11" fill="#8c0606"/>
<circle cx="182.5" cy="373.5" r="1.13" fill="#780404"/>
<circle cx="168.8" cy="350.5" r="0.84" fill="#6c0202"/>
<circle cx="174.9" cy="398.8" r="0.78" fill="#c81008"/>
<circle cx="173.3" cy="367.0" r="0.94" fill="#8c0606"/>
<circle cx="182.2" cy="374.3" r="0.86" fill="#a80a08"/>
<circle cx="165.4" cy="346.5" r="0.62" fill="#780404"/>
<circle cx="177.2" cy="397.5" r="0.67" fill="#dc180a"/>
<circle cx="174.0" cy="393.8" r="0.71" fill="#c81008"/>
<circle cx="177.6" cy="400.7" r="0.66" fill="#dc180a"/>
<circle cx="178.6" cy="378.9" r="0.59" fill="#8c0606"/>
<circle cx="168.7" cy="377.5" r="0.81" fill="#6c0202"/>
<circle cx="176.1" cy="399.6" r="0.66" fill="#b00c08"/>
<circle cx="175.7" cy="364.6" r="0.98" fill="#a80a08"/>
<circle cx="174.6" cy="397.0" r="1.09" fill="#dc180a"/>
<circle cx="183.3" cy="389.7" r="1.11" fill="#e0200a"/>
<circle cx="181.3" cy="373.8" r="1.09" fill="#b40c08"/>
<circle cx="176.2" cy="390.8" r="0.85" fill="#dc180a"/>
<circle cx="167.3" cy="364.3" r="0.68" fill="#b40c08"/>
<circle cx="169.4" cy="377.9" r="0.98" fill="#780404"/>
<circle cx="172.0" cy="358.6" r="0.77" fill="#a80a08"/>
<circle cx="167.4" cy="367.3" r="1.13" fill="#a80a08"/>
<circle cx="163.6" cy="360.9" r="0.61" fill="#780404"/>
<circle cx="167.8" cy="351.0" r="0.58" fill="#780404"/>
<circle cx="178.9" cy="385.9" r="1.03" fill="#a80a08"/>
<circle cx="164.4" cy="357.5" r="0.97" fill="#8c0606"/>
<circle cx="167.0" cy="352.9" r="0.89" fill="#8c0606"/>
<circle cx="171.7" cy="374.9" r="0.63" fill="#a80a08"/>
<circle cx="175.6" cy="400.0" r="0.78" fill="#b00c08"/>
<circle cx="167.4" cy="360.3" r="0.94" fill="#8c0606"/>
<circle cx="160.1" cy="354.6" r="0.81" fill="#780404"/>
<circle cx="168.3" cy="352.0" r="0.94" fill="#b40c08"/>
<circle cx="163.9" cy="362.5" r="0.70" fill="#9c0808"/>
<circle cx="174.7" cy="369.1" r="1.01" fill="#8c0606"/>
<circle cx="180.0" cy="378.4" r="0.88" fill="#a80a08"/>
<circle cx="181.8" cy="396.1" r="0.59" fill="#b00c08"/>
<circle cx="170.6" cy="353.9" r="0.71" fill="#b40c08"/>
<circle cx="163.6" cy="358.3" r="0.56" fill="#780404"/>
<circle cx="173.6" cy="381.4" r="0.72" fill="#780404"/>
<circle cx="181.4" cy="375.1" r="0.72" fill="#780404"/>
<circle cx="181.7" cy="376.6" r="1.01" fill="#a80a08"/>
<circle cx="174.7" cy="366.4" r="0.98" fill="#8c0606"/>
<circle cx="180.8" cy="380.1" r="1.12" fill="#b40c08"/>
<circle cx="178.5" cy="382.7" r="0.74" fill="#a80a08"/>
<circle cx="166.7" cy="366.8" r="1.09" fill="#780404"/>
<circle cx="177.8" cy="364.3" r="0.94" fill="#6c0202"/>
<circle cx="184.0" cy="383.2" r="0.66" fill="#8c0606"/>
<circle cx="179.9" cy="386.9" r="0.67" fill="#c81008"/>
<circle cx="183.8" cy="382.0" r="0.86" fill="#6c0202"/>
<circle cx="181.1" cy="375.3" r="1.05" fill="#780404"/>
<circle cx="175.1" cy="391.0" r="0.88" fill="#dc180a"/>
<circle cx="176.0" cy="392.9" r="1.07" fill="#dc180a"/>
<circle cx="164.1" cy="349.5" r="1.02" fill="#b40c08"/>
<circle cx="160.8" cy="362.2" r="0.58" fill="#8c0606"/>
<circle cx="170.3" cy="372.1" r="1.12" fill="#6c0202"/>
<circle cx="172.8" cy="366.1" r="0.87" fill="#8c0606"/>
<circle cx="177.7" cy="381.8" r="1.04" fill="#a80a08"/>
<circle cx="173.4" cy="377.3" r="0.84" fill="#b40c08"/>
<circle cx="169.3" cy="353.6" r="0.60" fill="#6c0202"/>
<circle cx="179.7" cy="368.9" r="1.11" fill="#a80a08"/>
<circle cx="159.9" cy="353.4" r="1.14" fill="#8c0606"/>
<circle cx="170.2" cy="377.1" r="0.80" fill="#6c0202"/>
<circle cx="180.2" cy="388.9" r="0.75" fill="#e0200a"/>
<circle cx="176.6" cy="390.3" r="0.45" fill="#fff" opacity="0.7"/>
<circle cx="163.4" cy="350.3" r="0.45" fill="#fff" opacity="0.7"/>
<circle cx="178.0" cy="385.0" r="0.45" fill="#fff" opacity="0.7"/>
<circle cx="179.5" cy="396.8" r="0.45" fill="#fff" opacity="0.7"/>
<circle cx="175.2" cy="365.8" r="0.45" fill="#fff" opacity="0.7"/>
<circle cx="180.9" cy="391.7" r="0.45" fill="#fff" opacity="0.7"/>
<circle cx="174.2" cy="397.7" r="0.45" fill="#fff" opacity="0.7"/>
<circle cx="169.3" cy="358.6" r="0.45" fill="#fff" opacity="0.7"/>
<circle cx="163.1" cy="353.5" r="0.45" fill="#fff" opacity="0.7"/>
<circle cx="177.2" cy="373.6" r="0.45" fill="#fff" opacity="0.7"/>
<circle cx="175.5" cy="364.8" r="0.45" fill="#fff" opacity="0.7"/>
<circle cx="181.0" cy="378.5" r="0.45" fill="#fff" opacity="0.7"/>
<circle cx="176.9" cy="380.3" r="0.45" fill="#fff" opacity="0.7"/>
<circle cx="177.8" cy="369.8" r="0.45" fill="#fff" opacity="0.7"/>
<circle cx="178.9" cy="373.0" r="0.45" fill="#fff" opacity="0.7"/>
<circle cx="177.5" cy="380.1" r="0.45" fill="#fff" opacity="0.7"/>
<circle cx="181.5" cy="387.7" r="0.45" fill="#fff" opacity="0.7"/>
<circle cx="176.4" cy="392.5" r="0.45" fill="#fff" opacity="0.7"/>
<circle cx="178.8" cy="392.1" r="0.45" fill="#fff" opacity="0.7"/>
<circle cx="178.3" cy="384.8" r="0.45" fill="#fff" opacity="0.7"/>
<circle cx="182.5" cy="387.8" r="0.45" fill="#fff" opacity="0.7"/>
<circle cx="164.0" cy="351.0" r="0.45" fill="#fff" opacity="0.7"/>
<circle cx="176.3" cy="393.8" r="0.45" fill="#fff" opacity="0.7"/>
<circle cx="177.5" cy="376.4" r="0.45" fill="#fff" opacity="0.7"/>
<circle cx="178.6" cy="392.8" r="0.45" fill="#fff" opacity="0.7"/>
<circle cx="179.9" cy="397.4" r="0.45" fill="#fff" opacity="0.7"/>
<circle cx="164.7" cy="351.0" r="0.45" fill="#fff" opacity="0.7"/>
<circle cx="160.7" cy="350.4" r="0.45" fill="#fff" opacity="0.7"/>
<circle cx="169.5" cy="363.8" r="0.45" fill="#fff" opacity="0.7"/>
<circle cx="179.8" cy="400.5" r="0.45" fill="#fff" opacity="0.7"/>
<path d="M78.4,385 Q79,381.5 82,381 L88.5,392 L95.5,404 L101.5,416 L105.5,426 L106.6,434 Q100,440 86,440 Q82,420 79.6,400 Z" fill="url(#g18)" />
<line x1="79.3" y1="382.9" x2="86.6" y2="439.8" stroke="#37f0db" stroke-width="0.5" opacity="0.35"/>
<line x1="79.6" y1="382.8" x2="87.9" y2="439.4" stroke="#1fd8bb" stroke-width="0.5" opacity="0.35"/>
<line x1="79.8" y1="382.7" x2="89.2" y2="439.1" stroke="#38f1dc" stroke-width="0.5" opacity="0.35"/>
<line x1="80.0" y1="382.6" x2="90.5" y2="438.7" stroke="#25dec2" stroke-width="0.5" opacity="0.35"/>
<line x1="80.3" y1="382.4" x2="91.8" y2="438.3" stroke="#29e2c7" stroke-width="0.5" opacity="0.35"/>
<line x1="80.5" y1="382.3" x2="93.0" y2="437.9" stroke="#3bf4df" stroke-width="0.5" opacity="0.35"/>
<line x1="80.7" y1="382.2" x2="94.3" y2="437.6" stroke="#2be4cb" stroke-width="0.5" opacity="0.35"/>
<line x1="81.0" y1="382.1" x2="95.6" y2="437.2" stroke="#22dbbf" stroke-width="0.5" opacity="0.35"/>
<line x1="81.2" y1="381.9" x2="96.9" y2="436.8" stroke="#2ae3ca" stroke-width="0.5" opacity="0.35"/>
<line x1="81.5" y1="381.8" x2="98.2" y2="436.4" stroke="#37f0db" stroke-width="0.5" opacity="0.35"/>
<line x1="81.7" y1="381.7" x2="99.5" y2="436.1" stroke="#23dcc0" stroke-width="0.5" opacity="0.35"/>
<line x1="81.9" y1="381.6" x2="100.7" y2="435.7" stroke="#29e2c7" stroke-width="0.5" opacity="0.35"/>
<line x1="82.2" y1="381.4" x2="102.0" y2="435.3" stroke="#26dfc4" stroke-width="0.5" opacity="0.35"/>
<line x1="82.4" y1="381.3" x2="103.3" y2="434.9" stroke="#26dfc3" stroke-width="0.5" opacity="0.35"/>
<line x1="82.6" y1="381.2" x2="104.6" y2="434.6" stroke="#27e0c5" stroke-width="0.5" opacity="0.35"/>
<line x1="82.9" y1="381.1" x2="105.9" y2="434.2" stroke="#22dbbe" stroke-width="0.5" opacity="0.35"/>
<rect x="98.5" y="407.6" width="0.7" height="1.3" fill="#38ecc0" opacity="0.85"/>
<rect x="90.8" y="394.9" width="0.7" height="1.5" fill="#38ecc0" opacity="0.85"/>
<rect x="99.1" y="410.5" width="0.7" height="1.4" fill="#38ecc0" opacity="0.85"/>
<rect x="92.2" y="398.6" width="0.7" height="1.6" fill="#38ecc0" opacity="0.85"/>
<rect x="94.0" y="409.9" width="0.7" height="2.4" fill="#e8c040" opacity="0.85"/>
<rect x="91.8" y="397.8" width="0.7" height="2.8" fill="#60e8b0" opacity="0.85"/>
<rect x="85.7" y="383.6" width="0.7" height="3.2" fill="#60e8b0" opacity="0.85"/>
<rect x="95.6" y="407.5" width="0.7" height="2.9" fill="#f0a416" opacity="0.85"/>
<rect x="85.8" y="384.4" width="0.7" height="2.8" fill="#38ecc0" opacity="0.85"/>
<rect x="87.5" y="389.2" width="0.7" height="3.1" fill="#38ecc0" opacity="0.85"/>
<rect x="92.6" y="391.8" width="0.7" height="2.7" fill="#2ee6cc" opacity="0.85"/>
<rect x="98.0" y="403.5" width="0.7" height="1.2" fill="#60e8b0" opacity="0.85"/>
<rect x="88.6" y="387.4" width="0.7" height="1.5" fill="#60e8b0" opacity="0.85"/>
<rect x="91.8" y="395.0" width="0.7" height="3.1" fill="#2ee6cc" opacity="0.85"/>
<rect x="102.3" y="415.6" width="0.7" height="3.4" fill="#38ecc0" opacity="0.85"/>
<rect x="79.4" y="383.4" width="0.7" height="2.3" fill="#f0a416" opacity="0.85"/>
<rect x="107.9" y="422.7" width="0.7" height="3.4" fill="#60e8b0" opacity="0.85"/>
<rect x="95.6" y="404.3" width="0.7" height="1.5" fill="#60e8b0" opacity="0.85"/>
<rect x="102.6" y="413.3" width="0.7" height="2.9" fill="#2ee6cc" opacity="0.85"/>
<rect x="94.7" y="405.9" width="0.7" height="2.3" fill="#f0a416" opacity="0.85"/>
<rect x="91.4" y="398.0" width="0.7" height="3.1" fill="#38ecc0" opacity="0.85"/>
<rect x="100.0" y="414.0" width="0.7" height="2.0" fill="#60e8b0" opacity="0.85"/>
<rect x="90.6" y="400.5" width="0.7" height="2.2" fill="#e8c040" opacity="0.85"/>
<rect x="92.0" y="390.3" width="0.7" height="1.3" fill="#2ee6cc" opacity="0.85"/>
<rect x="101.8" y="417.4" width="0.7" height="1.5" fill="#2ee6cc" opacity="0.85"/>
<rect x="101.9" y="416.2" width="0.7" height="2.8" fill="#38ecc0" opacity="0.85"/>
<rect x="98.5" y="417.7" width="0.7" height="3.4" fill="#f08a12" opacity="0.85"/>
<rect x="83.8" y="382.9" width="0.7" height="1.7" fill="#60e8b0" opacity="0.85"/>
<rect x="86.7" y="385.3" width="0.7" height="3.1" fill="#60e8b0" opacity="0.85"/>
<rect x="88.0" y="383.6" width="0.7" height="2.7" fill="#38ecc0" opacity="0.85"/>
<rect x="81.6" y="384.5" width="0.7" height="1.3" fill="#e8c040" opacity="0.85"/>
<rect x="87.9" y="397.7" width="0.7" height="2.1" fill="#f08a12" opacity="0.85"/>
<rect x="88.2" y="386.9" width="0.7" height="1.4" fill="#38ecc0" opacity="0.85"/>
<rect x="108.6" y="422.4" width="0.7" height="1.4" fill="#2ee6cc" opacity="0.85"/>
<rect x="86.8" y="396.7" width="0.7" height="2.4" fill="#f08a12" opacity="0.85"/>
<rect x="96.4" y="404.3" width="0.7" height="3.4" fill="#2ee6cc" opacity="0.85"/>
<rect x="101.4" y="408.1" width="0.7" height="1.8" fill="#38ecc0" opacity="0.85"/>
<rect x="98.1" y="406.0" width="0.7" height="2.3" fill="#60e8b0" opacity="0.85"/>
<rect x="91.7" y="403.5" width="0.7" height="1.9" fill="#e8c040" opacity="0.85"/>
<rect x="106.3" y="420.7" width="0.7" height="2.9" fill="#2ee6cc" opacity="0.85"/>
<rect x="104.1" y="412.9" width="0.7" height="2.3" fill="#60e8b0" opacity="0.85"/>
<rect x="95.9" y="406.5" width="0.7" height="3.2" fill="#60e8b0" opacity="0.85"/>
<rect x="111.0" y="425.8" width="0.7" height="2.3" fill="#2ee6cc" opacity="0.85"/>
<rect x="107.3" y="424.6" width="0.7" height="1.5" fill="#2ee6cc" opacity="0.85"/>
<rect x="101.5" y="412.7" width="0.7" height="1.5" fill="#2ee6cc" opacity="0.85"/>
<rect x="99.2" y="404.8" width="0.7" height="1.5" fill="#60e8b0" opacity="0.85"/>
<rect x="90.5" y="402.6" width="0.7" height="1.1" fill="#f0a416" opacity="0.85"/>
<rect x="93.1" y="393.3" width="0.7" height="2.7" fill="#60e8b0" opacity="0.85"/>
<rect x="105.2" y="425.2" width="0.7" height="1.0" fill="#f0a416" opacity="0.85"/>
<rect x="89.5" y="390.4" width="0.7" height="3.3" fill="#2ee6cc" opacity="0.85"/>
<rect x="96.3" y="414.0" width="0.7" height="2.7" fill="#f0a416" opacity="0.85"/>
<rect x="87.8" y="397.0" width="0.7" height="2.1" fill="#e8c040" opacity="0.85"/>
<rect x="85.5" y="385.5" width="0.7" height="1.3" fill="#2ee6cc" opacity="0.85"/>
<rect x="107.9" y="425.7" width="0.7" height="1.6" fill="#2ee6cc" opacity="0.85"/>
<rect x="104.2" y="424.0" width="0.7" height="3.4" fill="#f08a12" opacity="0.85"/>
<rect x="106.7" y="421.2" width="0.7" height="3.5" fill="#2ee6cc" opacity="0.85"/>
<rect x="103.2" y="416.2" width="0.7" height="3.2" fill="#60e8b0" opacity="0.85"/>
<rect x="100.9" y="407.2" width="0.7" height="2.3" fill="#38ecc0" opacity="0.85"/>
<rect x="100.7" y="407.9" width="0.7" height="3.2" fill="#60e8b0" opacity="0.85"/>
<rect x="98.7" y="410.0" width="0.7" height="1.3" fill="#38ecc0" opacity="0.85"/>
<rect x="110.9" y="425.0" width="0.7" height="3.1" fill="#38ecc0" opacity="0.85"/>
<rect x="105.2" y="421.1" width="0.7" height="3.1" fill="#60e8b0" opacity="0.85"/>
<rect x="88.4" y="392.2" width="0.7" height="2.6" fill="#2ee6cc" opacity="0.85"/>
<rect x="99.7" y="418.0" width="0.7" height="2.9" fill="#e8c040" opacity="0.85"/>
<rect x="96.2" y="404.7" width="0.7" height="2.3" fill="#2ee6cc" opacity="0.85"/>
<rect x="89.9" y="394.2" width="0.7" height="2.0" fill="#38ecc0" opacity="0.85"/>
<rect x="101.8" y="411.2" width="0.7" height="2.3" fill="#2ee6cc" opacity="0.85"/>
<rect x="97.7" y="407.7" width="0.7" height="3.4" fill="#2ee6cc" opacity="0.85"/>
<rect x="89.6" y="402.1" width="0.7" height="2.7" fill="#f0a416" opacity="0.85"/>
<rect x="83.7" y="387.3" width="0.7" height="1.5" fill="#f08a12" opacity="0.85"/>
<rect x="105.7" y="424.3" width="0.7" height="1.9" fill="#60e8b0" opacity="0.85"/>
<rect x="103.7" y="412.8" width="0.7" height="1.7" fill="#2ee6cc" opacity="0.85"/>
<rect x="103.2" y="418.6" width="0.7" height="2.7" fill="#60e8b0" opacity="0.85"/>
<rect x="95.3" y="402.8" width="0.7" height="2.2" fill="#60e8b0" opacity="0.85"/>
<rect x="98.5" y="415.7" width="0.7" height="1.1" fill="#f0a416" opacity="0.85"/>
<rect x="86.8" y="391.9" width="0.7" height="1.1" fill="#f08a12" opacity="0.85"/>
<rect x="92.2" y="406.1" width="0.7" height="2.6" fill="#f08a12" opacity="0.85"/>
<rect x="103.6" y="425.4" width="0.7" height="1.1" fill="#f0a416" opacity="0.85"/>
<rect x="92.5" y="406.3" width="0.7" height="1.1" fill="#f0a416" opacity="0.85"/>
<rect x="103.1" y="425.6" width="0.7" height="1.4" fill="#f0a416" opacity="0.85"/>
<rect x="88.0" y="386.3" width="0.7" height="2.9" fill="#60e8b0" opacity="0.85"/>
<rect x="84.4" y="383.7" width="0.7" height="2.9" fill="#2ee6cc" opacity="0.85"/>
<rect x="85.8" y="390.7" width="0.7" height="2.8" fill="#e8c040" opacity="0.85"/>
<rect x="88.8" y="388.8" width="0.7" height="2.8" fill="#60e8b0" opacity="0.85"/>
<rect x="81.4" y="383.1" width="0.7" height="2.7" fill="#f08a12" opacity="0.85"/>
<rect x="106.6" y="422.7" width="0.7" height="3.4" fill="#60e8b0" opacity="0.85"/>
<rect x="87.5" y="390.3" width="0.7" height="1.1" fill="#60e8b0" opacity="0.85"/>
<rect x="106.3" y="419.8" width="0.7" height="2.1" fill="#2ee6cc" opacity="0.85"/>
<rect x="103.4" y="414.8" width="0.7" height="3.3" fill="#38ecc0" opacity="0.85"/>
<rect x="99.9" y="413.0" width="0.7" height="1.1" fill="#38ecc0" opacity="0.85"/>
<rect x="90.5" y="390.0" width="0.7" height="2.9" fill="#38ecc0" opacity="0.85"/>
<rect x="99.0" y="407.1" width="0.7" height="2.5" fill="#38ecc0" opacity="0.85"/>
<rect x="94.6" y="408.3" width="0.7" height="2.9" fill="#e8c040" opacity="0.85"/>
<rect x="105.3" y="426.0" width="0.7" height="1.7" fill="#f0a416" opacity="0.85"/>
<rect x="88.5" y="384.4" width="0.7" height="1.7" fill="#38ecc0" opacity="0.85"/>
<rect x="100.6" y="410.0" width="0.7" height="1.5" fill="#2ee6cc" opacity="0.85"/>
<rect x="84.0" y="388.4" width="0.7" height="1.9" fill="#e8c040" opacity="0.85"/>
<rect x="103.6" y="425.0" width="0.7" height="2.6" fill="#e8c040" opacity="0.85"/>
<rect x="82.3" y="382.0" width="0.7" height="3.3" fill="#f0a416" opacity="0.85"/>
<rect x="91.9" y="390.2" width="0.7" height="2.3" fill="#60e8b0" opacity="0.85"/>
<line x1="47.45" y1="357.00" x2="119.50" y2="398.20" stroke="#606060" stroke-width="0.75" />
<line x1="119.50" y1="398.20" x2="270.45" y2="377.40" stroke="#606060" stroke-width="0.75" />
<line x1="119.50" y1="398.20" x2="119.50" y2="557.80" stroke="#606060" stroke-width="0.75" />
<line x1="270.45" y1="377.40" x2="270.45" y2="537.80" stroke="#606060" stroke-width="0.75" />
<line x1="119.50" y1="557.80" x2="270.45" y2="537.80" stroke="#606060" stroke-width="0.75" />
<rect x="94.60" y="401.30" width="3.2" height="3.2" fill="#fff" stroke="#777" stroke-width="0.8"/>
<rect x="94.60" y="441.80" width="3.2" height="3.2" fill="#fff" stroke="#777" stroke-width="0.8"/>
<rect x="179.00" y="388.20" width="3.2" height="3.2" fill="#fff" stroke="#777" stroke-width="0.8"/>
<rect x="143.00" y="465.50" width="3.2" height="3.2" fill="#fff" stroke="#777" stroke-width="0.8"/>
<rect x="143.00" y="514.10" width="3.2" height="3.2" fill="#fff" stroke="#777" stroke-width="0.8"/>
<rect x="179.00" y="474.00" width="3.2" height="3.2" fill="#fff" stroke="#777" stroke-width="0.8"/>
<rect x="217.90" y="501.10" width="3.2" height="3.2" fill="#fff" stroke="#777" stroke-width="0.8"/>
<text x="167.00" y="486.80" font-size="14.5" text-anchor="start" fill="#141414">c<tspan font-size="9.86" dy="3.62">1</tspan></text>
<text x="226.80" y="513.60" font-size="14.5" text-anchor="start" fill="#141414">c<tspan font-size="9.86" dy="3.62">2</tspan></text>
<text x="121.30" y="533.60" font-size="14.5" text-anchor="start" fill="#141414">c<tspan font-size="9.86" dy="3.62">3</tspan></text>
<text x="150.50" y="468.00" font-size="14.5" text-anchor="start" fill="#141414">c<tspan font-size="9.86" dy="3.62">4</tspan></text>
<text x="72.60" y="458.00" font-size="14.5" text-anchor="start" fill="#141414">c<tspan font-size="9.86" dy="3.62">5</tspan></text>
<text x="65.00" y="409.00" font-size="14.5" text-anchor="start" fill="#141414">c<tspan font-size="9.86" dy="3.62">6</tspan></text>
<text x="187.50" y="379.50" font-size="14.5" text-anchor="start" fill="#141414">c<tspan font-size="9.86" dy="3.62">7</tspan></text>
<text x="16.70" y="336.48" font-size="14.2" text-anchor="middle" font-weight="bold" fill="#141414" >c</text>
<line x1="31.00" y1="357.00" x2="46.60" y2="357.00" stroke="#2a2a2a" stroke-width="1.1" />
<line x1="31.00" y1="434.80" x2="46.60" y2="434.80" stroke="#2a2a2a" stroke-width="1.1" />
<line x1="31.00" y1="517.00" x2="46.60" y2="517.00" stroke="#2a2a2a" stroke-width="1.1" />
<text x="26.70" y="362.59" font-size="14.5" text-anchor="end" fill="#141414" >5</text>
<text x="27.60" y="439.89" font-size="14.5" text-anchor="end" fill="#141414" >0</text>
<text x="27.40" y="521.69" font-size="14.5" text-anchor="end" fill="#141414" >-5</text>
<line x1="31.00" y1="518.20" x2="47.00" y2="517.00" stroke="#333" stroke-width="1.3" />
<line x1="69.20" y1="539.00" x2="82.00" y2="537.20" stroke="#333" stroke-width="1.3" />
<line x1="104.20" y1="560.20" x2="119.50" y2="557.80" stroke="#333" stroke-width="1.3" />
<text x="34.30" y="532.69" font-size="14.5" text-anchor="middle" fill="#141414" >5</text>
<text x="61.50" y="547.59" font-size="14.5" text-anchor="middle" fill="#141414" >0</text>
<text x="97.90" y="568.59" font-size="14.5" text-anchor="middle" fill="#141414" >-5</text>
<line x1="119.50" y1="557.80" x2="131.00" y2="564.60" stroke="#333" stroke-width="1.3" />
<line x1="204.30" y1="548.00" x2="215.30" y2="554.40" stroke="#333" stroke-width="1.3" />
<line x1="270.20" y1="537.80" x2="280.00" y2="543.80" stroke="#333" stroke-width="1.3" />
<text x="136.50" y="575.79" font-size="14.5" text-anchor="middle" fill="#141414" >-5</text>
<text x="219.60" y="565.39" font-size="14.5" text-anchor="middle" fill="#141414" >0</text>
<text x="275.50" y="555.99" font-size="14.5" text-anchor="middle" fill="#141414" >5</text>
<rect x="294.7" y="477.2" width="14.9" height="78.4" fill="url(#g19)" stroke="#3a3a3a" stroke-width="0.9"/>
<line x1="294.70" y1="494.40" x2="297.20" y2="494.40" stroke="#333" stroke-width="0.7" />
<line x1="307.10" y1="494.40" x2="309.60" y2="494.40" stroke="#333" stroke-width="0.7" />
<line x1="294.70" y1="515.00" x2="297.20" y2="515.00" stroke="#333" stroke-width="0.7" />
<line x1="307.10" y1="515.00" x2="309.60" y2="515.00" stroke="#333" stroke-width="0.7" />
<line x1="294.70" y1="535.50" x2="297.20" y2="535.50" stroke="#333" stroke-width="0.7" />
<line x1="307.10" y1="535.50" x2="309.60" y2="535.50" stroke="#333" stroke-width="0.7" />
<text x="318.80" y="482.19" font-size="14.5" text-anchor="start" fill="#141414" >10</text>
<text x="318.50" y="518.59" font-size="14.5" text-anchor="start" fill="#141414" >5</text>
<text x="318.50" y="557.89" font-size="14.5" text-anchor="start" fill="#141414" >0</text>
<text x="317.00" y="454.04" font-size="15.2" text-anchor="middle" fill="#141414" >(mm/s)</text>
<line x1="33.00" y1="577.00" x2="33.00" y2="560.00" stroke="#4a90d9" stroke-width="1.5" />
<polygon points="33.0,555.0 30.2,561.0 35.8,561.0" fill="#4a90d9" />
<line x1="33.00" y1="577.00" x2="17.00" y2="580.80" stroke="#d81b60" stroke-width="1.7" />
<polygon points="11.8,582.0 17.8,578.0 19.0,583.6" fill="#d81b60" />
<line x1="33.00" y1="577.00" x2="38.50" y2="581.20" stroke="#5ab552" stroke-width="1.7" />
<polygon points="42.5,584.2 36.0,582.8 39.4,578.4" fill="#5ab552" />
<text x="33" y="550.8" font-size="14.5" text-anchor="middle" fill="#1a1a1a">z</text>
<text x="7" y="584.5" font-size="14.5" text-anchor="middle" fill="#1a1a1a">x</text>
<text x="49" y="584.5" font-size="14.5" text-anchor="middle" fill="#1a1a1a">y</text>
</g>
<g id="panelD">
<line x1="451.40" y1="338.00" x2="451.40" y2="560.68" stroke="#aaaaaa" stroke-width="1.1" stroke-dasharray="2.5 1.9"/>
<line x1="487.27" y1="338.00" x2="487.27" y2="560.68" stroke="#aaaaaa" stroke-width="1.1" stroke-dasharray="2.5 1.9"/>
<line x1="523.14" y1="338.00" x2="523.14" y2="560.68" stroke="#aaaaaa" stroke-width="1.1" stroke-dasharray="2.5 1.9"/>
<line x1="559.01" y1="338.00" x2="559.01" y2="560.68" stroke="#aaaaaa" stroke-width="1.1" stroke-dasharray="2.5 1.9"/>
<line x1="594.88" y1="338.00" x2="594.88" y2="560.68" stroke="#aaaaaa" stroke-width="1.1" stroke-dasharray="2.5 1.9"/>
<line x1="630.75" y1="338.00" x2="630.75" y2="560.68" stroke="#aaaaaa" stroke-width="1.1" stroke-dasharray="2.5 1.9"/>
<line x1="666.62" y1="338.00" x2="666.62" y2="560.68" stroke="#aaaaaa" stroke-width="1.1" stroke-dasharray="2.5 1.9"/>
<line x1="419.30" y1="335.60" x2="419.30" y2="561.28" stroke="#222" stroke-width="1.2" />
<line x1="418.70" y1="560.68" x2="698.50" y2="560.68" stroke="#222" stroke-width="1.2" />
<line x1="414.30" y1="560.68" x2="419.30" y2="560.68" stroke="#222" stroke-width="1.1" />
<line x1="416.50" y1="532.62" x2="419.30" y2="532.62" stroke="#222" stroke-width="1.1" />
<line x1="414.30" y1="504.56" x2="419.30" y2="504.56" stroke="#222" stroke-width="1.1" />
<line x1="416.50" y1="476.50" x2="419.30" y2="476.50" stroke="#222" stroke-width="1.1" />
<line x1="414.30" y1="448.44" x2="419.30" y2="448.44" stroke="#222" stroke-width="1.1" />
<line x1="416.50" y1="420.38" x2="419.30" y2="420.38" stroke="#222" stroke-width="1.1" />
<line x1="414.30" y1="392.32" x2="419.30" y2="392.32" stroke="#222" stroke-width="1.1" />
<line x1="416.50" y1="364.26" x2="419.30" y2="364.26" stroke="#222" stroke-width="1.1" />
<line x1="414.30" y1="336.20" x2="419.30" y2="336.20" stroke="#222" stroke-width="1.1" />
<line x1="451.40" y1="560.68" x2="451.40" y2="565.18" stroke="#222" stroke-width="1.1" />
<line x1="487.27" y1="560.68" x2="487.27" y2="565.18" stroke="#222" stroke-width="1.1" />
<line x1="523.14" y1="560.68" x2="523.14" y2="565.18" stroke="#222" stroke-width="1.1" />
<line x1="559.01" y1="560.68" x2="559.01" y2="565.18" stroke="#222" stroke-width="1.1" />
<line x1="594.88" y1="560.68" x2="594.88" y2="565.18" stroke="#222" stroke-width="1.1" />
<line x1="630.75" y1="560.68" x2="630.75" y2="565.18" stroke="#222" stroke-width="1.1" />
<line x1="666.62" y1="560.68" x2="666.62" y2="565.18" stroke="#222" stroke-width="1.1" />
<text x="404.80" y="566.06" font-size="14.2" text-anchor="end" fill="#141414" >2</text>
<text x="404.80" y="509.94" font-size="14.2" text-anchor="end" fill="#141414" >4</text>
<text x="404.80" y="453.82" font-size="14.2" text-anchor="end" fill="#141414" >6</text>
<text x="404.80" y="397.70" font-size="14.2" text-anchor="end" fill="#141414" >8</text>
<text x="404.80" y="341.58" font-size="14.2" text-anchor="end" fill="#141414" >10</text>
<text x="450.20" y="586.00" font-size="13.9" text-anchor="middle" fill="#141414">c<tspan font-size="9.45" dy="3.48">1</tspan></text>
<text x="486.07" y="586.00" font-size="13.9" text-anchor="middle" fill="#141414">c<tspan font-size="9.45" dy="3.48">2</tspan></text>
<text x="521.94" y="586.00" font-size="13.9" text-anchor="middle" fill="#141414">c<tspan font-size="9.45" dy="3.48">3</tspan></text>
<text x="557.81" y="586.00" font-size="13.9" text-anchor="middle" fill="#141414">c<tspan font-size="9.45" dy="3.48">4</tspan></text>
<text x="593.68" y="586.00" font-size="13.9" text-anchor="middle" fill="#141414">c<tspan font-size="9.45" dy="3.48">5</tspan></text>
<text x="629.55" y="586.00" font-size="13.9" text-anchor="middle" fill="#141414">c<tspan font-size="9.45" dy="3.48">6</tspan></text>
<text x="665.42" y="586.00" font-size="13.9" text-anchor="middle" fill="#141414">c<tspan font-size="9.45" dy="3.48">7</tspan></text>
<text x="552.30" y="612.10" font-size="14.8" text-anchor="middle" fill="#141414" >Point</text>
<text transform="translate(373.2,448) rotate(-90)" font-size="14.9" text-anchor="middle" fill="#1a1a1a">Average velocity (mm/s)</text>
<text x="368.40" y="335.08" font-size="14.2" text-anchor="middle" font-weight="bold" fill="#141414" >d</text>
<line x1="455.30" y1="545.39" x2="483.87" y2="545.39" stroke="#1a1a1a" stroke-width="1.1" />
<rect x="448.80" y="542.79" width="5.2" height="5.2" fill="#111"/>
<rect x="484.67" y="542.79" width="5.2" height="5.2" fill="#111"/>
<line x1="491.17" y1="455.17" x2="519.74" y2="455.17" stroke="#1a1a1a" stroke-width="1.1" />
<rect x="484.67" y="452.57" width="5.2" height="5.2" fill="#111"/>
<rect x="520.54" y="452.57" width="5.2" height="5.2" fill="#111"/>
<line x1="527.04" y1="505.40" x2="555.61" y2="505.40" stroke="#1a1a1a" stroke-width="1.1" />
<rect x="520.54" y="502.80" width="5.2" height="5.2" fill="#111"/>
<rect x="556.41" y="502.80" width="5.2" height="5.2" fill="#111"/>
<line x1="562.91" y1="530.94" x2="591.48" y2="530.94" stroke="#1a1a1a" stroke-width="1.1" />
<rect x="556.41" y="528.34" width="5.2" height="5.2" fill="#111"/>
<rect x="592.28" y="528.34" width="5.2" height="5.2" fill="#111"/>
<line x1="598.78" y1="502.32" x2="627.35" y2="502.32" stroke="#1a1a1a" stroke-width="1.1" />
<rect x="592.28" y="499.72" width="5.2" height="5.2" fill="#111"/>
<rect x="628.15" y="499.72" width="5.2" height="5.2" fill="#111"/>
<line x1="634.65" y1="384.46" x2="663.22" y2="384.46" stroke="#1a1a1a" stroke-width="1.1" />
<rect x="628.15" y="381.86" width="5.2" height="5.2" fill="#111"/>
<rect x="664.02" y="381.86" width="5.2" height="5.2" fill="#111"/>
<text x="450.10" y="423.76" font-size="14.4" fill="#1a1a1a">10 mT</text>
<text x="449.30" y="441.56" font-size="17.6" font-family="Liberation Serif, serif" fill="#1a1a1a" style="font-family:'Liberation Serif',serif">α</text>
<text x="490.30" y="441.56" font-size="14.4" text-anchor="end" fill="#1a1a1a">=1.0</text>
<text x="521.80" y="423.76" font-size="14.4" fill="#1a1a1a">15 mT</text>
<text x="521.00" y="441.56" font-size="17.6" font-family="Liberation Serif, serif" fill="#1a1a1a" style="font-family:'Liberation Serif',serif">α</text>
<text x="562.00" y="441.56" font-size="14.4" text-anchor="end" fill="#1a1a1a">=3.0</text>
<text x="594.60" y="423.76" font-size="14.4" fill="#1a1a1a">15 mT</text>
<text x="593.80" y="441.56" font-size="17.6" font-family="Liberation Serif, serif" fill="#1a1a1a" style="font-family:'Liberation Serif',serif">α</text>
<text x="634.80" y="441.56" font-size="14.4" text-anchor="end" fill="#1a1a1a">=3.0</text>
<text x="486.20" y="475.56" font-size="14.4" fill="#1a1a1a">15 mT</text>
<text x="485.40" y="493.56" font-size="17.6" font-family="Liberation Serif, serif" fill="#1a1a1a" style="font-family:'Liberation Serif',serif">α</text>
<text x="526.40" y="493.56" font-size="14.4" text-anchor="end" fill="#1a1a1a">=1.0</text>
<text x="558.50" y="473.86" font-size="14.4" fill="#1a1a1a">10 mT</text>
<text x="557.70" y="491.66" font-size="17.6" font-family="Liberation Serif, serif" fill="#1a1a1a" style="font-family:'Liberation Serif',serif">α</text>
<text x="598.70" y="491.66" font-size="14.4" text-anchor="end" fill="#1a1a1a">=1.0</text>
<text x="631.00" y="473.86" font-size="14.4" fill="#1a1a1a">15 mT</text>
<text x="630.20" y="491.66" font-size="17.6" font-family="Liberation Serif, serif" fill="#1a1a1a" style="font-family:'Liberation Serif',serif">α</text>
<text x="671.20" y="491.66" font-size="14.4" text-anchor="end" fill="#1a1a1a">=1.0</text>
<rect x="457.00" y="342.30" width="28.50" height="28.70" fill="url(#g20)"/>
<line x1="453.50" y1="373.84" x2="453.50" y2="367.38" stroke="#4a90d9" stroke-width="0.955" />
<line x1="454.93" y1="374.60" x2="459.68" y2="374.60" stroke="#5ab552" stroke-width="0.955" />
<polygon points="461.4,374.6 458.8,373.3 458.8,375.9" fill="#5ab552"/>
<text transform="translate(455.1,364.6) rotate(-90)" font-size="6.5" text-anchor="middle" font-weight="bold" fill="#333">z</text>
<text x="453.3" y="376.4" font-size="6.5" text-anchor="middle" font-weight="bold" fill="#333">x</text>
<text x="464.7" y="376.2" font-size="6.5" text-anchor="middle" fill="#333">y</text>
<rect x="493.80" y="342.30" width="28.50" height="28.70" fill="url(#g21)"/>
<line x1="490.30" y1="373.84" x2="490.30" y2="367.38" stroke="#4a90d9" stroke-width="0.955" />
<line x1="491.73" y1="374.60" x2="496.48" y2="374.60" stroke="#e0245e" stroke-width="0.955" />
<polygon points="498.2,374.6 495.6,373.3 495.6,375.9" fill="#e0245e"/>
<text transform="translate(491.9,364.6) rotate(-90)" font-size="6.5" text-anchor="middle" font-weight="bold" fill="#333">z</text>
<text x="490.1" y="376.4" font-size="6.5" text-anchor="middle" font-weight="bold" fill="#333">y</text>
<text x="501.5" y="376.2" font-size="6.5" text-anchor="middle" fill="#333">x</text>
<rect x="529.00" y="342.30" width="28.50" height="28.70" fill="url(#g22)"/>
<line x1="525.50" y1="373.84" x2="525.50" y2="367.38" stroke="#4a90d9" stroke-width="0.955" />
<line x1="526.92" y1="374.60" x2="531.67" y2="374.60" stroke="#5ab552" stroke-width="0.955" />
<polygon points="533.4,374.6 530.8,373.3 530.8,375.9" fill="#5ab552"/>
<text transform="translate(527.1,364.6) rotate(-90)" font-size="6.5" text-anchor="middle" font-weight="bold" fill="#333">z</text>
<text x="525.3" y="376.4" font-size="6.5" text-anchor="middle" font-weight="bold" fill="#333">x</text>
<text x="536.7" y="376.2" font-size="6.5" text-anchor="middle" fill="#333">y</text>
<rect x="566.10" y="342.30" width="28.50" height="28.70" fill="url(#g23)"/>
<line x1="562.60" y1="373.84" x2="562.60" y2="367.38" stroke="#4a90d9" stroke-width="0.955" />
<line x1="564.02" y1="374.60" x2="568.77" y2="374.60" stroke="#5ab552" stroke-width="0.955" />
<polygon points="570.5,374.6 567.9,373.3 567.9,375.9" fill="#5ab552"/>
<text transform="translate(564.2,364.6) rotate(-90)" font-size="6.5" text-anchor="middle" font-weight="bold" fill="#333">z</text>
<text x="562.4" y="376.4" font-size="6.5" text-anchor="middle" font-weight="bold" fill="#333">x</text>
<text x="573.8" y="376.2" font-size="6.5" text-anchor="middle" fill="#333">y</text>
<rect x="601.70" y="342.30" width="28.50" height="28.70" fill="url(#g24)"/>
<line x1="598.20" y1="373.84" x2="598.20" y2="367.38" stroke="#4a90d9" stroke-width="0.955" />
<line x1="599.62" y1="374.60" x2="604.38" y2="374.60" stroke="#e0245e" stroke-width="0.955" />
<polygon points="606.1,374.6 603.5,373.3 603.5,375.9" fill="#e0245e"/>
<text transform="translate(599.8,364.6) rotate(-90)" font-size="6.5" text-anchor="middle" font-weight="bold" fill="#333">z</text>
<text x="598.0" y="376.4" font-size="6.5" text-anchor="middle" font-weight="bold" fill="#333">y</text>
<text x="609.4" y="376.2" font-size="6.5" text-anchor="middle" fill="#333">x</text>
<rect x="637.30" y="342.30" width="28.50" height="28.70" fill="url(#g25)"/>
<line x1="633.80" y1="373.84" x2="633.80" y2="367.38" stroke="#4a90d9" stroke-width="0.955" />
<line x1="635.22" y1="374.60" x2="639.97" y2="374.60" stroke="#e0245e" stroke-width="0.955" />
<polygon points="641.7,374.6 639.1,373.3 639.1,375.9" fill="#e0245e"/>
<text transform="translate(635.4,364.6) rotate(-90)" font-size="6.5" text-anchor="middle" font-weight="bold" fill="#333">z</text>
<text x="633.6" y="376.4" font-size="6.5" text-anchor="middle" font-weight="bold" fill="#333">y</text>
<text x="645.0" y="376.2" font-size="6.5" text-anchor="middle" fill="#333">x</text>
<rect x="670.9" y="344.8" width="4.6" height="26.1" fill="url(#g26)"/>
<text x="680.30" y="350.90" font-size="14.8" text-anchor="start" fill="#141414" >21</text>
<text x="680.30" y="363.50" font-size="14.8" text-anchor="start" fill="#141414" >14</text>
<text x="680.30" y="376.20" font-size="14.8" text-anchor="start" fill="#141414" >7</text>
<text x="683.40" y="335.67" font-size="15" text-anchor="middle" fill="#141414" >(mT)</text>
<circle cx="502.5" cy="364.5" r="1.4" fill="none" stroke="#666" stroke-width="0.5" opacity="0.3"/>
<line x1="500.30" y1="364.50" x2="504.70" y2="364.50" stroke="#666" stroke-width="0.4" opacity="0.3"/>
<line x1="502.50" y1="362.30" x2="502.50" y2="366.70" stroke="#666" stroke-width="0.4" opacity="0.3"/>
<circle cx="612.5" cy="363.8" r="1.4" fill="none" stroke="#666" stroke-width="0.5" opacity="0.3"/>
<line x1="610.30" y1="363.80" x2="614.70" y2="363.80" stroke="#666" stroke-width="0.4" opacity="0.3"/>
<line x1="612.50" y1="361.60" x2="612.50" y2="366.00" stroke="#666" stroke-width="0.4" opacity="0.3"/>
<circle cx="645.5" cy="363.5" r="1.4" fill="none" stroke="#666" stroke-width="0.5" opacity="0.3"/>
<line x1="643.30" y1="363.50" x2="647.70" y2="363.50" stroke="#666" stroke-width="0.4" opacity="0.3"/>
<line x1="645.50" y1="361.30" x2="645.50" y2="365.70" stroke="#666" stroke-width="0.4" opacity="0.3"/>
</g>
</svg>
</body></html>
